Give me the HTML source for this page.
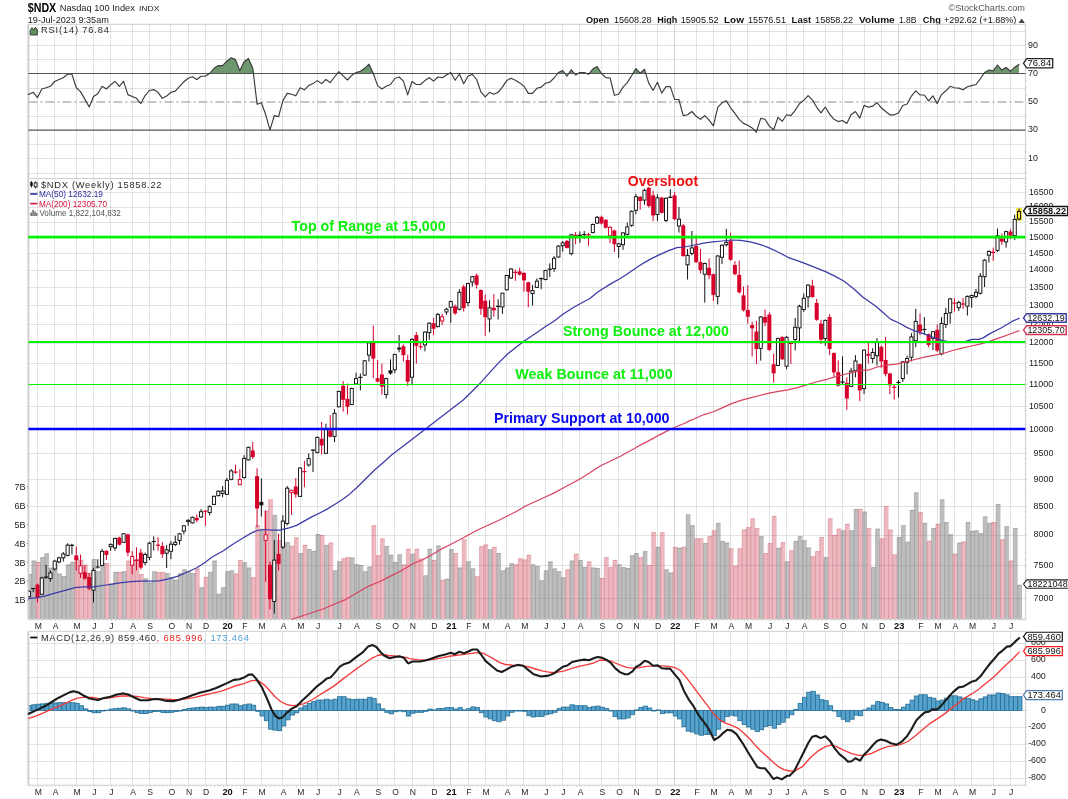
<!DOCTYPE html>
<html><head><meta charset="utf-8"><title>$NDX</title><style>html,body{margin:0;padding:0;background:#fff}svg{display:block;will-change:transform}text{font-family:"Liberation Sans",sans-serif;}</style></head><body>
<svg width="1068" height="799" viewBox="0 0 1068 799">
<rect width="1068" height="799" fill="#fff"/>
<defs><clipPath id="cpm"><rect x="28.4" y="631.3" width="997.0000000000001" height="153.9000000000001"/></clipPath><clipPath id="cpv"><rect x="28.4" y="178.5" width="997.0000000000001" height="440.79999999999995"/></clipPath></defs>
<text x="27.8" y="12.3" font-size="12.6" fill="#000" text-anchor="start" font-weight="bold" textLength="28.4" lengthAdjust="spacingAndGlyphs" >$NDX</text>
<text x="59.8" y="11.2" font-size="9.0" fill="#222" text-anchor="start" font-weight="normal" textLength="75.0" lengthAdjust="spacingAndGlyphs" >Nasdaq 100 Index</text>
<text x="139.0" y="11.2" font-size="7.9" fill="#222" text-anchor="start" font-weight="normal" textLength="20.3" lengthAdjust="spacingAndGlyphs" >INDX</text>
<text x="27.8" y="22.5" font-size="9" fill="#222" text-anchor="start" font-weight="normal" textLength="81.0" lengthAdjust="spacingAndGlyphs" >19-Jul-2023 9:35am</text>
<text x="1025.0" y="11.3" font-size="9.5" fill="#555" text-anchor="end" font-weight="normal" textLength="76.5" lengthAdjust="spacingAndGlyphs" >&#169;StockCharts.com</text>
<text x="585.9" y="22.6" font-size="9" fill="#111" text-anchor="start" font-weight="bold" textLength="23.2" lengthAdjust="spacingAndGlyphs" >Open</text>
<text x="613.9" y="22.6" font-size="9" fill="#111" text-anchor="start" font-weight="normal" textLength="37.5" lengthAdjust="spacingAndGlyphs" >15608.28</text>
<text x="657.2" y="22.6" font-size="9" fill="#111" text-anchor="start" font-weight="bold" textLength="20.0" lengthAdjust="spacingAndGlyphs" >High</text>
<text x="680.7" y="22.6" font-size="9" fill="#111" text-anchor="start" font-weight="normal" textLength="37.9" lengthAdjust="spacingAndGlyphs" >15905.52</text>
<text x="724.0" y="22.6" font-size="9" fill="#111" text-anchor="start" font-weight="bold" textLength="19.9" lengthAdjust="spacingAndGlyphs" >Low</text>
<text x="748.0" y="22.6" font-size="9" fill="#111" text-anchor="start" font-weight="normal" textLength="38.0" lengthAdjust="spacingAndGlyphs" >15576.51</text>
<text x="791.6" y="22.6" font-size="9" fill="#111" text-anchor="start" font-weight="bold" textLength="19.6" lengthAdjust="spacingAndGlyphs" >Last</text>
<text x="815.1" y="22.6" font-size="9" fill="#111" text-anchor="start" font-weight="normal" textLength="37.9" lengthAdjust="spacingAndGlyphs" >15858.22</text>
<text x="859.1" y="22.6" font-size="9" fill="#111" text-anchor="start" font-weight="bold" textLength="35.6" lengthAdjust="spacingAndGlyphs" >Volume</text>
<text x="898.9" y="22.6" font-size="9" fill="#111" text-anchor="start" font-weight="normal" textLength="17.6" lengthAdjust="spacingAndGlyphs" >1.8B</text>
<text x="922.8" y="22.6" font-size="9" fill="#111" text-anchor="start" font-weight="bold" textLength="18.0" lengthAdjust="spacingAndGlyphs" >Chg</text>
<text x="943.9" y="22.6" font-size="9" fill="#111" text-anchor="start" font-weight="normal" textLength="72.5" lengthAdjust="spacingAndGlyphs" >+292.62 (+1.88%)</text>
<path d="M1018.6,23 L1021.7,18.6 L1024.8,23 Z" fill="#444"/>
<line x1="37.5" y1="24.3" x2="37.5" y2="178.5" stroke="rgba(0,0,0,0.11)" stroke-width="1"/>
<line x1="54.5" y1="24.3" x2="54.5" y2="178.5" stroke="rgba(0,0,0,0.11)" stroke-width="1"/>
<line x1="76.5" y1="24.3" x2="76.5" y2="178.5" stroke="rgba(0,0,0,0.11)" stroke-width="1"/>
<line x1="93.5" y1="24.3" x2="93.5" y2="178.5" stroke="rgba(0,0,0,0.11)" stroke-width="1"/>
<line x1="110.5" y1="24.3" x2="110.5" y2="178.5" stroke="rgba(0,0,0,0.11)" stroke-width="1"/>
<line x1="132.5" y1="24.3" x2="132.5" y2="178.5" stroke="rgba(0,0,0,0.11)" stroke-width="1"/>
<line x1="149.5" y1="24.3" x2="149.5" y2="178.5" stroke="rgba(0,0,0,0.11)" stroke-width="1"/>
<line x1="170.5" y1="24.3" x2="170.5" y2="178.5" stroke="rgba(0,0,0,0.11)" stroke-width="1"/>
<line x1="188.5" y1="24.3" x2="188.5" y2="178.5" stroke="rgba(0,0,0,0.11)" stroke-width="1"/>
<line x1="205.5" y1="24.3" x2="205.5" y2="178.5" stroke="rgba(0,0,0,0.11)" stroke-width="1"/>
<line x1="226.5" y1="24.3" x2="226.5" y2="178.5" stroke="rgba(0,0,0,0.16)" stroke-width="1"/>
<line x1="244.5" y1="24.3" x2="244.5" y2="178.5" stroke="rgba(0,0,0,0.11)" stroke-width="1"/>
<line x1="261.5" y1="24.3" x2="261.5" y2="178.5" stroke="rgba(0,0,0,0.11)" stroke-width="1"/>
<line x1="282.5" y1="24.3" x2="282.5" y2="178.5" stroke="rgba(0,0,0,0.11)" stroke-width="1"/>
<line x1="300.5" y1="24.3" x2="300.5" y2="178.5" stroke="rgba(0,0,0,0.11)" stroke-width="1"/>
<line x1="317.5" y1="24.3" x2="317.5" y2="178.5" stroke="rgba(0,0,0,0.11)" stroke-width="1"/>
<line x1="338.5" y1="24.3" x2="338.5" y2="178.5" stroke="rgba(0,0,0,0.11)" stroke-width="1"/>
<line x1="356.5" y1="24.3" x2="356.5" y2="178.5" stroke="rgba(0,0,0,0.11)" stroke-width="1"/>
<line x1="377.5" y1="24.3" x2="377.5" y2="178.5" stroke="rgba(0,0,0,0.11)" stroke-width="1"/>
<line x1="394.5" y1="24.3" x2="394.5" y2="178.5" stroke="rgba(0,0,0,0.11)" stroke-width="1"/>
<line x1="412.5" y1="24.3" x2="412.5" y2="178.5" stroke="rgba(0,0,0,0.11)" stroke-width="1"/>
<line x1="433.5" y1="24.3" x2="433.5" y2="178.5" stroke="rgba(0,0,0,0.11)" stroke-width="1"/>
<line x1="450.5" y1="24.3" x2="450.5" y2="178.5" stroke="rgba(0,0,0,0.16)" stroke-width="1"/>
<line x1="468.5" y1="24.3" x2="468.5" y2="178.5" stroke="rgba(0,0,0,0.11)" stroke-width="1"/>
<line x1="485.5" y1="24.3" x2="485.5" y2="178.5" stroke="rgba(0,0,0,0.11)" stroke-width="1"/>
<line x1="506.5" y1="24.3" x2="506.5" y2="178.5" stroke="rgba(0,0,0,0.11)" stroke-width="1"/>
<line x1="523.5" y1="24.3" x2="523.5" y2="178.5" stroke="rgba(0,0,0,0.11)" stroke-width="1"/>
<line x1="545.5" y1="24.3" x2="545.5" y2="178.5" stroke="rgba(0,0,0,0.11)" stroke-width="1"/>
<line x1="562.5" y1="24.3" x2="562.5" y2="178.5" stroke="rgba(0,0,0,0.11)" stroke-width="1"/>
<line x1="579.5" y1="24.3" x2="579.5" y2="178.5" stroke="rgba(0,0,0,0.11)" stroke-width="1"/>
<line x1="601.5" y1="24.3" x2="601.5" y2="178.5" stroke="rgba(0,0,0,0.11)" stroke-width="1"/>
<line x1="618.5" y1="24.3" x2="618.5" y2="178.5" stroke="rgba(0,0,0,0.11)" stroke-width="1"/>
<line x1="635.5" y1="24.3" x2="635.5" y2="178.5" stroke="rgba(0,0,0,0.11)" stroke-width="1"/>
<line x1="657.5" y1="24.3" x2="657.5" y2="178.5" stroke="rgba(0,0,0,0.11)" stroke-width="1"/>
<line x1="674.5" y1="24.3" x2="674.5" y2="178.5" stroke="rgba(0,0,0,0.16)" stroke-width="1"/>
<line x1="696.5" y1="24.3" x2="696.5" y2="178.5" stroke="rgba(0,0,0,0.11)" stroke-width="1"/>
<line x1="713.5" y1="24.3" x2="713.5" y2="178.5" stroke="rgba(0,0,0,0.11)" stroke-width="1"/>
<line x1="730.5" y1="24.3" x2="730.5" y2="178.5" stroke="rgba(0,0,0,0.11)" stroke-width="1"/>
<line x1="747.5" y1="24.3" x2="747.5" y2="178.5" stroke="rgba(0,0,0,0.11)" stroke-width="1"/>
<line x1="769.5" y1="24.3" x2="769.5" y2="178.5" stroke="rgba(0,0,0,0.11)" stroke-width="1"/>
<line x1="786.5" y1="24.3" x2="786.5" y2="178.5" stroke="rgba(0,0,0,0.11)" stroke-width="1"/>
<line x1="803.5" y1="24.3" x2="803.5" y2="178.5" stroke="rgba(0,0,0,0.11)" stroke-width="1"/>
<line x1="825.5" y1="24.3" x2="825.5" y2="178.5" stroke="rgba(0,0,0,0.11)" stroke-width="1"/>
<line x1="842.5" y1="24.3" x2="842.5" y2="178.5" stroke="rgba(0,0,0,0.11)" stroke-width="1"/>
<line x1="864.5" y1="24.3" x2="864.5" y2="178.5" stroke="rgba(0,0,0,0.11)" stroke-width="1"/>
<line x1="881.5" y1="24.3" x2="881.5" y2="178.5" stroke="rgba(0,0,0,0.11)" stroke-width="1"/>
<line x1="898.5" y1="24.3" x2="898.5" y2="178.5" stroke="rgba(0,0,0,0.16)" stroke-width="1"/>
<line x1="920.5" y1="24.3" x2="920.5" y2="178.5" stroke="rgba(0,0,0,0.11)" stroke-width="1"/>
<line x1="937.5" y1="24.3" x2="937.5" y2="178.5" stroke="rgba(0,0,0,0.11)" stroke-width="1"/>
<line x1="954.5" y1="24.3" x2="954.5" y2="178.5" stroke="rgba(0,0,0,0.11)" stroke-width="1"/>
<line x1="971.5" y1="24.3" x2="971.5" y2="178.5" stroke="rgba(0,0,0,0.11)" stroke-width="1"/>
<line x1="993.5" y1="24.3" x2="993.5" y2="178.5" stroke="rgba(0,0,0,0.11)" stroke-width="1"/>
<line x1="1010.5" y1="24.3" x2="1010.5" y2="178.5" stroke="rgba(0,0,0,0.11)" stroke-width="1"/>
<line x1="28.4" y1="173.50" x2="1025.4" y2="173.50" stroke="rgba(0,0,0,0.11)" stroke-width="1" />
<line x1="28.4" y1="158.50" x2="1025.4" y2="158.50" stroke="rgba(0,0,0,0.11)" stroke-width="1" />
<line x1="28.4" y1="144.50" x2="1025.4" y2="144.50" stroke="rgba(0,0,0,0.11)" stroke-width="1" />
<line x1="28.4" y1="116.50" x2="1025.4" y2="116.50" stroke="rgba(0,0,0,0.11)" stroke-width="1" />
<line x1="28.4" y1="88.50" x2="1025.4" y2="88.50" stroke="rgba(0,0,0,0.11)" stroke-width="1" />
<line x1="28.4" y1="59.50" x2="1025.4" y2="59.50" stroke="rgba(0,0,0,0.11)" stroke-width="1" />
<line x1="28.4" y1="45.50" x2="1025.4" y2="45.50" stroke="rgba(0,0,0,0.11)" stroke-width="1" />
<line x1="28.4" y1="31.50" x2="1025.4" y2="31.50" stroke="rgba(0,0,0,0.11)" stroke-width="1" />
<rect x="28.4" y="24.3" width="997.0000000000001" height="154.2" fill="none" stroke="#cfcfcf" stroke-width="1"/>
<line x1="28.4" y1="24.3" x2="28.4" y2="178.5" stroke="#cdcdcd" stroke-width="1.8"/>
<path d="M209.7,73.5 L214.0,68.3 L218.3,65.6 L222.6,65.6 L226.9,61.2 L231.2,57.8 L235.5,59.6 L239.8,70.8 L244.1,61.8 L248.4,58.5 L252.8,68.3 L253.4,73.5 Z" fill="#6f976f" stroke="none"/>
<path d="M337.4,73.5 L338.8,71.7 L340.7,73.5 Z" fill="#6f976f" stroke="none"/>
<path d="M354.5,73.5 L356.1,72.5 L360.4,71.3 L364.7,68.3 L369.0,64.2 L373.3,73.5 Z" fill="#6f976f" stroke="none"/>
<path d="M449.1,73.5 L450.8,72.5 L451.3,73.5 Z" fill="#6f976f" stroke="none"/>
<path d="M557.6,73.5 L558.4,72.5 L562.7,70.5 L565.0,73.5 Z" fill="#6f976f" stroke="none"/>
<path d="M568.8,73.5 L571.3,69.8 L574.4,73.5 Z" fill="#6f976f" stroke="none"/>
<path d="M578.2,73.5 L579.9,72.5 L584.2,72.5 L586.6,73.5 Z" fill="#6f976f" stroke="none"/>
<path d="M589.2,73.5 L592.8,69.0 L597.1,66.5 L601.4,73.5 Z" fill="#6f976f" stroke="none"/>
<path d="M633.0,73.5 L635.9,68.6 L640.2,73.1 L644.5,69.3 L645.8,73.5 Z" fill="#6f976f" stroke="none"/>
<path d="M983.9,73.5 L984.6,72.5 L988.9,70.1 L993.2,70.8 L997.5,65.0 L1001.8,70.1 L1006.1,67.5 L1010.4,71.3 L1014.7,67.2 L1019.0,64.4 L1019.0,73.5 Z" fill="#6f976f" stroke="none"/>
<line x1="28.4" y1="73.50" x2="1025.4" y2="73.50" stroke="#555" stroke-width="1.1" />
<line x1="28.4" y1="130.10" x2="1025.4" y2="130.10" stroke="#555" stroke-width="1.1" />
<line x1="28.4" y1="102.00" x2="1025.4" y2="102.00" stroke="#b4b4b4" stroke-width="1.6" stroke-dasharray="9,3,2,3"/>
<path d="M28.4,94.6 L33.2,92.3 L37.5,97.6 L41.8,89.0 L46.1,87.8 L50.4,86.3 L54.7,81.5 L59.0,79.5 L63.3,77.7 L67.6,74.3 L71.9,74.1 L76.2,87.5 L80.5,91.6 L84.9,99.4 L89.2,107.0 L93.5,96.5 L97.8,93.8 L102.1,86.3 L106.4,89.0 L110.7,84.8 L115.0,81.4 L119.3,86.3 L123.6,81.4 L127.9,94.6 L132.2,96.5 L136.5,98.3 L140.8,103.6 L145.1,95.6 L149.4,90.5 L153.7,89.6 L158.0,92.3 L162.3,98.3 L166.6,96.1 L171.0,92.3 L175.3,91.1 L179.6,86.3 L183.9,81.8 L188.2,78.3 L192.5,76.8 L196.8,79.5 L201.1,76.2 L205.4,76.1 L209.7,73.5 L214.0,68.3 L218.3,65.6 L222.6,65.6 L226.9,61.2 L231.2,57.8 L235.5,59.6 L239.8,70.8 L244.1,61.8 L248.4,58.5 L252.8,68.3 L257.1,104.3 L261.4,102.7 L265.7,114.8 L270.0,129.8 L274.3,115.6 L278.6,116.6 L282.9,100.6 L287.2,93.4 L291.5,94.3 L295.8,95.8 L300.1,87.8 L304.4,89.8 L308.7,85.6 L313.0,83.6 L317.3,80.6 L321.6,83.6 L325.9,79.5 L330.2,82.6 L334.5,77.0 L338.8,71.7 L343.2,75.8 L347.5,80.0 L351.8,75.3 L356.1,72.5 L360.4,71.3 L364.7,68.3 L369.0,64.2 L373.3,73.5 L377.6,85.6 L381.9,89.0 L386.2,86.3 L390.5,84.5 L394.8,78.5 L399.1,77.0 L403.4,81.1 L407.7,94.9 L412.0,81.5 L416.3,84.5 L420.6,84.5 L424.9,80.6 L429.3,77.7 L433.6,81.1 L437.9,77.0 L442.2,77.7 L446.5,75.0 L450.8,72.5 L455.1,80.3 L459.4,74.0 L463.7,83.8 L468.0,76.2 L472.3,74.3 L476.6,79.5 L480.9,91.9 L485.2,96.8 L489.5,92.3 L493.8,94.3 L498.1,92.3 L502.4,87.1 L506.7,80.6 L511.0,78.3 L515.4,80.3 L519.7,82.9 L524.0,86.3 L528.3,93.4 L532.6,93.4 L536.9,88.3 L541.2,87.1 L545.5,83.3 L549.8,82.1 L554.1,78.0 L558.4,72.5 L562.7,70.5 L567.0,76.1 L571.3,69.8 L575.6,75.0 L579.9,72.5 L584.2,72.5 L588.5,74.3 L592.8,69.0 L597.1,66.5 L601.5,73.5 L605.8,77.6 L610.1,78.0 L614.4,95.3 L618.7,94.3 L623.0,87.1 L627.3,82.6 L631.6,75.8 L635.9,68.6 L640.2,73.1 L644.5,69.3 L648.8,83.3 L653.1,90.5 L657.4,82.3 L661.7,93.1 L666.0,86.6 L670.3,86.6 L674.6,99.4 L678.9,99.5 L683.2,115.6 L687.6,114.8 L691.9,111.5 L696.2,116.3 L700.5,119.3 L704.8,115.6 L709.1,120.1 L713.4,125.8 L717.7,107.3 L722.0,102.8 L726.3,100.9 L730.6,107.8 L734.9,113.3 L739.2,119.3 L743.5,123.4 L747.8,125.3 L752.1,127.9 L756.4,132.1 L760.7,118.3 L765.0,119.3 L769.3,126.1 L773.7,129.8 L778.0,117.4 L782.3,121.3 L786.6,114.8 L790.9,115.6 L795.2,110.3 L799.5,103.6 L803.8,100.3 L808.1,95.6 L812.4,99.8 L816.7,107.3 L821.0,112.9 L825.3,107.0 L829.6,114.1 L833.9,119.3 L838.2,121.6 L842.5,120.5 L846.8,123.4 L851.1,114.8 L855.4,111.5 L859.8,118.1 L864.1,105.4 L868.4,107.3 L872.7,106.1 L877.0,102.5 L881.3,107.8 L885.6,111.5 L889.9,114.8 L894.2,114.8 L898.5,113.0 L902.8,105.5 L907.1,104.0 L911.4,96.1 L915.7,90.8 L920.0,94.9 L924.3,95.0 L928.6,100.9 L932.9,95.8 L937.2,103.6 L941.5,94.6 L945.9,90.8 L950.2,86.3 L954.5,87.8 L958.8,88.1 L963.1,89.8 L967.4,86.8 L971.7,85.6 L976.0,84.5 L980.3,78.8 L984.6,72.5 L988.9,70.1 L993.2,70.8 L997.5,65.0 L1001.8,70.1 L1006.1,67.5 L1010.4,71.3 L1014.7,67.2 L1019.0,64.4" fill="none" stroke="#3a3a3a" stroke-width="1.15" stroke-linejoin="round" stroke-linecap="round" />
<text x="1028.0" y="47.5" font-size="8.5" fill="#222" text-anchor="start" font-weight="normal" textLength="9.9" lengthAdjust="spacingAndGlyphs" >90</text>
<text x="1028.0" y="75.8" font-size="8.5" fill="#222" text-anchor="start" font-weight="normal" textLength="9.9" lengthAdjust="spacingAndGlyphs" >70</text>
<text x="1028.0" y="104.1" font-size="8.5" fill="#222" text-anchor="start" font-weight="normal" textLength="9.9" lengthAdjust="spacingAndGlyphs" >50</text>
<text x="1028.0" y="132.4" font-size="8.5" fill="#222" text-anchor="start" font-weight="normal" textLength="9.9" lengthAdjust="spacingAndGlyphs" >30</text>
<text x="1028.0" y="160.7" font-size="8.5" fill="#222" text-anchor="start" font-weight="normal" textLength="9.9" lengthAdjust="spacingAndGlyphs" >10</text>
<line x1="1025.4" y1="172.6" x2="1026.8000000000002" y2="172.6" stroke="#c8c8c8" stroke-width="0.8"/>
<line x1="1025.4" y1="165.5" x2="1026.8000000000002" y2="165.5" stroke="#c8c8c8" stroke-width="0.8"/>
<line x1="1025.4" y1="158.4" x2="1026.8000000000002" y2="158.4" stroke="#c8c8c8" stroke-width="0.8"/>
<line x1="1025.4" y1="151.3" x2="1026.8000000000002" y2="151.3" stroke="#c8c8c8" stroke-width="0.8"/>
<line x1="1025.4" y1="144.2" x2="1026.8000000000002" y2="144.2" stroke="#c8c8c8" stroke-width="0.8"/>
<line x1="1025.4" y1="137.2" x2="1026.8000000000002" y2="137.2" stroke="#c8c8c8" stroke-width="0.8"/>
<line x1="1025.4" y1="130.1" x2="1026.8000000000002" y2="130.1" stroke="#c8c8c8" stroke-width="0.8"/>
<line x1="1025.4" y1="123.0" x2="1026.8000000000002" y2="123.0" stroke="#c8c8c8" stroke-width="0.8"/>
<line x1="1025.4" y1="116.0" x2="1026.8000000000002" y2="116.0" stroke="#c8c8c8" stroke-width="0.8"/>
<line x1="1025.4" y1="108.9" x2="1026.8000000000002" y2="108.9" stroke="#c8c8c8" stroke-width="0.8"/>
<line x1="1025.4" y1="101.8" x2="1026.8000000000002" y2="101.8" stroke="#c8c8c8" stroke-width="0.8"/>
<line x1="1025.4" y1="94.7" x2="1026.8000000000002" y2="94.7" stroke="#c8c8c8" stroke-width="0.8"/>
<line x1="1025.4" y1="87.6" x2="1026.8000000000002" y2="87.6" stroke="#c8c8c8" stroke-width="0.8"/>
<line x1="1025.4" y1="80.6" x2="1026.8000000000002" y2="80.6" stroke="#c8c8c8" stroke-width="0.8"/>
<line x1="1025.4" y1="73.5" x2="1026.8000000000002" y2="73.5" stroke="#c8c8c8" stroke-width="0.8"/>
<line x1="1025.4" y1="66.4" x2="1026.8000000000002" y2="66.4" stroke="#c8c8c8" stroke-width="0.8"/>
<line x1="1025.4" y1="59.3" x2="1026.8000000000002" y2="59.3" stroke="#c8c8c8" stroke-width="0.8"/>
<line x1="1025.4" y1="52.3" x2="1026.8000000000002" y2="52.3" stroke="#c8c8c8" stroke-width="0.8"/>
<line x1="1025.4" y1="45.2" x2="1026.8000000000002" y2="45.2" stroke="#c8c8c8" stroke-width="0.8"/>
<line x1="1025.4" y1="38.1" x2="1026.8000000000002" y2="38.1" stroke="#c8c8c8" stroke-width="0.8"/>
<line x1="1025.4" y1="31.0" x2="1026.8000000000002" y2="31.0" stroke="#c8c8c8" stroke-width="0.8"/>
<path d="M1023.5,63.3 L1026.7,58.7 L1052.7,58.7 L1052.7,67.9 L1026.7,67.9 Z" fill="#fff" stroke="#222" stroke-width="1.3"/>
<text x="1027.4" y="66.1" font-size="8.4" fill="#111" text-anchor="start" font-weight="normal" textLength="23.8" lengthAdjust="spacingAndGlyphs" >76.84</text>
<path d="M30.2,35 L30.2,30.5 L32,27.6 L33.6,30 L35.3,27.2 L37.3,29.8 L37.3,35 Z" fill="#5f8f5f" stroke="#222" stroke-width="0.8"/>
<text x="41.0" y="33.3" font-size="9.2" fill="#2a2a2a" text-anchor="start" font-weight="normal" textLength="67.8" lengthAdjust="spacing" >RSI(14) 76.84</text>
<line x1="37.5" y1="178.5" x2="37.5" y2="619.3" stroke="rgba(0,0,0,0.11)" stroke-width="1"/>
<line x1="54.5" y1="178.5" x2="54.5" y2="619.3" stroke="rgba(0,0,0,0.11)" stroke-width="1"/>
<line x1="76.5" y1="178.5" x2="76.5" y2="619.3" stroke="rgba(0,0,0,0.11)" stroke-width="1"/>
<line x1="93.5" y1="178.5" x2="93.5" y2="619.3" stroke="rgba(0,0,0,0.11)" stroke-width="1"/>
<line x1="110.5" y1="178.5" x2="110.5" y2="619.3" stroke="rgba(0,0,0,0.11)" stroke-width="1"/>
<line x1="132.5" y1="178.5" x2="132.5" y2="619.3" stroke="rgba(0,0,0,0.11)" stroke-width="1"/>
<line x1="149.5" y1="178.5" x2="149.5" y2="619.3" stroke="rgba(0,0,0,0.11)" stroke-width="1"/>
<line x1="170.5" y1="178.5" x2="170.5" y2="619.3" stroke="rgba(0,0,0,0.11)" stroke-width="1"/>
<line x1="188.5" y1="178.5" x2="188.5" y2="619.3" stroke="rgba(0,0,0,0.11)" stroke-width="1"/>
<line x1="205.5" y1="178.5" x2="205.5" y2="619.3" stroke="rgba(0,0,0,0.11)" stroke-width="1"/>
<line x1="226.5" y1="178.5" x2="226.5" y2="619.3" stroke="rgba(0,0,0,0.16)" stroke-width="1"/>
<line x1="244.5" y1="178.5" x2="244.5" y2="619.3" stroke="rgba(0,0,0,0.11)" stroke-width="1"/>
<line x1="261.5" y1="178.5" x2="261.5" y2="619.3" stroke="rgba(0,0,0,0.11)" stroke-width="1"/>
<line x1="282.5" y1="178.5" x2="282.5" y2="619.3" stroke="rgba(0,0,0,0.11)" stroke-width="1"/>
<line x1="300.5" y1="178.5" x2="300.5" y2="619.3" stroke="rgba(0,0,0,0.11)" stroke-width="1"/>
<line x1="317.5" y1="178.5" x2="317.5" y2="619.3" stroke="rgba(0,0,0,0.11)" stroke-width="1"/>
<line x1="338.5" y1="178.5" x2="338.5" y2="619.3" stroke="rgba(0,0,0,0.11)" stroke-width="1"/>
<line x1="356.5" y1="178.5" x2="356.5" y2="619.3" stroke="rgba(0,0,0,0.11)" stroke-width="1"/>
<line x1="377.5" y1="178.5" x2="377.5" y2="619.3" stroke="rgba(0,0,0,0.11)" stroke-width="1"/>
<line x1="394.5" y1="178.5" x2="394.5" y2="619.3" stroke="rgba(0,0,0,0.11)" stroke-width="1"/>
<line x1="412.5" y1="178.5" x2="412.5" y2="619.3" stroke="rgba(0,0,0,0.11)" stroke-width="1"/>
<line x1="433.5" y1="178.5" x2="433.5" y2="619.3" stroke="rgba(0,0,0,0.11)" stroke-width="1"/>
<line x1="450.5" y1="178.5" x2="450.5" y2="619.3" stroke="rgba(0,0,0,0.16)" stroke-width="1"/>
<line x1="468.5" y1="178.5" x2="468.5" y2="619.3" stroke="rgba(0,0,0,0.11)" stroke-width="1"/>
<line x1="485.5" y1="178.5" x2="485.5" y2="619.3" stroke="rgba(0,0,0,0.11)" stroke-width="1"/>
<line x1="506.5" y1="178.5" x2="506.5" y2="619.3" stroke="rgba(0,0,0,0.11)" stroke-width="1"/>
<line x1="523.5" y1="178.5" x2="523.5" y2="619.3" stroke="rgba(0,0,0,0.11)" stroke-width="1"/>
<line x1="545.5" y1="178.5" x2="545.5" y2="619.3" stroke="rgba(0,0,0,0.11)" stroke-width="1"/>
<line x1="562.5" y1="178.5" x2="562.5" y2="619.3" stroke="rgba(0,0,0,0.11)" stroke-width="1"/>
<line x1="579.5" y1="178.5" x2="579.5" y2="619.3" stroke="rgba(0,0,0,0.11)" stroke-width="1"/>
<line x1="601.5" y1="178.5" x2="601.5" y2="619.3" stroke="rgba(0,0,0,0.11)" stroke-width="1"/>
<line x1="618.5" y1="178.5" x2="618.5" y2="619.3" stroke="rgba(0,0,0,0.11)" stroke-width="1"/>
<line x1="635.5" y1="178.5" x2="635.5" y2="619.3" stroke="rgba(0,0,0,0.11)" stroke-width="1"/>
<line x1="657.5" y1="178.5" x2="657.5" y2="619.3" stroke="rgba(0,0,0,0.11)" stroke-width="1"/>
<line x1="674.5" y1="178.5" x2="674.5" y2="619.3" stroke="rgba(0,0,0,0.16)" stroke-width="1"/>
<line x1="696.5" y1="178.5" x2="696.5" y2="619.3" stroke="rgba(0,0,0,0.11)" stroke-width="1"/>
<line x1="713.5" y1="178.5" x2="713.5" y2="619.3" stroke="rgba(0,0,0,0.11)" stroke-width="1"/>
<line x1="730.5" y1="178.5" x2="730.5" y2="619.3" stroke="rgba(0,0,0,0.11)" stroke-width="1"/>
<line x1="747.5" y1="178.5" x2="747.5" y2="619.3" stroke="rgba(0,0,0,0.11)" stroke-width="1"/>
<line x1="769.5" y1="178.5" x2="769.5" y2="619.3" stroke="rgba(0,0,0,0.11)" stroke-width="1"/>
<line x1="786.5" y1="178.5" x2="786.5" y2="619.3" stroke="rgba(0,0,0,0.11)" stroke-width="1"/>
<line x1="803.5" y1="178.5" x2="803.5" y2="619.3" stroke="rgba(0,0,0,0.11)" stroke-width="1"/>
<line x1="825.5" y1="178.5" x2="825.5" y2="619.3" stroke="rgba(0,0,0,0.11)" stroke-width="1"/>
<line x1="842.5" y1="178.5" x2="842.5" y2="619.3" stroke="rgba(0,0,0,0.11)" stroke-width="1"/>
<line x1="864.5" y1="178.5" x2="864.5" y2="619.3" stroke="rgba(0,0,0,0.11)" stroke-width="1"/>
<line x1="881.5" y1="178.5" x2="881.5" y2="619.3" stroke="rgba(0,0,0,0.11)" stroke-width="1"/>
<line x1="898.5" y1="178.5" x2="898.5" y2="619.3" stroke="rgba(0,0,0,0.16)" stroke-width="1"/>
<line x1="920.5" y1="178.5" x2="920.5" y2="619.3" stroke="rgba(0,0,0,0.11)" stroke-width="1"/>
<line x1="937.5" y1="178.5" x2="937.5" y2="619.3" stroke="rgba(0,0,0,0.11)" stroke-width="1"/>
<line x1="954.5" y1="178.5" x2="954.5" y2="619.3" stroke="rgba(0,0,0,0.11)" stroke-width="1"/>
<line x1="971.5" y1="178.5" x2="971.5" y2="619.3" stroke="rgba(0,0,0,0.11)" stroke-width="1"/>
<line x1="993.5" y1="178.5" x2="993.5" y2="619.3" stroke="rgba(0,0,0,0.11)" stroke-width="1"/>
<line x1="1010.5" y1="178.5" x2="1010.5" y2="619.3" stroke="rgba(0,0,0,0.11)" stroke-width="1"/>
<line x1="28.4" y1="598.50" x2="1025.4" y2="598.50" stroke="rgba(0,0,0,0.11)" stroke-width="1" />
<line x1="28.4" y1="565.50" x2="1025.4" y2="565.50" stroke="rgba(0,0,0,0.11)" stroke-width="1" />
<line x1="28.4" y1="535.50" x2="1025.4" y2="535.50" stroke="rgba(0,0,0,0.11)" stroke-width="1" />
<line x1="28.4" y1="506.50" x2="1025.4" y2="506.50" stroke="rgba(0,0,0,0.11)" stroke-width="1" />
<line x1="28.4" y1="479.50" x2="1025.4" y2="479.50" stroke="rgba(0,0,0,0.11)" stroke-width="1" />
<line x1="28.4" y1="453.50" x2="1025.4" y2="453.50" stroke="rgba(0,0,0,0.11)" stroke-width="1" />
<line x1="28.4" y1="429.50" x2="1025.4" y2="429.50" stroke="rgba(0,0,0,0.11)" stroke-width="1" />
<line x1="28.4" y1="406.50" x2="1025.4" y2="406.50" stroke="rgba(0,0,0,0.11)" stroke-width="1" />
<line x1="28.4" y1="384.50" x2="1025.4" y2="384.50" stroke="rgba(0,0,0,0.11)" stroke-width="1" />
<line x1="28.4" y1="363.50" x2="1025.4" y2="363.50" stroke="rgba(0,0,0,0.11)" stroke-width="1" />
<line x1="28.4" y1="343.50" x2="1025.4" y2="343.50" stroke="rgba(0,0,0,0.11)" stroke-width="1" />
<line x1="28.4" y1="324.50" x2="1025.4" y2="324.50" stroke="rgba(0,0,0,0.11)" stroke-width="1" />
<line x1="28.4" y1="305.50" x2="1025.4" y2="305.50" stroke="rgba(0,0,0,0.11)" stroke-width="1" />
<line x1="28.4" y1="287.50" x2="1025.4" y2="287.50" stroke="rgba(0,0,0,0.11)" stroke-width="1" />
<line x1="28.4" y1="270.50" x2="1025.4" y2="270.50" stroke="rgba(0,0,0,0.11)" stroke-width="1" />
<line x1="28.4" y1="253.50" x2="1025.4" y2="253.50" stroke="rgba(0,0,0,0.11)" stroke-width="1" />
<line x1="28.4" y1="237.50" x2="1025.4" y2="237.50" stroke="rgba(0,0,0,0.11)" stroke-width="1" />
<line x1="28.4" y1="222.50" x2="1025.4" y2="222.50" stroke="rgba(0,0,0,0.11)" stroke-width="1" />
<line x1="28.4" y1="207.50" x2="1025.4" y2="207.50" stroke="rgba(0,0,0,0.11)" stroke-width="1" />
<line x1="28.4" y1="192.50" x2="1025.4" y2="192.50" stroke="rgba(0,0,0,0.11)" stroke-width="1" />
<g clip-path="url(#cpv)">
<rect x="27.54" y="574.2" width="4.30" height="45.1" fill="rgba(126,126,126,0.50)"/>
<path d="M27.54,619.3 V574.5 H31.84" fill="none" stroke="rgba(95,95,95,0.32)" stroke-width="0.9"/>
<rect x="31.84" y="560.7" width="4.30" height="58.6" fill="rgba(126,126,126,0.50)"/>
<path d="M31.84,619.3 V561.0 H36.15" fill="none" stroke="rgba(95,95,95,0.32)" stroke-width="0.9"/>
<rect x="36.15" y="562.0" width="4.30" height="57.3" fill="rgba(205,60,80,0.36)"/>
<path d="M36.15,619.3 V562.3 H40.45" fill="none" stroke="rgba(195,50,75,0.30)" stroke-width="0.9"/>
<rect x="40.45" y="557.3" width="4.30" height="62.0" fill="rgba(126,126,126,0.50)"/>
<path d="M40.45,619.3 V557.6 H44.76" fill="none" stroke="rgba(95,95,95,0.32)" stroke-width="0.9"/>
<rect x="44.76" y="553.6" width="4.30" height="65.7" fill="rgba(126,126,126,0.50)"/>
<path d="M44.76,619.3 V553.9 H49.06" fill="none" stroke="rgba(95,95,95,0.32)" stroke-width="0.9"/>
<rect x="49.06" y="567.7" width="4.30" height="51.6" fill="rgba(126,126,126,0.50)"/>
<path d="M49.06,619.3 V568.0 H53.37" fill="none" stroke="rgba(95,95,95,0.32)" stroke-width="0.9"/>
<rect x="53.37" y="563.9" width="4.30" height="55.4" fill="rgba(126,126,126,0.50)"/>
<path d="M53.37,619.3 V564.2 H57.67" fill="none" stroke="rgba(95,95,95,0.32)" stroke-width="0.9"/>
<rect x="57.67" y="573.7" width="4.30" height="45.6" fill="rgba(126,126,126,0.50)"/>
<path d="M57.67,619.3 V574.0 H61.98" fill="none" stroke="rgba(95,95,95,0.32)" stroke-width="0.9"/>
<rect x="61.98" y="576.1" width="4.30" height="43.2" fill="rgba(126,126,126,0.50)"/>
<path d="M61.98,619.3 V576.4 H66.28" fill="none" stroke="rgba(95,95,95,0.32)" stroke-width="0.9"/>
<rect x="66.28" y="564.5" width="4.30" height="54.8" fill="rgba(126,126,126,0.50)"/>
<path d="M66.28,619.3 V564.8 H70.59" fill="none" stroke="rgba(95,95,95,0.32)" stroke-width="0.9"/>
<rect x="70.59" y="562.0" width="4.30" height="57.3" fill="rgba(126,126,126,0.50)"/>
<path d="M70.59,619.3 V562.3 H74.89" fill="none" stroke="rgba(95,95,95,0.32)" stroke-width="0.9"/>
<rect x="74.89" y="558.3" width="4.30" height="61.0" fill="rgba(205,60,80,0.36)"/>
<path d="M74.89,619.3 V558.6 H79.20" fill="none" stroke="rgba(195,50,75,0.30)" stroke-width="0.9"/>
<rect x="79.20" y="560.1" width="4.30" height="59.2" fill="rgba(205,60,80,0.36)"/>
<path d="M79.20,619.3 V560.4 H83.50" fill="none" stroke="rgba(195,50,75,0.30)" stroke-width="0.9"/>
<rect x="83.50" y="564.8" width="4.30" height="54.5" fill="rgba(205,60,80,0.36)"/>
<path d="M83.50,619.3 V565.1 H87.81" fill="none" stroke="rgba(195,50,75,0.30)" stroke-width="0.9"/>
<rect x="87.81" y="572.9" width="4.30" height="46.4" fill="rgba(205,60,80,0.36)"/>
<path d="M87.81,619.3 V573.2 H92.11" fill="none" stroke="rgba(195,50,75,0.30)" stroke-width="0.9"/>
<rect x="92.11" y="559.2" width="4.30" height="60.1" fill="rgba(126,126,126,0.50)"/>
<path d="M92.11,619.3 V559.5 H96.42" fill="none" stroke="rgba(95,95,95,0.32)" stroke-width="0.9"/>
<rect x="96.42" y="571.4" width="4.30" height="47.9" fill="rgba(126,126,126,0.50)"/>
<path d="M96.42,619.3 V571.7 H100.72" fill="none" stroke="rgba(95,95,95,0.32)" stroke-width="0.9"/>
<rect x="100.72" y="563.0" width="4.30" height="56.3" fill="rgba(126,126,126,0.50)"/>
<path d="M100.72,619.3 V563.3 H105.03" fill="none" stroke="rgba(95,95,95,0.32)" stroke-width="0.9"/>
<rect x="105.03" y="563.3" width="4.30" height="56.0" fill="rgba(205,60,80,0.36)"/>
<path d="M105.03,619.3 V563.6 H109.33" fill="none" stroke="rgba(195,50,75,0.30)" stroke-width="0.9"/>
<rect x="109.33" y="583.6" width="4.30" height="35.7" fill="rgba(126,126,126,0.50)"/>
<path d="M109.33,619.3 V583.9 H113.64" fill="none" stroke="rgba(95,95,95,0.32)" stroke-width="0.9"/>
<rect x="113.64" y="572.0" width="4.30" height="47.3" fill="rgba(126,126,126,0.50)"/>
<path d="M113.64,619.3 V572.3 H117.94" fill="none" stroke="rgba(95,95,95,0.32)" stroke-width="0.9"/>
<rect x="117.94" y="572.0" width="4.30" height="47.3" fill="rgba(205,60,80,0.36)"/>
<path d="M117.94,619.3 V572.3 H122.25" fill="none" stroke="rgba(195,50,75,0.30)" stroke-width="0.9"/>
<rect x="122.25" y="571.4" width="4.30" height="47.9" fill="rgba(126,126,126,0.50)"/>
<path d="M122.25,619.3 V571.7 H126.55" fill="none" stroke="rgba(95,95,95,0.32)" stroke-width="0.9"/>
<rect x="126.55" y="560.7" width="4.30" height="58.6" fill="rgba(205,60,80,0.36)"/>
<path d="M126.55,619.3 V561.0 H130.86" fill="none" stroke="rgba(195,50,75,0.30)" stroke-width="0.9"/>
<rect x="130.86" y="560.1" width="4.30" height="59.2" fill="rgba(205,60,80,0.36)"/>
<path d="M130.86,619.3 V560.4 H135.16" fill="none" stroke="rgba(195,50,75,0.30)" stroke-width="0.9"/>
<rect x="135.16" y="559.2" width="4.30" height="60.1" fill="rgba(205,60,80,0.36)"/>
<path d="M135.16,619.3 V559.5 H139.47" fill="none" stroke="rgba(195,50,75,0.30)" stroke-width="0.9"/>
<rect x="139.47" y="574.2" width="4.30" height="45.1" fill="rgba(205,60,80,0.36)"/>
<path d="M139.47,619.3 V574.5 H143.77" fill="none" stroke="rgba(195,50,75,0.30)" stroke-width="0.9"/>
<rect x="143.77" y="578.5" width="4.30" height="40.8" fill="rgba(126,126,126,0.50)"/>
<path d="M143.77,619.3 V578.8 H148.08" fill="none" stroke="rgba(95,95,95,0.32)" stroke-width="0.9"/>
<rect x="148.08" y="582.7" width="4.30" height="36.6" fill="rgba(126,126,126,0.50)"/>
<path d="M148.08,619.3 V583.0 H152.38" fill="none" stroke="rgba(95,95,95,0.32)" stroke-width="0.9"/>
<rect x="152.38" y="571.4" width="4.30" height="47.9" fill="rgba(126,126,126,0.50)"/>
<path d="M152.38,619.3 V571.7 H156.69" fill="none" stroke="rgba(95,95,95,0.32)" stroke-width="0.9"/>
<rect x="156.69" y="572.3" width="4.30" height="47.0" fill="rgba(205,60,80,0.36)"/>
<path d="M156.69,619.3 V572.6 H160.99" fill="none" stroke="rgba(195,50,75,0.30)" stroke-width="0.9"/>
<rect x="160.99" y="572.0" width="4.30" height="47.3" fill="rgba(205,60,80,0.36)"/>
<path d="M160.99,619.3 V572.3 H165.30" fill="none" stroke="rgba(195,50,75,0.30)" stroke-width="0.9"/>
<rect x="165.30" y="573.3" width="4.30" height="46.0" fill="rgba(126,126,126,0.50)"/>
<path d="M165.30,619.3 V573.6 H169.60" fill="none" stroke="rgba(95,95,95,0.32)" stroke-width="0.9"/>
<rect x="169.60" y="577.0" width="4.30" height="42.3" fill="rgba(126,126,126,0.50)"/>
<path d="M169.60,619.3 V577.3 H173.91" fill="none" stroke="rgba(95,95,95,0.32)" stroke-width="0.9"/>
<rect x="173.91" y="579.9" width="4.30" height="39.4" fill="rgba(126,126,126,0.50)"/>
<path d="M173.91,619.3 V580.2 H178.21" fill="none" stroke="rgba(95,95,95,0.32)" stroke-width="0.9"/>
<rect x="178.21" y="573.3" width="4.30" height="46.0" fill="rgba(126,126,126,0.50)"/>
<path d="M178.21,619.3 V573.6 H182.52" fill="none" stroke="rgba(95,95,95,0.32)" stroke-width="0.9"/>
<rect x="182.52" y="569.5" width="4.30" height="49.8" fill="rgba(126,126,126,0.50)"/>
<path d="M182.52,619.3 V569.8 H186.82" fill="none" stroke="rgba(95,95,95,0.32)" stroke-width="0.9"/>
<rect x="186.82" y="571.4" width="4.30" height="47.9" fill="rgba(126,126,126,0.50)"/>
<path d="M186.82,619.3 V571.7 H191.13" fill="none" stroke="rgba(95,95,95,0.32)" stroke-width="0.9"/>
<rect x="191.13" y="573.3" width="4.30" height="46.0" fill="rgba(126,126,126,0.50)"/>
<path d="M191.13,619.3 V573.6 H195.43" fill="none" stroke="rgba(95,95,95,0.32)" stroke-width="0.9"/>
<rect x="195.43" y="568.6" width="4.30" height="50.7" fill="rgba(205,60,80,0.36)"/>
<path d="M195.43,619.3 V568.9 H199.74" fill="none" stroke="rgba(195,50,75,0.30)" stroke-width="0.9"/>
<rect x="199.74" y="587.4" width="4.30" height="31.9" fill="rgba(126,126,126,0.50)"/>
<path d="M199.74,619.3 V587.7 H204.04" fill="none" stroke="rgba(95,95,95,0.32)" stroke-width="0.9"/>
<rect x="204.04" y="577.0" width="4.30" height="42.3" fill="rgba(205,60,80,0.36)"/>
<path d="M204.04,619.3 V577.3 H208.35" fill="none" stroke="rgba(195,50,75,0.30)" stroke-width="0.9"/>
<rect x="208.35" y="572.0" width="4.30" height="47.3" fill="rgba(126,126,126,0.50)"/>
<path d="M208.35,619.3 V572.3 H212.65" fill="none" stroke="rgba(95,95,95,0.32)" stroke-width="0.9"/>
<rect x="212.65" y="560.7" width="4.30" height="58.6" fill="rgba(126,126,126,0.50)"/>
<path d="M212.65,619.3 V561.0 H216.96" fill="none" stroke="rgba(95,95,95,0.32)" stroke-width="0.9"/>
<rect x="216.96" y="593.9" width="4.30" height="25.4" fill="rgba(126,126,126,0.50)"/>
<path d="M216.96,619.3 V594.2 H221.26" fill="none" stroke="rgba(95,95,95,0.32)" stroke-width="0.9"/>
<rect x="221.26" y="587.4" width="4.30" height="31.9" fill="rgba(126,126,126,0.50)"/>
<path d="M221.26,619.3 V587.7 H225.57" fill="none" stroke="rgba(95,95,95,0.32)" stroke-width="0.9"/>
<rect x="225.57" y="571.4" width="4.30" height="47.9" fill="rgba(126,126,126,0.50)"/>
<path d="M225.57,619.3 V571.7 H229.87" fill="none" stroke="rgba(95,95,95,0.32)" stroke-width="0.9"/>
<rect x="229.87" y="570.5" width="4.30" height="48.8" fill="rgba(126,126,126,0.50)"/>
<path d="M229.87,619.3 V570.8 H234.18" fill="none" stroke="rgba(95,95,95,0.32)" stroke-width="0.9"/>
<rect x="234.18" y="573.7" width="4.30" height="45.6" fill="rgba(205,60,80,0.36)"/>
<path d="M234.18,619.3 V574.0 H238.48" fill="none" stroke="rgba(195,50,75,0.30)" stroke-width="0.9"/>
<rect x="238.48" y="560.1" width="4.30" height="59.2" fill="rgba(205,60,80,0.36)"/>
<path d="M238.48,619.3 V560.4 H242.79" fill="none" stroke="rgba(195,50,75,0.30)" stroke-width="0.9"/>
<rect x="242.79" y="562.4" width="4.30" height="56.9" fill="rgba(126,126,126,0.50)"/>
<path d="M242.79,619.3 V562.7 H247.09" fill="none" stroke="rgba(95,95,95,0.32)" stroke-width="0.9"/>
<rect x="247.09" y="567.7" width="4.30" height="51.6" fill="rgba(126,126,126,0.50)"/>
<path d="M247.09,619.3 V568.0 H251.40" fill="none" stroke="rgba(95,95,95,0.32)" stroke-width="0.9"/>
<rect x="251.40" y="577.4" width="4.30" height="41.9" fill="rgba(205,60,80,0.36)"/>
<path d="M251.40,619.3 V577.7 H255.70" fill="none" stroke="rgba(195,50,75,0.30)" stroke-width="0.9"/>
<rect x="255.70" y="525.4" width="4.30" height="93.9" fill="rgba(205,60,80,0.36)"/>
<path d="M255.70,619.3 V525.7 H260.01" fill="none" stroke="rgba(195,50,75,0.30)" stroke-width="0.9"/>
<rect x="260.01" y="529.0" width="4.30" height="90.3" fill="rgba(126,126,126,0.50)"/>
<path d="M260.01,619.3 V529.3 H264.31" fill="none" stroke="rgba(95,95,95,0.32)" stroke-width="0.9"/>
<rect x="264.31" y="510.9" width="4.30" height="108.4" fill="rgba(205,60,80,0.36)"/>
<path d="M264.31,619.3 V511.2 H268.62" fill="none" stroke="rgba(195,50,75,0.30)" stroke-width="0.9"/>
<rect x="268.62" y="499.5" width="4.30" height="119.8" fill="rgba(205,60,80,0.36)"/>
<path d="M268.62,619.3 V499.8 H272.92" fill="none" stroke="rgba(195,50,75,0.30)" stroke-width="0.9"/>
<rect x="272.92" y="515.1" width="4.30" height="104.2" fill="rgba(126,126,126,0.50)"/>
<path d="M272.92,619.3 V515.4 H277.23" fill="none" stroke="rgba(95,95,95,0.32)" stroke-width="0.9"/>
<rect x="277.23" y="540.4" width="4.30" height="78.9" fill="rgba(205,60,80,0.36)"/>
<path d="M277.23,619.3 V540.7 H281.53" fill="none" stroke="rgba(195,50,75,0.30)" stroke-width="0.9"/>
<rect x="281.53" y="543.2" width="4.30" height="76.1" fill="rgba(126,126,126,0.50)"/>
<path d="M281.53,619.3 V543.5 H285.84" fill="none" stroke="rgba(95,95,95,0.32)" stroke-width="0.9"/>
<rect x="285.84" y="542.3" width="4.30" height="77.0" fill="rgba(126,126,126,0.50)"/>
<path d="M285.84,619.3 V542.6 H290.14" fill="none" stroke="rgba(95,95,95,0.32)" stroke-width="0.9"/>
<rect x="290.14" y="545.9" width="4.30" height="73.4" fill="rgba(205,60,80,0.36)"/>
<path d="M290.14,619.3 V546.2 H294.45" fill="none" stroke="rgba(195,50,75,0.30)" stroke-width="0.9"/>
<rect x="294.45" y="537.6" width="4.30" height="81.7" fill="rgba(205,60,80,0.36)"/>
<path d="M294.45,619.3 V537.9 H298.75" fill="none" stroke="rgba(195,50,75,0.30)" stroke-width="0.9"/>
<rect x="298.75" y="553.2" width="4.30" height="66.1" fill="rgba(126,126,126,0.50)"/>
<path d="M298.75,619.3 V553.5 H303.06" fill="none" stroke="rgba(95,95,95,0.32)" stroke-width="0.9"/>
<rect x="303.06" y="545.1" width="4.30" height="74.2" fill="rgba(205,60,80,0.36)"/>
<path d="M303.06,619.3 V545.4 H307.36" fill="none" stroke="rgba(195,50,75,0.30)" stroke-width="0.9"/>
<rect x="307.36" y="549.2" width="4.30" height="70.1" fill="rgba(126,126,126,0.50)"/>
<path d="M307.36,619.3 V549.5 H311.67" fill="none" stroke="rgba(95,95,95,0.32)" stroke-width="0.9"/>
<rect x="311.67" y="551.1" width="4.30" height="68.2" fill="rgba(126,126,126,0.50)"/>
<path d="M311.67,619.3 V551.4 H315.97" fill="none" stroke="rgba(95,95,95,0.32)" stroke-width="0.9"/>
<rect x="315.97" y="534.2" width="4.30" height="85.1" fill="rgba(126,126,126,0.50)"/>
<path d="M315.97,619.3 V534.5 H320.28" fill="none" stroke="rgba(95,95,95,0.32)" stroke-width="0.9"/>
<rect x="320.28" y="535.2" width="4.30" height="84.1" fill="rgba(205,60,80,0.36)"/>
<path d="M320.28,619.3 V535.5 H324.58" fill="none" stroke="rgba(195,50,75,0.30)" stroke-width="0.9"/>
<rect x="324.58" y="545.1" width="4.30" height="74.2" fill="rgba(126,126,126,0.50)"/>
<path d="M324.58,619.3 V545.4 H328.89" fill="none" stroke="rgba(95,95,95,0.32)" stroke-width="0.9"/>
<rect x="328.89" y="542.7" width="4.30" height="76.6" fill="rgba(205,60,80,0.36)"/>
<path d="M328.89,619.3 V543.0 H333.19" fill="none" stroke="rgba(195,50,75,0.30)" stroke-width="0.9"/>
<rect x="333.19" y="570.5" width="4.30" height="48.8" fill="rgba(126,126,126,0.50)"/>
<path d="M333.19,619.3 V570.8 H337.50" fill="none" stroke="rgba(95,95,95,0.32)" stroke-width="0.9"/>
<rect x="337.50" y="561.5" width="4.30" height="57.8" fill="rgba(126,126,126,0.50)"/>
<path d="M337.50,619.3 V561.8 H341.80" fill="none" stroke="rgba(95,95,95,0.32)" stroke-width="0.9"/>
<rect x="341.80" y="558.3" width="4.30" height="61.0" fill="rgba(205,60,80,0.36)"/>
<path d="M341.80,619.3 V558.6 H346.11" fill="none" stroke="rgba(195,50,75,0.30)" stroke-width="0.9"/>
<rect x="346.11" y="557.3" width="4.30" height="62.0" fill="rgba(205,60,80,0.36)"/>
<path d="M346.11,619.3 V557.6 H350.41" fill="none" stroke="rgba(195,50,75,0.30)" stroke-width="0.9"/>
<rect x="350.41" y="557.7" width="4.30" height="61.6" fill="rgba(126,126,126,0.50)"/>
<path d="M350.41,619.3 V558.0 H354.72" fill="none" stroke="rgba(95,95,95,0.32)" stroke-width="0.9"/>
<rect x="354.72" y="564.3" width="4.30" height="55.0" fill="rgba(126,126,126,0.50)"/>
<path d="M354.72,619.3 V564.6 H359.02" fill="none" stroke="rgba(95,95,95,0.32)" stroke-width="0.9"/>
<rect x="359.02" y="565.2" width="4.30" height="54.1" fill="rgba(126,126,126,0.50)"/>
<path d="M359.02,619.3 V565.5 H363.33" fill="none" stroke="rgba(95,95,95,0.32)" stroke-width="0.9"/>
<rect x="363.33" y="571.4" width="4.30" height="47.9" fill="rgba(126,126,126,0.50)"/>
<path d="M363.33,619.3 V571.7 H367.63" fill="none" stroke="rgba(95,95,95,0.32)" stroke-width="0.9"/>
<rect x="367.63" y="566.7" width="4.30" height="52.6" fill="rgba(126,126,126,0.50)"/>
<path d="M367.63,619.3 V567.0 H371.94" fill="none" stroke="rgba(95,95,95,0.32)" stroke-width="0.9"/>
<rect x="371.94" y="525.4" width="4.30" height="93.9" fill="rgba(205,60,80,0.36)"/>
<path d="M371.94,619.3 V525.7 H376.24" fill="none" stroke="rgba(195,50,75,0.30)" stroke-width="0.9"/>
<rect x="376.24" y="555.4" width="4.30" height="63.9" fill="rgba(205,60,80,0.36)"/>
<path d="M376.24,619.3 V555.7 H380.55" fill="none" stroke="rgba(195,50,75,0.30)" stroke-width="0.9"/>
<rect x="380.55" y="538.5" width="4.30" height="80.8" fill="rgba(205,60,80,0.36)"/>
<path d="M380.55,619.3 V538.8 H384.85" fill="none" stroke="rgba(195,50,75,0.30)" stroke-width="0.9"/>
<rect x="384.85" y="546.1" width="4.30" height="73.2" fill="rgba(126,126,126,0.50)"/>
<path d="M384.85,619.3 V546.4 H389.16" fill="none" stroke="rgba(95,95,95,0.32)" stroke-width="0.9"/>
<rect x="389.16" y="554.9" width="4.30" height="64.4" fill="rgba(126,126,126,0.50)"/>
<path d="M389.16,619.3 V555.2 H393.46" fill="none" stroke="rgba(95,95,95,0.32)" stroke-width="0.9"/>
<rect x="393.46" y="562.0" width="4.30" height="57.3" fill="rgba(126,126,126,0.50)"/>
<path d="M393.46,619.3 V562.3 H397.77" fill="none" stroke="rgba(95,95,95,0.32)" stroke-width="0.9"/>
<rect x="397.77" y="554.5" width="4.30" height="64.8" fill="rgba(126,126,126,0.50)"/>
<path d="M397.77,619.3 V554.8 H402.07" fill="none" stroke="rgba(95,95,95,0.32)" stroke-width="0.9"/>
<rect x="402.07" y="564.5" width="4.30" height="54.8" fill="rgba(205,60,80,0.36)"/>
<path d="M402.07,619.3 V564.8 H406.38" fill="none" stroke="rgba(195,50,75,0.30)" stroke-width="0.9"/>
<rect x="406.38" y="548.9" width="4.30" height="70.4" fill="rgba(205,60,80,0.36)"/>
<path d="M406.38,619.3 V549.2 H410.68" fill="none" stroke="rgba(195,50,75,0.30)" stroke-width="0.9"/>
<rect x="410.68" y="553.9" width="4.30" height="65.4" fill="rgba(126,126,126,0.50)"/>
<path d="M410.68,619.3 V554.2 H414.99" fill="none" stroke="rgba(95,95,95,0.32)" stroke-width="0.9"/>
<rect x="414.99" y="548.9" width="4.30" height="70.4" fill="rgba(205,60,80,0.36)"/>
<path d="M414.99,619.3 V549.2 H419.29" fill="none" stroke="rgba(195,50,75,0.30)" stroke-width="0.9"/>
<rect x="419.29" y="558.6" width="4.30" height="60.7" fill="rgba(205,60,80,0.36)"/>
<path d="M419.29,619.3 V558.9 H423.60" fill="none" stroke="rgba(195,50,75,0.30)" stroke-width="0.9"/>
<rect x="423.60" y="575.5" width="4.30" height="43.8" fill="rgba(126,126,126,0.50)"/>
<path d="M423.60,619.3 V575.8 H427.90" fill="none" stroke="rgba(95,95,95,0.32)" stroke-width="0.9"/>
<rect x="427.90" y="548.9" width="4.30" height="70.4" fill="rgba(126,126,126,0.50)"/>
<path d="M427.90,619.3 V549.2 H432.21" fill="none" stroke="rgba(95,95,95,0.32)" stroke-width="0.9"/>
<rect x="432.21" y="560.1" width="4.30" height="59.2" fill="rgba(205,60,80,0.36)"/>
<path d="M432.21,619.3 V560.4 H436.51" fill="none" stroke="rgba(195,50,75,0.30)" stroke-width="0.9"/>
<rect x="436.51" y="545.5" width="4.30" height="73.8" fill="rgba(126,126,126,0.50)"/>
<path d="M436.51,619.3 V545.8 H440.82" fill="none" stroke="rgba(95,95,95,0.32)" stroke-width="0.9"/>
<rect x="440.82" y="579.9" width="4.30" height="39.4" fill="rgba(205,60,80,0.36)"/>
<path d="M440.82,619.3 V580.2 H445.12" fill="none" stroke="rgba(195,50,75,0.30)" stroke-width="0.9"/>
<rect x="445.12" y="578.9" width="4.30" height="40.4" fill="rgba(126,126,126,0.50)"/>
<path d="M445.12,619.3 V579.2 H449.43" fill="none" stroke="rgba(95,95,95,0.32)" stroke-width="0.9"/>
<rect x="449.43" y="549.4" width="4.30" height="69.9" fill="rgba(126,126,126,0.50)"/>
<path d="M449.43,619.3 V549.7 H453.73" fill="none" stroke="rgba(95,95,95,0.32)" stroke-width="0.9"/>
<rect x="453.73" y="553.2" width="4.30" height="66.1" fill="rgba(205,60,80,0.36)"/>
<path d="M453.73,619.3 V553.5 H458.04" fill="none" stroke="rgba(195,50,75,0.30)" stroke-width="0.9"/>
<rect x="458.04" y="567.7" width="4.30" height="51.6" fill="rgba(126,126,126,0.50)"/>
<path d="M458.04,619.3 V568.0 H462.34" fill="none" stroke="rgba(95,95,95,0.32)" stroke-width="0.9"/>
<rect x="462.34" y="539.5" width="4.30" height="79.8" fill="rgba(205,60,80,0.36)"/>
<path d="M462.34,619.3 V539.8 H466.65" fill="none" stroke="rgba(195,50,75,0.30)" stroke-width="0.9"/>
<rect x="466.65" y="561.6" width="4.30" height="57.7" fill="rgba(126,126,126,0.50)"/>
<path d="M466.65,619.3 V561.9 H470.95" fill="none" stroke="rgba(95,95,95,0.32)" stroke-width="0.9"/>
<rect x="470.95" y="568.6" width="4.30" height="50.7" fill="rgba(126,126,126,0.50)"/>
<path d="M470.95,619.3 V568.9 H475.26" fill="none" stroke="rgba(95,95,95,0.32)" stroke-width="0.9"/>
<rect x="475.26" y="576.5" width="4.30" height="42.8" fill="rgba(205,60,80,0.36)"/>
<path d="M475.26,619.3 V576.8 H479.56" fill="none" stroke="rgba(195,50,75,0.30)" stroke-width="0.9"/>
<rect x="479.56" y="546.4" width="4.30" height="72.9" fill="rgba(205,60,80,0.36)"/>
<path d="M479.56,619.3 V546.7 H483.87" fill="none" stroke="rgba(195,50,75,0.30)" stroke-width="0.9"/>
<rect x="483.87" y="544.6" width="4.30" height="74.7" fill="rgba(205,60,80,0.36)"/>
<path d="M483.87,619.3 V544.9 H488.17" fill="none" stroke="rgba(195,50,75,0.30)" stroke-width="0.9"/>
<rect x="488.17" y="549.4" width="4.30" height="69.9" fill="rgba(126,126,126,0.50)"/>
<path d="M488.17,619.3 V549.7 H492.48" fill="none" stroke="rgba(95,95,95,0.32)" stroke-width="0.9"/>
<rect x="492.48" y="547.0" width="4.30" height="72.3" fill="rgba(205,60,80,0.36)"/>
<path d="M492.48,619.3 V547.3 H496.78" fill="none" stroke="rgba(195,50,75,0.30)" stroke-width="0.9"/>
<rect x="496.78" y="553.2" width="4.30" height="66.1" fill="rgba(126,126,126,0.50)"/>
<path d="M496.78,619.3 V553.5 H501.09" fill="none" stroke="rgba(95,95,95,0.32)" stroke-width="0.9"/>
<rect x="501.09" y="570.5" width="4.30" height="48.8" fill="rgba(126,126,126,0.50)"/>
<path d="M501.09,619.3 V570.8 H505.39" fill="none" stroke="rgba(95,95,95,0.32)" stroke-width="0.9"/>
<rect x="505.39" y="567.7" width="4.30" height="51.6" fill="rgba(126,126,126,0.50)"/>
<path d="M505.39,619.3 V568.0 H509.70" fill="none" stroke="rgba(95,95,95,0.32)" stroke-width="0.9"/>
<rect x="509.70" y="563.3" width="4.30" height="56.0" fill="rgba(126,126,126,0.50)"/>
<path d="M509.70,619.3 V563.6 H514.00" fill="none" stroke="rgba(95,95,95,0.32)" stroke-width="0.9"/>
<rect x="514.00" y="564.5" width="4.30" height="54.8" fill="rgba(205,60,80,0.36)"/>
<path d="M514.00,619.3 V564.8 H518.31" fill="none" stroke="rgba(195,50,75,0.30)" stroke-width="0.9"/>
<rect x="518.31" y="558.3" width="4.30" height="61.0" fill="rgba(205,60,80,0.36)"/>
<path d="M518.31,619.3 V558.6 H522.61" fill="none" stroke="rgba(195,50,75,0.30)" stroke-width="0.9"/>
<rect x="522.61" y="559.6" width="4.30" height="59.7" fill="rgba(205,60,80,0.36)"/>
<path d="M522.61,619.3 V559.9 H526.92" fill="none" stroke="rgba(195,50,75,0.30)" stroke-width="0.9"/>
<rect x="526.92" y="554.9" width="4.30" height="64.4" fill="rgba(205,60,80,0.36)"/>
<path d="M526.92,619.3 V555.2 H531.22" fill="none" stroke="rgba(195,50,75,0.30)" stroke-width="0.9"/>
<rect x="531.22" y="564.5" width="4.30" height="54.8" fill="rgba(126,126,126,0.50)"/>
<path d="M531.22,619.3 V564.8 H535.53" fill="none" stroke="rgba(95,95,95,0.32)" stroke-width="0.9"/>
<rect x="535.53" y="566.2" width="4.30" height="53.1" fill="rgba(126,126,126,0.50)"/>
<path d="M535.53,619.3 V566.5 H539.83" fill="none" stroke="rgba(95,95,95,0.32)" stroke-width="0.9"/>
<rect x="539.83" y="580.4" width="4.30" height="38.9" fill="rgba(126,126,126,0.50)"/>
<path d="M539.83,619.3 V580.7 H544.14" fill="none" stroke="rgba(95,95,95,0.32)" stroke-width="0.9"/>
<rect x="544.14" y="570.5" width="4.30" height="48.8" fill="rgba(126,126,126,0.50)"/>
<path d="M544.14,619.3 V570.8 H548.44" fill="none" stroke="rgba(95,95,95,0.32)" stroke-width="0.9"/>
<rect x="548.44" y="561.6" width="4.30" height="57.7" fill="rgba(126,126,126,0.50)"/>
<path d="M548.44,619.3 V561.9 H552.75" fill="none" stroke="rgba(95,95,95,0.32)" stroke-width="0.9"/>
<rect x="552.75" y="568.6" width="4.30" height="50.7" fill="rgba(126,126,126,0.50)"/>
<path d="M552.75,619.3 V568.9 H557.05" fill="none" stroke="rgba(95,95,95,0.32)" stroke-width="0.9"/>
<rect x="557.05" y="571.4" width="4.30" height="47.9" fill="rgba(126,126,126,0.50)"/>
<path d="M557.05,619.3 V571.7 H561.36" fill="none" stroke="rgba(95,95,95,0.32)" stroke-width="0.9"/>
<rect x="561.36" y="577.4" width="4.30" height="41.9" fill="rgba(126,126,126,0.50)"/>
<path d="M561.36,619.3 V577.7 H565.66" fill="none" stroke="rgba(95,95,95,0.32)" stroke-width="0.9"/>
<rect x="565.66" y="569.5" width="4.30" height="49.8" fill="rgba(205,60,80,0.36)"/>
<path d="M565.66,619.3 V569.8 H569.97" fill="none" stroke="rgba(195,50,75,0.30)" stroke-width="0.9"/>
<rect x="569.97" y="560.7" width="4.30" height="58.6" fill="rgba(126,126,126,0.50)"/>
<path d="M569.97,619.3 V561.0 H574.27" fill="none" stroke="rgba(95,95,95,0.32)" stroke-width="0.9"/>
<rect x="574.27" y="553.9" width="4.30" height="65.4" fill="rgba(205,60,80,0.36)"/>
<path d="M574.27,619.3 V554.2 H578.58" fill="none" stroke="rgba(195,50,75,0.30)" stroke-width="0.9"/>
<rect x="578.58" y="560.1" width="4.30" height="59.2" fill="rgba(126,126,126,0.50)"/>
<path d="M578.58,619.3 V560.4 H582.88" fill="none" stroke="rgba(95,95,95,0.32)" stroke-width="0.9"/>
<rect x="582.88" y="567.1" width="4.30" height="52.2" fill="rgba(126,126,126,0.50)"/>
<path d="M582.88,619.3 V567.4 H587.19" fill="none" stroke="rgba(95,95,95,0.32)" stroke-width="0.9"/>
<rect x="587.19" y="561.6" width="4.30" height="57.7" fill="rgba(205,60,80,0.36)"/>
<path d="M587.19,619.3 V561.9 H591.49" fill="none" stroke="rgba(195,50,75,0.30)" stroke-width="0.9"/>
<rect x="591.49" y="567.7" width="4.30" height="51.6" fill="rgba(126,126,126,0.50)"/>
<path d="M591.49,619.3 V568.0 H595.80" fill="none" stroke="rgba(95,95,95,0.32)" stroke-width="0.9"/>
<rect x="595.80" y="568.2" width="4.30" height="51.1" fill="rgba(126,126,126,0.50)"/>
<path d="M595.80,619.3 V568.5 H600.10" fill="none" stroke="rgba(95,95,95,0.32)" stroke-width="0.9"/>
<rect x="600.10" y="578.0" width="4.30" height="41.3" fill="rgba(205,60,80,0.36)"/>
<path d="M600.10,619.3 V578.3 H604.41" fill="none" stroke="rgba(195,50,75,0.30)" stroke-width="0.9"/>
<rect x="604.41" y="557.3" width="4.30" height="62.0" fill="rgba(205,60,80,0.36)"/>
<path d="M604.41,619.3 V557.6 H608.71" fill="none" stroke="rgba(195,50,75,0.30)" stroke-width="0.9"/>
<rect x="608.71" y="567.3" width="4.30" height="52.0" fill="rgba(205,60,80,0.36)"/>
<path d="M608.71,619.3 V567.6 H613.02" fill="none" stroke="rgba(195,50,75,0.30)" stroke-width="0.9"/>
<rect x="613.02" y="560.1" width="4.30" height="59.2" fill="rgba(205,60,80,0.36)"/>
<path d="M613.02,619.3 V560.4 H617.32" fill="none" stroke="rgba(195,50,75,0.30)" stroke-width="0.9"/>
<rect x="617.32" y="564.5" width="4.30" height="54.8" fill="rgba(126,126,126,0.50)"/>
<path d="M617.32,619.3 V564.8 H621.63" fill="none" stroke="rgba(95,95,95,0.32)" stroke-width="0.9"/>
<rect x="621.63" y="567.3" width="4.30" height="52.0" fill="rgba(126,126,126,0.50)"/>
<path d="M621.63,619.3 V567.6 H625.93" fill="none" stroke="rgba(95,95,95,0.32)" stroke-width="0.9"/>
<rect x="625.93" y="568.2" width="4.30" height="51.1" fill="rgba(126,126,126,0.50)"/>
<path d="M625.93,619.3 V568.5 H630.24" fill="none" stroke="rgba(95,95,95,0.32)" stroke-width="0.9"/>
<rect x="630.24" y="555.4" width="4.30" height="63.9" fill="rgba(126,126,126,0.50)"/>
<path d="M630.24,619.3 V555.7 H634.54" fill="none" stroke="rgba(95,95,95,0.32)" stroke-width="0.9"/>
<rect x="634.54" y="553.2" width="4.30" height="66.1" fill="rgba(126,126,126,0.50)"/>
<path d="M634.54,619.3 V553.5 H638.85" fill="none" stroke="rgba(95,95,95,0.32)" stroke-width="0.9"/>
<rect x="638.85" y="557.3" width="4.30" height="62.0" fill="rgba(205,60,80,0.36)"/>
<path d="M638.85,619.3 V557.6 H643.15" fill="none" stroke="rgba(195,50,75,0.30)" stroke-width="0.9"/>
<rect x="643.15" y="551.3" width="4.30" height="68.0" fill="rgba(126,126,126,0.50)"/>
<path d="M643.15,619.3 V551.6 H647.46" fill="none" stroke="rgba(95,95,95,0.32)" stroke-width="0.9"/>
<rect x="647.46" y="565.2" width="4.30" height="54.1" fill="rgba(205,60,80,0.36)"/>
<path d="M647.46,619.3 V565.5 H651.76" fill="none" stroke="rgba(195,50,75,0.30)" stroke-width="0.9"/>
<rect x="651.76" y="532.3" width="4.30" height="87.0" fill="rgba(205,60,80,0.36)"/>
<path d="M651.76,619.3 V532.6 H656.07" fill="none" stroke="rgba(195,50,75,0.30)" stroke-width="0.9"/>
<rect x="656.07" y="547.0" width="4.30" height="72.3" fill="rgba(126,126,126,0.50)"/>
<path d="M656.07,619.3 V547.3 H660.37" fill="none" stroke="rgba(95,95,95,0.32)" stroke-width="0.9"/>
<rect x="660.37" y="532.3" width="4.30" height="87.0" fill="rgba(205,60,80,0.36)"/>
<path d="M660.37,619.3 V532.6 H664.68" fill="none" stroke="rgba(195,50,75,0.30)" stroke-width="0.9"/>
<rect x="664.68" y="569.5" width="4.30" height="49.8" fill="rgba(126,126,126,0.50)"/>
<path d="M664.68,619.3 V569.8 H668.98" fill="none" stroke="rgba(95,95,95,0.32)" stroke-width="0.9"/>
<rect x="668.98" y="572.7" width="4.30" height="46.6" fill="rgba(126,126,126,0.50)"/>
<path d="M668.98,619.3 V573.0 H673.29" fill="none" stroke="rgba(95,95,95,0.32)" stroke-width="0.9"/>
<rect x="673.29" y="547.0" width="4.30" height="72.3" fill="rgba(205,60,80,0.36)"/>
<path d="M673.29,619.3 V547.3 H677.59" fill="none" stroke="rgba(195,50,75,0.30)" stroke-width="0.9"/>
<rect x="677.59" y="547.9" width="4.30" height="71.4" fill="rgba(126,126,126,0.50)"/>
<path d="M677.59,619.3 V548.2 H681.90" fill="none" stroke="rgba(95,95,95,0.32)" stroke-width="0.9"/>
<rect x="681.90" y="547.0" width="4.30" height="72.3" fill="rgba(205,60,80,0.36)"/>
<path d="M681.90,619.3 V547.3 H686.20" fill="none" stroke="rgba(195,50,75,0.30)" stroke-width="0.9"/>
<rect x="686.20" y="514.5" width="4.30" height="104.8" fill="rgba(126,126,126,0.50)"/>
<path d="M686.20,619.3 V514.8 H690.51" fill="none" stroke="rgba(95,95,95,0.32)" stroke-width="0.9"/>
<rect x="690.51" y="525.4" width="4.30" height="93.9" fill="rgba(126,126,126,0.50)"/>
<path d="M690.51,619.3 V525.7 H694.81" fill="none" stroke="rgba(95,95,95,0.32)" stroke-width="0.9"/>
<rect x="694.81" y="538.5" width="4.30" height="80.8" fill="rgba(205,60,80,0.36)"/>
<path d="M694.81,619.3 V538.8 H699.12" fill="none" stroke="rgba(195,50,75,0.30)" stroke-width="0.9"/>
<rect x="699.12" y="538.5" width="4.30" height="80.8" fill="rgba(205,60,80,0.36)"/>
<path d="M699.12,619.3 V538.8 H703.42" fill="none" stroke="rgba(195,50,75,0.30)" stroke-width="0.9"/>
<rect x="703.42" y="543.2" width="4.30" height="76.1" fill="rgba(126,126,126,0.50)"/>
<path d="M703.42,619.3 V543.5 H707.73" fill="none" stroke="rgba(95,95,95,0.32)" stroke-width="0.9"/>
<rect x="707.73" y="536.3" width="4.30" height="83.0" fill="rgba(205,60,80,0.36)"/>
<path d="M707.73,619.3 V536.6 H712.03" fill="none" stroke="rgba(195,50,75,0.30)" stroke-width="0.9"/>
<rect x="712.03" y="530.5" width="4.30" height="88.8" fill="rgba(205,60,80,0.36)"/>
<path d="M712.03,619.3 V530.8 H716.34" fill="none" stroke="rgba(195,50,75,0.30)" stroke-width="0.9"/>
<rect x="716.34" y="523.1" width="4.30" height="96.2" fill="rgba(126,126,126,0.50)"/>
<path d="M716.34,619.3 V523.4 H720.64" fill="none" stroke="rgba(95,95,95,0.32)" stroke-width="0.9"/>
<rect x="720.64" y="541.0" width="4.30" height="78.3" fill="rgba(126,126,126,0.50)"/>
<path d="M720.64,619.3 V541.3 H724.95" fill="none" stroke="rgba(95,95,95,0.32)" stroke-width="0.9"/>
<rect x="724.95" y="542.7" width="4.30" height="76.6" fill="rgba(126,126,126,0.50)"/>
<path d="M724.95,619.3 V543.0 H729.25" fill="none" stroke="rgba(95,95,95,0.32)" stroke-width="0.9"/>
<rect x="729.25" y="548.5" width="4.30" height="70.8" fill="rgba(205,60,80,0.36)"/>
<path d="M729.25,619.3 V548.8 H733.56" fill="none" stroke="rgba(195,50,75,0.30)" stroke-width="0.9"/>
<rect x="733.56" y="565.8" width="4.30" height="53.5" fill="rgba(205,60,80,0.36)"/>
<path d="M733.56,619.3 V566.1 H737.86" fill="none" stroke="rgba(195,50,75,0.30)" stroke-width="0.9"/>
<rect x="737.86" y="548.5" width="4.30" height="70.8" fill="rgba(205,60,80,0.36)"/>
<path d="M737.86,619.3 V548.8 H742.17" fill="none" stroke="rgba(195,50,75,0.30)" stroke-width="0.9"/>
<rect x="742.17" y="529.7" width="4.30" height="89.6" fill="rgba(205,60,80,0.36)"/>
<path d="M742.17,619.3 V530.0 H746.47" fill="none" stroke="rgba(195,50,75,0.30)" stroke-width="0.9"/>
<rect x="746.47" y="527.3" width="4.30" height="92.0" fill="rgba(205,60,80,0.36)"/>
<path d="M746.47,619.3 V527.6 H750.78" fill="none" stroke="rgba(195,50,75,0.30)" stroke-width="0.9"/>
<rect x="750.78" y="518.5" width="4.30" height="100.8" fill="rgba(205,60,80,0.36)"/>
<path d="M750.78,619.3 V518.8 H755.08" fill="none" stroke="rgba(195,50,75,0.30)" stroke-width="0.9"/>
<rect x="755.08" y="528.2" width="4.30" height="91.1" fill="rgba(205,60,80,0.36)"/>
<path d="M755.08,619.3 V528.5 H759.39" fill="none" stroke="rgba(195,50,75,0.30)" stroke-width="0.9"/>
<rect x="759.39" y="536.3" width="4.30" height="83.0" fill="rgba(126,126,126,0.50)"/>
<path d="M759.39,619.3 V536.6 H763.69" fill="none" stroke="rgba(95,95,95,0.32)" stroke-width="0.9"/>
<rect x="763.69" y="553.2" width="4.30" height="66.1" fill="rgba(205,60,80,0.36)"/>
<path d="M763.69,619.3 V553.5 H768.00" fill="none" stroke="rgba(195,50,75,0.30)" stroke-width="0.9"/>
<rect x="768.00" y="543.2" width="4.30" height="76.1" fill="rgba(205,60,80,0.36)"/>
<path d="M768.00,619.3 V543.5 H772.30" fill="none" stroke="rgba(195,50,75,0.30)" stroke-width="0.9"/>
<rect x="772.30" y="516.0" width="4.30" height="103.3" fill="rgba(205,60,80,0.36)"/>
<path d="M772.30,619.3 V516.3 H776.61" fill="none" stroke="rgba(195,50,75,0.30)" stroke-width="0.9"/>
<rect x="776.61" y="547.9" width="4.30" height="71.4" fill="rgba(126,126,126,0.50)"/>
<path d="M776.61,619.3 V548.2 H780.91" fill="none" stroke="rgba(95,95,95,0.32)" stroke-width="0.9"/>
<rect x="780.91" y="542.3" width="4.30" height="77.0" fill="rgba(205,60,80,0.36)"/>
<path d="M780.91,619.3 V542.6 H785.22" fill="none" stroke="rgba(195,50,75,0.30)" stroke-width="0.9"/>
<rect x="785.22" y="561.5" width="4.30" height="57.8" fill="rgba(126,126,126,0.50)"/>
<path d="M785.22,619.3 V561.8 H789.52" fill="none" stroke="rgba(95,95,95,0.32)" stroke-width="0.9"/>
<rect x="789.52" y="550.4" width="4.30" height="68.9" fill="rgba(205,60,80,0.36)"/>
<path d="M789.52,619.3 V550.7 H793.83" fill="none" stroke="rgba(195,50,75,0.30)" stroke-width="0.9"/>
<rect x="793.83" y="541.0" width="4.30" height="78.3" fill="rgba(126,126,126,0.50)"/>
<path d="M793.83,619.3 V541.3 H798.13" fill="none" stroke="rgba(95,95,95,0.32)" stroke-width="0.9"/>
<rect x="798.13" y="536.3" width="4.30" height="83.0" fill="rgba(126,126,126,0.50)"/>
<path d="M798.13,619.3 V536.6 H802.44" fill="none" stroke="rgba(95,95,95,0.32)" stroke-width="0.9"/>
<rect x="802.44" y="540.4" width="4.30" height="78.9" fill="rgba(126,126,126,0.50)"/>
<path d="M802.44,619.3 V540.7 H806.74" fill="none" stroke="rgba(95,95,95,0.32)" stroke-width="0.9"/>
<rect x="806.74" y="547.6" width="4.30" height="71.7" fill="rgba(126,126,126,0.50)"/>
<path d="M806.74,619.3 V547.9 H811.05" fill="none" stroke="rgba(95,95,95,0.32)" stroke-width="0.9"/>
<rect x="811.05" y="556.4" width="4.30" height="62.9" fill="rgba(205,60,80,0.36)"/>
<path d="M811.05,619.3 V556.7 H815.35" fill="none" stroke="rgba(195,50,75,0.30)" stroke-width="0.9"/>
<rect x="815.35" y="551.3" width="4.30" height="68.0" fill="rgba(205,60,80,0.36)"/>
<path d="M815.35,619.3 V551.6 H819.66" fill="none" stroke="rgba(195,50,75,0.30)" stroke-width="0.9"/>
<rect x="819.66" y="537.2" width="4.30" height="82.1" fill="rgba(205,60,80,0.36)"/>
<path d="M819.66,619.3 V537.5 H823.96" fill="none" stroke="rgba(195,50,75,0.30)" stroke-width="0.9"/>
<rect x="823.96" y="557.3" width="4.30" height="62.0" fill="rgba(126,126,126,0.50)"/>
<path d="M823.96,619.3 V557.6 H828.27" fill="none" stroke="rgba(95,95,95,0.32)" stroke-width="0.9"/>
<rect x="828.27" y="518.5" width="4.30" height="100.8" fill="rgba(205,60,80,0.36)"/>
<path d="M828.27,619.3 V518.8 H832.57" fill="none" stroke="rgba(195,50,75,0.30)" stroke-width="0.9"/>
<rect x="832.57" y="535.2" width="4.30" height="84.1" fill="rgba(205,60,80,0.36)"/>
<path d="M832.57,619.3 V535.5 H836.88" fill="none" stroke="rgba(195,50,75,0.30)" stroke-width="0.9"/>
<rect x="836.88" y="528.8" width="4.30" height="90.5" fill="rgba(205,60,80,0.36)"/>
<path d="M836.88,619.3 V529.1 H841.18" fill="none" stroke="rgba(195,50,75,0.30)" stroke-width="0.9"/>
<rect x="841.18" y="530.5" width="4.30" height="88.8" fill="rgba(126,126,126,0.50)"/>
<path d="M841.18,619.3 V530.8 H845.49" fill="none" stroke="rgba(95,95,95,0.32)" stroke-width="0.9"/>
<rect x="845.49" y="523.9" width="4.30" height="95.4" fill="rgba(205,60,80,0.36)"/>
<path d="M845.49,619.3 V524.2 H849.79" fill="none" stroke="rgba(195,50,75,0.30)" stroke-width="0.9"/>
<rect x="849.79" y="530.5" width="4.30" height="88.8" fill="rgba(126,126,126,0.50)"/>
<path d="M849.79,619.3 V530.8 H854.10" fill="none" stroke="rgba(95,95,95,0.32)" stroke-width="0.9"/>
<rect x="854.10" y="509.1" width="4.30" height="110.2" fill="rgba(126,126,126,0.50)"/>
<path d="M854.10,619.3 V509.4 H858.40" fill="none" stroke="rgba(95,95,95,0.32)" stroke-width="0.9"/>
<rect x="858.40" y="509.1" width="4.30" height="110.2" fill="rgba(205,60,80,0.36)"/>
<path d="M858.40,619.3 V509.4 H862.71" fill="none" stroke="rgba(195,50,75,0.30)" stroke-width="0.9"/>
<rect x="862.71" y="511.7" width="4.30" height="107.6" fill="rgba(126,126,126,0.50)"/>
<path d="M862.71,619.3 V512.0 H867.01" fill="none" stroke="rgba(95,95,95,0.32)" stroke-width="0.9"/>
<rect x="867.01" y="528.2" width="4.30" height="91.1" fill="rgba(205,60,80,0.36)"/>
<path d="M867.01,619.3 V528.5 H871.32" fill="none" stroke="rgba(195,50,75,0.30)" stroke-width="0.9"/>
<rect x="871.32" y="567.3" width="4.30" height="52.0" fill="rgba(126,126,126,0.50)"/>
<path d="M871.32,619.3 V567.6 H875.62" fill="none" stroke="rgba(95,95,95,0.32)" stroke-width="0.9"/>
<rect x="875.62" y="528.8" width="4.30" height="90.5" fill="rgba(126,126,126,0.50)"/>
<path d="M875.62,619.3 V529.1 H879.93" fill="none" stroke="rgba(95,95,95,0.32)" stroke-width="0.9"/>
<rect x="879.93" y="538.5" width="4.30" height="80.8" fill="rgba(205,60,80,0.36)"/>
<path d="M879.93,619.3 V538.8 H884.23" fill="none" stroke="rgba(195,50,75,0.30)" stroke-width="0.9"/>
<rect x="884.23" y="506.2" width="4.30" height="113.1" fill="rgba(205,60,80,0.36)"/>
<path d="M884.23,619.3 V506.5 H888.54" fill="none" stroke="rgba(195,50,75,0.30)" stroke-width="0.9"/>
<rect x="888.54" y="529.7" width="4.30" height="89.6" fill="rgba(205,60,80,0.36)"/>
<path d="M888.54,619.3 V530.0 H892.84" fill="none" stroke="rgba(195,50,75,0.30)" stroke-width="0.9"/>
<rect x="892.84" y="554.5" width="4.30" height="64.8" fill="rgba(205,60,80,0.36)"/>
<path d="M892.84,619.3 V554.8 H897.15" fill="none" stroke="rgba(195,50,75,0.30)" stroke-width="0.9"/>
<rect x="897.15" y="537.2" width="4.30" height="82.1" fill="rgba(126,126,126,0.50)"/>
<path d="M897.15,619.3 V537.5 H901.45" fill="none" stroke="rgba(95,95,95,0.32)" stroke-width="0.9"/>
<rect x="901.45" y="525.4" width="4.30" height="93.9" fill="rgba(126,126,126,0.50)"/>
<path d="M901.45,619.3 V525.7 H905.76" fill="none" stroke="rgba(95,95,95,0.32)" stroke-width="0.9"/>
<rect x="905.76" y="541.9" width="4.30" height="77.4" fill="rgba(126,126,126,0.50)"/>
<path d="M905.76,619.3 V542.2 H910.06" fill="none" stroke="rgba(95,95,95,0.32)" stroke-width="0.9"/>
<rect x="910.06" y="510.0" width="4.30" height="109.3" fill="rgba(126,126,126,0.50)"/>
<path d="M910.06,619.3 V510.3 H914.37" fill="none" stroke="rgba(95,95,95,0.32)" stroke-width="0.9"/>
<rect x="914.37" y="492.5" width="4.30" height="126.8" fill="rgba(126,126,126,0.50)"/>
<path d="M914.37,619.3 V492.8 H918.67" fill="none" stroke="rgba(95,95,95,0.32)" stroke-width="0.9"/>
<rect x="918.67" y="512.3" width="4.30" height="107.0" fill="rgba(205,60,80,0.36)"/>
<path d="M918.67,619.3 V512.6 H922.98" fill="none" stroke="rgba(195,50,75,0.30)" stroke-width="0.9"/>
<rect x="922.98" y="523.0" width="4.30" height="96.3" fill="rgba(126,126,126,0.50)"/>
<path d="M922.98,619.3 V523.3 H927.28" fill="none" stroke="rgba(95,95,95,0.32)" stroke-width="0.9"/>
<rect x="927.28" y="541.0" width="4.30" height="78.3" fill="rgba(205,60,80,0.36)"/>
<path d="M927.28,619.3 V541.3 H931.59" fill="none" stroke="rgba(195,50,75,0.30)" stroke-width="0.9"/>
<rect x="931.59" y="528.2" width="4.30" height="91.1" fill="rgba(126,126,126,0.50)"/>
<path d="M931.59,619.3 V528.5 H935.89" fill="none" stroke="rgba(95,95,95,0.32)" stroke-width="0.9"/>
<rect x="935.89" y="523.9" width="4.30" height="95.4" fill="rgba(205,60,80,0.36)"/>
<path d="M935.89,619.3 V524.2 H940.20" fill="none" stroke="rgba(195,50,75,0.30)" stroke-width="0.9"/>
<rect x="940.20" y="499.5" width="4.30" height="119.8" fill="rgba(126,126,126,0.50)"/>
<path d="M940.20,619.3 V499.8 H944.50" fill="none" stroke="rgba(95,95,95,0.32)" stroke-width="0.9"/>
<rect x="944.50" y="522.2" width="4.30" height="97.1" fill="rgba(126,126,126,0.50)"/>
<path d="M944.50,619.3 V522.5 H948.81" fill="none" stroke="rgba(95,95,95,0.32)" stroke-width="0.9"/>
<rect x="948.81" y="534.4" width="4.30" height="84.9" fill="rgba(126,126,126,0.50)"/>
<path d="M948.81,619.3 V534.7 H953.11" fill="none" stroke="rgba(95,95,95,0.32)" stroke-width="0.9"/>
<rect x="953.11" y="553.9" width="4.30" height="65.4" fill="rgba(205,60,80,0.36)"/>
<path d="M953.11,619.3 V554.2 H957.42" fill="none" stroke="rgba(195,50,75,0.30)" stroke-width="0.9"/>
<rect x="957.42" y="542.7" width="4.30" height="76.6" fill="rgba(126,126,126,0.50)"/>
<path d="M957.42,619.3 V543.0 H961.72" fill="none" stroke="rgba(95,95,95,0.32)" stroke-width="0.9"/>
<rect x="961.72" y="541.7" width="4.30" height="77.6" fill="rgba(205,60,80,0.36)"/>
<path d="M961.72,619.3 V542.0 H966.03" fill="none" stroke="rgba(195,50,75,0.30)" stroke-width="0.9"/>
<rect x="966.03" y="522.2" width="4.30" height="97.1" fill="rgba(126,126,126,0.50)"/>
<path d="M966.03,619.3 V522.5 H970.33" fill="none" stroke="rgba(95,95,95,0.32)" stroke-width="0.9"/>
<rect x="970.33" y="531.0" width="4.30" height="88.3" fill="rgba(126,126,126,0.50)"/>
<path d="M970.33,619.3 V531.3 H974.64" fill="none" stroke="rgba(95,95,95,0.32)" stroke-width="0.9"/>
<rect x="974.64" y="530.5" width="4.30" height="88.8" fill="rgba(126,126,126,0.50)"/>
<path d="M974.64,619.3 V530.8 H978.94" fill="none" stroke="rgba(95,95,95,0.32)" stroke-width="0.9"/>
<rect x="978.94" y="533.3" width="4.30" height="86.0" fill="rgba(126,126,126,0.50)"/>
<path d="M978.94,619.3 V533.6 H983.25" fill="none" stroke="rgba(95,95,95,0.32)" stroke-width="0.9"/>
<rect x="983.25" y="516.6" width="4.30" height="102.7" fill="rgba(126,126,126,0.50)"/>
<path d="M983.25,619.3 V516.9 H987.55" fill="none" stroke="rgba(95,95,95,0.32)" stroke-width="0.9"/>
<rect x="987.55" y="523.1" width="4.30" height="96.2" fill="rgba(126,126,126,0.50)"/>
<path d="M987.55,619.3 V523.4 H991.86" fill="none" stroke="rgba(95,95,95,0.32)" stroke-width="0.9"/>
<rect x="991.86" y="522.2" width="4.30" height="97.1" fill="rgba(205,60,80,0.36)"/>
<path d="M991.86,619.3 V522.5 H996.16" fill="none" stroke="rgba(195,50,75,0.30)" stroke-width="0.9"/>
<rect x="996.16" y="504.2" width="4.30" height="115.1" fill="rgba(126,126,126,0.50)"/>
<path d="M996.16,619.3 V504.5 H1000.47" fill="none" stroke="rgba(95,95,95,0.32)" stroke-width="0.9"/>
<rect x="1000.47" y="539.5" width="4.30" height="79.8" fill="rgba(205,60,80,0.36)"/>
<path d="M1000.47,619.3 V539.8 H1004.77" fill="none" stroke="rgba(195,50,75,0.30)" stroke-width="0.9"/>
<rect x="1004.77" y="526.3" width="4.30" height="93.0" fill="rgba(126,126,126,0.50)"/>
<path d="M1004.77,619.3 V526.6 H1009.08" fill="none" stroke="rgba(95,95,95,0.32)" stroke-width="0.9"/>
<rect x="1009.08" y="560.7" width="4.30" height="58.6" fill="rgba(205,60,80,0.36)"/>
<path d="M1009.08,619.3 V561.0 H1013.38" fill="none" stroke="rgba(195,50,75,0.30)" stroke-width="0.9"/>
<rect x="1013.38" y="528.2" width="4.30" height="91.1" fill="rgba(126,126,126,0.50)"/>
<path d="M1013.38,619.3 V528.5 H1017.69" fill="none" stroke="rgba(95,95,95,0.32)" stroke-width="0.9"/>
<rect x="1017.69" y="584.9" width="4.30" height="34.4" fill="rgba(126,126,126,0.50)"/>
<path d="M1017.69,619.3 V585.2 H1021.99" fill="none" stroke="rgba(95,95,95,0.32)" stroke-width="0.9"/>
</g>
<rect x="28.4" y="178.5" width="997.0000000000001" height="440.79999999999995" fill="none" stroke="#cfcfcf" stroke-width="1"/>
<line x1="28.4" y1="178.5" x2="28.4" y2="619.3" stroke="#cdcdcd" stroke-width="1.8"/>
<rect x="1016.1" y="208.1" width="6.0" height="12.7" fill="#f2e640"/>
<g clip-path="url(#cpv)">
<line x1="28.89" y1="591.1" x2="28.89" y2="597.7" stroke="#111" stroke-width="1"/>
<rect x="27.34" y="591.1" width="3.1" height="5.6" fill="#fff" stroke="#111" stroke-width="0.95"/>
<line x1="33.20" y1="587.9" x2="33.20" y2="592.1" stroke="#111" stroke-width="1"/>
<line x1="31.09" y1="588.5" x2="35.30" y2="588.5" stroke="#111" stroke-width="1.2"/>
<line x1="37.50" y1="583.6" x2="37.50" y2="602.4" stroke="#d6002a" stroke-width="1"/>
<rect x="35.50" y="584.6" width="4.0" height="13.1" fill="#d6002a"/>
<line x1="41.80" y1="576.7" x2="41.80" y2="594.9" stroke="#111" stroke-width="1"/>
<rect x="40.26" y="578.0" width="3.1" height="16.3" fill="#fff" stroke="#111" stroke-width="0.95"/>
<line x1="46.11" y1="564.8" x2="46.11" y2="578.9" stroke="#111" stroke-width="1"/>
<line x1="44.01" y1="577.2" x2="48.21" y2="577.2" stroke="#111" stroke-width="1.2"/>
<line x1="50.41" y1="570.5" x2="50.41" y2="581.7" stroke="#111" stroke-width="1"/>
<rect x="48.87" y="572.9" width="3.1" height="5.6" fill="#fff" stroke="#111" stroke-width="0.95"/>
<line x1="54.72" y1="559.8" x2="54.72" y2="570.5" stroke="#111" stroke-width="1"/>
<rect x="53.17" y="561.1" width="3.1" height="7.9" fill="#fff" stroke="#111" stroke-width="0.95"/>
<line x1="59.02" y1="556.8" x2="59.02" y2="563.3" stroke="#111" stroke-width="1"/>
<rect x="57.48" y="557.9" width="3.1" height="4.1" fill="#fff" stroke="#111" stroke-width="0.95"/>
<line x1="63.33" y1="552.1" x2="63.33" y2="561.5" stroke="#111" stroke-width="1"/>
<rect x="61.78" y="553.9" width="3.1" height="3.9" fill="#fff" stroke="#111" stroke-width="0.95"/>
<line x1="67.63" y1="543.2" x2="67.63" y2="556.4" stroke="#111" stroke-width="1"/>
<rect x="66.08" y="545.1" width="3.1" height="10.3" fill="#fff" stroke="#111" stroke-width="0.95"/>
<line x1="71.94" y1="543.8" x2="71.94" y2="554.5" stroke="#111" stroke-width="1"/>
<line x1="69.84" y1="545.3" x2="74.04" y2="545.3" stroke="#111" stroke-width="1.2"/>
<line x1="76.25" y1="546.6" x2="76.25" y2="570.5" stroke="#d6002a" stroke-width="1"/>
<rect x="74.25" y="555.4" width="4.0" height="4.7" fill="#d6002a"/>
<line x1="80.55" y1="554.5" x2="80.55" y2="578.0" stroke="#d6002a" stroke-width="1"/>
<rect x="79.00" y="565.8" width="3.1" height="7.5" fill="#fff" stroke="#d6002a" stroke-width="0.95"/>
<line x1="84.85" y1="565.4" x2="84.85" y2="579.9" stroke="#d6002a" stroke-width="1"/>
<rect x="82.85" y="572.3" width="4.0" height="6.2" fill="#d6002a"/>
<line x1="89.16" y1="572.9" x2="89.16" y2="590.2" stroke="#d6002a" stroke-width="1"/>
<rect x="87.16" y="577.0" width="4.0" height="11.6" fill="#d6002a"/>
<line x1="93.46" y1="567.7" x2="93.46" y2="602.4" stroke="#111" stroke-width="1"/>
<rect x="91.91" y="570.5" width="3.1" height="19.7" fill="#fff" stroke="#111" stroke-width="0.95"/>
<line x1="97.77" y1="559.2" x2="97.77" y2="568.6" stroke="#111" stroke-width="1"/>
<line x1="95.67" y1="567.0" x2="99.87" y2="567.0" stroke="#111" stroke-width="1.2"/>
<line x1="102.08" y1="548.9" x2="102.08" y2="566.2" stroke="#111" stroke-width="1"/>
<rect x="100.53" y="551.3" width="3.1" height="14.1" fill="#fff" stroke="#111" stroke-width="0.95"/>
<line x1="106.38" y1="550.4" x2="106.38" y2="560.1" stroke="#d6002a" stroke-width="1"/>
<rect x="104.38" y="550.8" width="4.0" height="4.1" fill="#d6002a"/>
<line x1="110.68" y1="543.2" x2="110.68" y2="550.8" stroke="#111" stroke-width="1"/>
<rect x="109.13" y="544.6" width="3.1" height="2.1" fill="#fff" stroke="#111" stroke-width="0.95"/>
<line x1="114.99" y1="537.6" x2="114.99" y2="550.8" stroke="#111" stroke-width="1"/>
<rect x="113.44" y="538.5" width="3.1" height="9.4" fill="#fff" stroke="#111" stroke-width="0.95"/>
<line x1="119.30" y1="536.7" x2="119.30" y2="545.5" stroke="#d6002a" stroke-width="1"/>
<rect x="117.30" y="537.6" width="4.0" height="7.1" fill="#d6002a"/>
<line x1="123.60" y1="533.3" x2="123.60" y2="542.9" stroke="#111" stroke-width="1"/>
<rect x="122.05" y="533.8" width="3.1" height="8.5" fill="#fff" stroke="#111" stroke-width="0.95"/>
<line x1="127.90" y1="533.8" x2="127.90" y2="556.4" stroke="#d6002a" stroke-width="1"/>
<rect x="125.90" y="534.4" width="4.0" height="18.2" fill="#d6002a"/>
<line x1="132.21" y1="551.1" x2="132.21" y2="574.2" stroke="#d6002a" stroke-width="1"/>
<rect x="130.66" y="556.4" width="3.1" height="8.8" fill="#fff" stroke="#d6002a" stroke-width="0.95"/>
<line x1="136.51" y1="547.4" x2="136.51" y2="570.5" stroke="#d6002a" stroke-width="1"/>
<line x1="134.41" y1="560.3" x2="138.61" y2="560.3" stroke="#d6002a" stroke-width="1.2"/>
<line x1="140.82" y1="548.9" x2="140.82" y2="569.5" stroke="#d6002a" stroke-width="1"/>
<rect x="138.82" y="552.6" width="4.0" height="15.0" fill="#d6002a"/>
<line x1="145.12" y1="552.6" x2="145.12" y2="565.2" stroke="#111" stroke-width="1"/>
<rect x="143.57" y="554.5" width="3.1" height="8.1" fill="#fff" stroke="#111" stroke-width="0.95"/>
<line x1="149.43" y1="541.7" x2="149.43" y2="560.1" stroke="#111" stroke-width="1"/>
<rect x="147.88" y="543.2" width="3.1" height="14.1" fill="#fff" stroke="#111" stroke-width="0.95"/>
<line x1="153.74" y1="536.3" x2="153.74" y2="550.4" stroke="#111" stroke-width="1"/>
<line x1="151.64" y1="541.5" x2="155.84" y2="541.5" stroke="#111" stroke-width="1.2"/>
<line x1="158.04" y1="537.2" x2="158.04" y2="550.8" stroke="#d6002a" stroke-width="1"/>
<rect x="156.04" y="544.6" width="4.0" height="1.2" fill="#d6002a"/>
<line x1="162.34" y1="542.3" x2="162.34" y2="557.9" stroke="#d6002a" stroke-width="1"/>
<rect x="160.34" y="546.1" width="4.0" height="8.1" fill="#d6002a"/>
<line x1="166.65" y1="545.1" x2="166.65" y2="568.0" stroke="#111" stroke-width="1"/>
<rect x="165.10" y="549.8" width="3.1" height="3.4" fill="#fff" stroke="#111" stroke-width="0.95"/>
<line x1="170.95" y1="541.0" x2="170.95" y2="559.2" stroke="#111" stroke-width="1"/>
<rect x="169.40" y="544.2" width="3.1" height="7.1" fill="#fff" stroke="#111" stroke-width="0.95"/>
<line x1="175.26" y1="535.7" x2="175.26" y2="546.1" stroke="#111" stroke-width="1"/>
<rect x="173.71" y="542.3" width="3.1" height="2.3" fill="#fff" stroke="#111" stroke-width="0.95"/>
<line x1="179.56" y1="532.9" x2="179.56" y2="544.7" stroke="#111" stroke-width="1"/>
<rect x="178.01" y="533.8" width="3.1" height="6.6" fill="#fff" stroke="#111" stroke-width="0.95"/>
<line x1="183.87" y1="525.0" x2="183.87" y2="534.4" stroke="#111" stroke-width="1"/>
<rect x="182.32" y="525.8" width="3.1" height="5.3" fill="#fff" stroke="#111" stroke-width="0.95"/>
<line x1="188.18" y1="519.2" x2="188.18" y2="525.8" stroke="#111" stroke-width="1"/>
<rect x="186.62" y="520.3" width="3.1" height="1.3" fill="#fff" stroke="#111" stroke-width="0.95"/>
<line x1="192.48" y1="516.6" x2="192.48" y2="523.5" stroke="#111" stroke-width="1"/>
<rect x="190.93" y="517.3" width="3.1" height="5.6" fill="#fff" stroke="#111" stroke-width="0.95"/>
<line x1="196.78" y1="514.5" x2="196.78" y2="522.2" stroke="#d6002a" stroke-width="1"/>
<rect x="194.78" y="517.9" width="4.0" height="2.4" fill="#d6002a"/>
<line x1="201.09" y1="509.1" x2="201.09" y2="517.9" stroke="#111" stroke-width="1"/>
<rect x="199.54" y="511.7" width="3.1" height="5.3" fill="#fff" stroke="#111" stroke-width="0.95"/>
<line x1="205.39" y1="510.4" x2="205.39" y2="525.8" stroke="#d6002a" stroke-width="1"/>
<line x1="203.29" y1="511.1" x2="207.49" y2="511.1" stroke="#d6002a" stroke-width="1.2"/>
<line x1="209.70" y1="505.3" x2="209.70" y2="515.6" stroke="#111" stroke-width="1"/>
<rect x="208.15" y="506.6" width="3.1" height="6.0" fill="#fff" stroke="#111" stroke-width="0.95"/>
<line x1="214.00" y1="495.7" x2="214.00" y2="505.1" stroke="#111" stroke-width="1"/>
<rect x="212.45" y="496.3" width="3.1" height="8.1" fill="#fff" stroke="#111" stroke-width="0.95"/>
<line x1="218.31" y1="490.3" x2="218.31" y2="496.3" stroke="#111" stroke-width="1"/>
<rect x="216.76" y="491.2" width="3.1" height="4.5" fill="#fff" stroke="#111" stroke-width="0.95"/>
<line x1="222.62" y1="486.0" x2="222.62" y2="497.2" stroke="#111" stroke-width="1"/>
<rect x="221.06" y="491.0" width="3.1" height="2.4" fill="#fff" stroke="#111" stroke-width="0.95"/>
<line x1="226.92" y1="477.9" x2="226.92" y2="495.0" stroke="#111" stroke-width="1"/>
<rect x="225.37" y="480.3" width="3.1" height="14.1" fill="#fff" stroke="#111" stroke-width="0.95"/>
<line x1="231.22" y1="469.1" x2="231.22" y2="480.3" stroke="#111" stroke-width="1"/>
<rect x="229.67" y="470.9" width="3.1" height="8.5" fill="#fff" stroke="#111" stroke-width="0.95"/>
<line x1="235.53" y1="464.6" x2="235.53" y2="473.8" stroke="#d6002a" stroke-width="1"/>
<line x1="233.43" y1="472.2" x2="237.63" y2="472.2" stroke="#d6002a" stroke-width="1.2"/>
<line x1="239.83" y1="469.1" x2="239.83" y2="485.0" stroke="#d6002a" stroke-width="1"/>
<rect x="238.28" y="479.4" width="3.1" height="5.3" fill="#fff" stroke="#d6002a" stroke-width="0.95"/>
<line x1="244.14" y1="455.2" x2="244.14" y2="478.5" stroke="#111" stroke-width="1"/>
<rect x="242.59" y="458.4" width="3.1" height="19.2" fill="#fff" stroke="#111" stroke-width="0.95"/>
<line x1="248.44" y1="446.7" x2="248.44" y2="460.4" stroke="#111" stroke-width="1"/>
<rect x="246.89" y="447.3" width="3.1" height="12.6" fill="#fff" stroke="#111" stroke-width="0.95"/>
<line x1="252.75" y1="442.0" x2="252.75" y2="458.9" stroke="#d6002a" stroke-width="1"/>
<rect x="250.75" y="450.5" width="4.0" height="6.6" fill="#d6002a"/>
<line x1="257.06" y1="468.3" x2="257.06" y2="527.3" stroke="#d6002a" stroke-width="1"/>
<rect x="255.06" y="476.2" width="4.0" height="32.3" fill="#d6002a"/>
<line x1="261.36" y1="478.5" x2="261.36" y2="516.6" stroke="#111" stroke-width="1"/>
<rect x="259.36" y="501.9" width="4.0" height="3.4" fill="#111"/>
<line x1="265.66" y1="510.4" x2="265.66" y2="581.7" stroke="#d6002a" stroke-width="1"/>
<rect x="264.11" y="534.8" width="3.1" height="5.6" fill="#fff" stroke="#d6002a" stroke-width="0.95"/>
<line x1="269.97" y1="561.6" x2="269.97" y2="609.3" stroke="#d6002a" stroke-width="1"/>
<rect x="267.97" y="564.8" width="4.0" height="34.4" fill="#d6002a"/>
<line x1="274.27" y1="540.0" x2="274.27" y2="613.7" stroke="#111" stroke-width="1"/>
<rect x="272.72" y="560.1" width="3.1" height="41.3" fill="#fff" stroke="#111" stroke-width="0.95"/>
<line x1="278.58" y1="533.8" x2="278.58" y2="570.5" stroke="#d6002a" stroke-width="1"/>
<rect x="276.58" y="553.9" width="4.0" height="10.0" fill="#d6002a"/>
<line x1="282.88" y1="515.1" x2="282.88" y2="548.9" stroke="#111" stroke-width="1"/>
<rect x="281.33" y="521.1" width="3.1" height="25.9" fill="#fff" stroke="#111" stroke-width="0.95"/>
<line x1="287.19" y1="486.0" x2="287.19" y2="525.4" stroke="#111" stroke-width="1"/>
<rect x="285.64" y="488.2" width="3.1" height="35.3" fill="#fff" stroke="#111" stroke-width="0.95"/>
<line x1="291.49" y1="489.7" x2="291.49" y2="515.1" stroke="#d6002a" stroke-width="1"/>
<rect x="289.94" y="490.3" width="3.1" height="2.3" fill="#fff" stroke="#d6002a" stroke-width="0.95"/>
<line x1="295.80" y1="477.9" x2="295.80" y2="497.8" stroke="#d6002a" stroke-width="1"/>
<rect x="293.80" y="486.5" width="4.0" height="7.9" fill="#d6002a"/>
<line x1="300.10" y1="467.4" x2="300.10" y2="496.9" stroke="#111" stroke-width="1"/>
<rect x="298.55" y="468.0" width="3.1" height="28.4" fill="#fff" stroke="#111" stroke-width="0.95"/>
<line x1="304.41" y1="460.8" x2="304.41" y2="487.3" stroke="#d6002a" stroke-width="1"/>
<line x1="302.31" y1="471.6" x2="306.51" y2="471.6" stroke="#d6002a" stroke-width="1.2"/>
<line x1="308.71" y1="453.3" x2="308.71" y2="466.5" stroke="#111" stroke-width="1"/>
<rect x="307.16" y="458.6" width="3.1" height="6.4" fill="#fff" stroke="#111" stroke-width="0.95"/>
<line x1="313.02" y1="449.6" x2="313.02" y2="472.1" stroke="#111" stroke-width="1"/>
<line x1="310.92" y1="450.1" x2="315.12" y2="450.1" stroke="#111" stroke-width="1.2"/>
<line x1="317.32" y1="436.4" x2="317.32" y2="453.3" stroke="#111" stroke-width="1"/>
<rect x="315.77" y="437.4" width="3.1" height="15.0" fill="#fff" stroke="#111" stroke-width="0.95"/>
<line x1="321.63" y1="422.0" x2="321.63" y2="454.3" stroke="#d6002a" stroke-width="1"/>
<rect x="319.63" y="438.7" width="4.0" height="6.8" fill="#d6002a"/>
<line x1="325.93" y1="423.7" x2="325.93" y2="453.7" stroke="#111" stroke-width="1"/>
<rect x="324.38" y="428.9" width="3.1" height="24.4" fill="#fff" stroke="#111" stroke-width="0.95"/>
<line x1="330.24" y1="415.2" x2="330.24" y2="437.4" stroke="#d6002a" stroke-width="1"/>
<rect x="328.24" y="430.4" width="4.0" height="6.4" fill="#d6002a"/>
<line x1="334.54" y1="409.2" x2="334.54" y2="442.1" stroke="#111" stroke-width="1"/>
<rect x="332.99" y="413.3" width="3.1" height="23.1" fill="#fff" stroke="#111" stroke-width="0.95"/>
<line x1="338.85" y1="390.8" x2="338.85" y2="407.3" stroke="#111" stroke-width="1"/>
<rect x="337.30" y="391.4" width="3.1" height="15.4" fill="#fff" stroke="#111" stroke-width="0.95"/>
<line x1="343.15" y1="381.0" x2="343.15" y2="411.6" stroke="#d6002a" stroke-width="1"/>
<rect x="341.15" y="385.7" width="4.0" height="14.1" fill="#d6002a"/>
<line x1="347.46" y1="383.5" x2="347.46" y2="414.5" stroke="#d6002a" stroke-width="1"/>
<rect x="345.46" y="398.9" width="4.0" height="7.9" fill="#d6002a"/>
<line x1="351.76" y1="387.6" x2="351.76" y2="405.1" stroke="#111" stroke-width="1"/>
<rect x="350.21" y="388.5" width="3.1" height="16.0" fill="#fff" stroke="#111" stroke-width="0.95"/>
<line x1="356.07" y1="372.6" x2="356.07" y2="384.4" stroke="#111" stroke-width="1"/>
<rect x="354.52" y="378.6" width="3.1" height="5.3" fill="#fff" stroke="#111" stroke-width="0.95"/>
<line x1="360.37" y1="373.5" x2="360.37" y2="390.4" stroke="#111" stroke-width="1"/>
<line x1="358.27" y1="377.4" x2="362.47" y2="377.4" stroke="#111" stroke-width="1.2"/>
<line x1="364.68" y1="360.0" x2="364.68" y2="375.8" stroke="#111" stroke-width="1"/>
<rect x="363.13" y="360.8" width="3.1" height="14.3" fill="#fff" stroke="#111" stroke-width="0.95"/>
<line x1="368.98" y1="342.2" x2="368.98" y2="361.7" stroke="#111" stroke-width="1"/>
<rect x="367.43" y="342.9" width="3.1" height="12.2" fill="#fff" stroke="#111" stroke-width="0.95"/>
<line x1="373.29" y1="325.6" x2="373.29" y2="378.2" stroke="#d6002a" stroke-width="1"/>
<rect x="371.29" y="342.5" width="4.0" height="16.0" fill="#d6002a"/>
<line x1="377.59" y1="360.0" x2="377.59" y2="382.5" stroke="#d6002a" stroke-width="1"/>
<rect x="375.59" y="378.2" width="4.0" height="3.4" fill="#d6002a"/>
<line x1="381.90" y1="363.6" x2="381.90" y2="394.7" stroke="#d6002a" stroke-width="1"/>
<rect x="379.90" y="374.5" width="4.0" height="12.2" fill="#d6002a"/>
<line x1="386.20" y1="377.7" x2="386.20" y2="398.5" stroke="#111" stroke-width="1"/>
<rect x="384.65" y="378.6" width="3.1" height="16.0" fill="#fff" stroke="#111" stroke-width="0.95"/>
<line x1="390.51" y1="359.4" x2="390.51" y2="374.8" stroke="#111" stroke-width="1"/>
<rect x="388.51" y="370.3" width="4.0" height="3.2" fill="#111"/>
<line x1="394.81" y1="353.8" x2="394.81" y2="373.1" stroke="#111" stroke-width="1"/>
<rect x="393.26" y="354.4" width="3.1" height="15.4" fill="#fff" stroke="#111" stroke-width="0.95"/>
<line x1="399.12" y1="335.0" x2="399.12" y2="352.3" stroke="#111" stroke-width="1"/>
<rect x="397.12" y="347.6" width="4.0" height="1.9" fill="#111"/>
<line x1="403.42" y1="344.4" x2="403.42" y2="361.7" stroke="#d6002a" stroke-width="1"/>
<rect x="401.42" y="346.3" width="4.0" height="8.8" fill="#d6002a"/>
<line x1="407.73" y1="354.7" x2="407.73" y2="386.1" stroke="#d6002a" stroke-width="1"/>
<rect x="405.73" y="360.0" width="4.0" height="21.6" fill="#d6002a"/>
<line x1="412.03" y1="338.4" x2="412.03" y2="385.4" stroke="#111" stroke-width="1"/>
<rect x="410.48" y="339.3" width="3.1" height="37.9" fill="#fff" stroke="#111" stroke-width="0.95"/>
<line x1="416.34" y1="332.1" x2="416.34" y2="363.6" stroke="#d6002a" stroke-width="1"/>
<rect x="414.34" y="335.1" width="4.0" height="10.7" fill="#d6002a"/>
<line x1="420.64" y1="343.0" x2="420.64" y2="349.5" stroke="#d6002a" stroke-width="1"/>
<line x1="418.54" y1="346.8" x2="422.75" y2="346.8" stroke="#d6002a" stroke-width="1.2"/>
<line x1="424.95" y1="331.3" x2="424.95" y2="351.4" stroke="#111" stroke-width="1"/>
<rect x="423.40" y="332.1" width="3.1" height="12.8" fill="#fff" stroke="#111" stroke-width="0.95"/>
<line x1="429.25" y1="322.3" x2="429.25" y2="339.8" stroke="#111" stroke-width="1"/>
<rect x="427.70" y="323.2" width="3.1" height="9.4" fill="#fff" stroke="#111" stroke-width="0.95"/>
<line x1="433.56" y1="318.0" x2="433.56" y2="334.9" stroke="#d6002a" stroke-width="1"/>
<rect x="431.56" y="323.2" width="4.0" height="5.6" fill="#d6002a"/>
<line x1="437.86" y1="312.9" x2="437.86" y2="327.4" stroke="#111" stroke-width="1"/>
<rect x="436.31" y="314.4" width="3.1" height="12.2" fill="#fff" stroke="#111" stroke-width="0.95"/>
<line x1="442.17" y1="313.8" x2="442.17" y2="325.1" stroke="#d6002a" stroke-width="1"/>
<rect x="440.62" y="316.7" width="3.1" height="4.3" fill="#fff" stroke="#d6002a" stroke-width="0.95"/>
<line x1="446.47" y1="307.8" x2="446.47" y2="314.8" stroke="#111" stroke-width="1"/>
<rect x="444.92" y="309.2" width="3.1" height="2.8" fill="#fff" stroke="#111" stroke-width="0.95"/>
<line x1="450.78" y1="300.7" x2="450.78" y2="322.9" stroke="#111" stroke-width="1"/>
<rect x="449.23" y="301.6" width="3.1" height="5.6" fill="#fff" stroke="#111" stroke-width="0.95"/>
<line x1="455.08" y1="304.5" x2="455.08" y2="314.8" stroke="#d6002a" stroke-width="1"/>
<rect x="453.08" y="306.3" width="4.0" height="7.1" fill="#d6002a"/>
<line x1="459.39" y1="289.1" x2="459.39" y2="310.5" stroke="#111" stroke-width="1"/>
<rect x="457.84" y="292.3" width="3.1" height="16.9" fill="#fff" stroke="#111" stroke-width="0.95"/>
<line x1="463.69" y1="284.7" x2="463.69" y2="311.6" stroke="#d6002a" stroke-width="1"/>
<rect x="461.69" y="286.6" width="4.0" height="21.6" fill="#d6002a"/>
<line x1="468.00" y1="282.9" x2="468.00" y2="306.3" stroke="#111" stroke-width="1"/>
<rect x="466.45" y="283.4" width="3.1" height="19.2" fill="#fff" stroke="#111" stroke-width="0.95"/>
<line x1="472.30" y1="275.9" x2="472.30" y2="286.6" stroke="#111" stroke-width="1"/>
<rect x="470.75" y="276.7" width="3.1" height="5.3" fill="#fff" stroke="#111" stroke-width="0.95"/>
<line x1="476.61" y1="273.5" x2="476.61" y2="288.5" stroke="#d6002a" stroke-width="1"/>
<rect x="474.61" y="275.4" width="4.0" height="9.4" fill="#d6002a"/>
<line x1="480.91" y1="289.4" x2="480.91" y2="314.8" stroke="#d6002a" stroke-width="1"/>
<rect x="478.91" y="290.0" width="4.0" height="18.8" fill="#d6002a"/>
<line x1="485.22" y1="294.5" x2="485.22" y2="335.8" stroke="#d6002a" stroke-width="1"/>
<rect x="483.22" y="300.7" width="4.0" height="16.5" fill="#d6002a"/>
<line x1="489.52" y1="300.3" x2="489.52" y2="332.3" stroke="#111" stroke-width="1"/>
<rect x="487.97" y="307.8" width="3.1" height="11.1" fill="#fff" stroke="#111" stroke-width="0.95"/>
<line x1="493.83" y1="294.1" x2="493.83" y2="316.7" stroke="#d6002a" stroke-width="1"/>
<rect x="491.83" y="307.8" width="4.0" height="2.6" fill="#d6002a"/>
<line x1="498.13" y1="299.2" x2="498.13" y2="319.5" stroke="#111" stroke-width="1"/>
<line x1="496.03" y1="306.4" x2="500.23" y2="306.4" stroke="#111" stroke-width="1.2"/>
<line x1="502.44" y1="292.8" x2="502.44" y2="313.8" stroke="#111" stroke-width="1"/>
<rect x="500.89" y="293.2" width="3.1" height="13.7" fill="#fff" stroke="#111" stroke-width="0.95"/>
<line x1="506.74" y1="274.8" x2="506.74" y2="290.6" stroke="#111" stroke-width="1"/>
<rect x="505.19" y="275.5" width="3.1" height="14.3" fill="#fff" stroke="#111" stroke-width="0.95"/>
<line x1="511.05" y1="268.2" x2="511.05" y2="278.9" stroke="#111" stroke-width="1"/>
<rect x="509.50" y="269.0" width="3.1" height="9.0" fill="#fff" stroke="#111" stroke-width="0.95"/>
<line x1="515.36" y1="269.5" x2="515.36" y2="280.8" stroke="#d6002a" stroke-width="1"/>
<line x1="513.25" y1="272.4" x2="517.46" y2="272.4" stroke="#d6002a" stroke-width="1.2"/>
<line x1="519.66" y1="267.7" x2="519.66" y2="275.5" stroke="#d6002a" stroke-width="1"/>
<rect x="517.66" y="271.4" width="4.0" height="3.2" fill="#d6002a"/>
<line x1="523.97" y1="272.3" x2="523.97" y2="291.7" stroke="#d6002a" stroke-width="1"/>
<rect x="521.97" y="272.9" width="4.0" height="7.5" fill="#d6002a"/>
<line x1="528.27" y1="281.7" x2="528.27" y2="307.1" stroke="#d6002a" stroke-width="1"/>
<rect x="526.27" y="282.3" width="4.0" height="9.4" fill="#d6002a"/>
<line x1="532.57" y1="284.9" x2="532.57" y2="305.6" stroke="#111" stroke-width="1"/>
<rect x="531.02" y="290.6" width="3.1" height="3.0" fill="#fff" stroke="#111" stroke-width="0.95"/>
<line x1="536.88" y1="278.4" x2="536.88" y2="287.9" stroke="#111" stroke-width="1"/>
<rect x="535.33" y="281.2" width="3.1" height="6.2" fill="#fff" stroke="#111" stroke-width="0.95"/>
<line x1="541.18" y1="277.4" x2="541.18" y2="289.2" stroke="#111" stroke-width="1"/>
<line x1="539.08" y1="278.6" x2="543.28" y2="278.6" stroke="#111" stroke-width="1.2"/>
<line x1="545.49" y1="269.9" x2="545.49" y2="280.4" stroke="#111" stroke-width="1"/>
<rect x="543.94" y="270.5" width="3.1" height="9.0" fill="#fff" stroke="#111" stroke-width="0.95"/>
<line x1="549.79" y1="263.3" x2="549.79" y2="277.0" stroke="#111" stroke-width="1"/>
<line x1="547.69" y1="269.2" x2="551.89" y2="269.2" stroke="#111" stroke-width="1.2"/>
<line x1="554.10" y1="256.0" x2="554.10" y2="271.8" stroke="#111" stroke-width="1"/>
<rect x="552.55" y="258.3" width="3.1" height="10.3" fill="#fff" stroke="#111" stroke-width="0.95"/>
<line x1="558.40" y1="245.1" x2="558.40" y2="257.7" stroke="#111" stroke-width="1"/>
<rect x="556.86" y="246.1" width="3.1" height="10.9" fill="#fff" stroke="#111" stroke-width="0.95"/>
<line x1="562.71" y1="241.0" x2="562.71" y2="251.7" stroke="#111" stroke-width="1"/>
<rect x="561.16" y="242.9" width="3.1" height="2.8" fill="#fff" stroke="#111" stroke-width="0.95"/>
<line x1="567.01" y1="240.0" x2="567.01" y2="248.5" stroke="#d6002a" stroke-width="1"/>
<rect x="565.01" y="241.0" width="4.0" height="6.9" fill="#d6002a"/>
<line x1="571.32" y1="233.8" x2="571.32" y2="255.4" stroke="#111" stroke-width="1"/>
<rect x="569.77" y="234.8" width="3.1" height="18.8" fill="#fff" stroke="#111" stroke-width="0.95"/>
<line x1="575.62" y1="232.0" x2="575.62" y2="244.2" stroke="#d6002a" stroke-width="1"/>
<line x1="573.52" y1="235.3" x2="577.73" y2="235.3" stroke="#d6002a" stroke-width="1.2"/>
<line x1="579.93" y1="231.4" x2="579.93" y2="242.9" stroke="#111" stroke-width="1"/>
<line x1="577.83" y1="235.3" x2="582.03" y2="235.3" stroke="#111" stroke-width="1.2"/>
<line x1="584.23" y1="231.0" x2="584.23" y2="238.9" stroke="#111" stroke-width="1"/>
<line x1="582.13" y1="234.5" x2="586.33" y2="234.5" stroke="#111" stroke-width="1.2"/>
<line x1="588.54" y1="232.9" x2="588.54" y2="245.7" stroke="#d6002a" stroke-width="1"/>
<line x1="586.44" y1="234.9" x2="590.64" y2="234.9" stroke="#d6002a" stroke-width="1.2"/>
<line x1="592.84" y1="223.5" x2="592.84" y2="233.3" stroke="#111" stroke-width="1"/>
<rect x="591.29" y="224.5" width="3.1" height="8.1" fill="#fff" stroke="#111" stroke-width="0.95"/>
<line x1="597.15" y1="216.0" x2="597.15" y2="223.9" stroke="#111" stroke-width="1"/>
<rect x="595.60" y="217.3" width="3.1" height="5.8" fill="#fff" stroke="#111" stroke-width="0.95"/>
<line x1="601.45" y1="215.6" x2="601.45" y2="224.5" stroke="#d6002a" stroke-width="1"/>
<rect x="599.45" y="216.9" width="4.0" height="6.6" fill="#d6002a"/>
<line x1="605.76" y1="219.2" x2="605.76" y2="228.6" stroke="#d6002a" stroke-width="1"/>
<rect x="603.76" y="219.8" width="4.0" height="7.9" fill="#d6002a"/>
<line x1="610.06" y1="226.3" x2="610.06" y2="243.2" stroke="#d6002a" stroke-width="1"/>
<rect x="608.51" y="227.3" width="3.1" height="8.5" fill="#fff" stroke="#d6002a" stroke-width="0.95"/>
<line x1="614.37" y1="229.7" x2="614.37" y2="252.1" stroke="#d6002a" stroke-width="1"/>
<rect x="612.37" y="230.5" width="4.0" height="13.7" fill="#d6002a"/>
<line x1="618.67" y1="242.9" x2="618.67" y2="257.9" stroke="#111" stroke-width="1"/>
<rect x="617.12" y="243.8" width="3.1" height="2.6" fill="#fff" stroke="#111" stroke-width="0.95"/>
<line x1="622.98" y1="232.3" x2="622.98" y2="249.8" stroke="#111" stroke-width="1"/>
<rect x="621.43" y="232.9" width="3.1" height="11.8" fill="#fff" stroke="#111" stroke-width="0.95"/>
<line x1="627.28" y1="222.6" x2="627.28" y2="235.7" stroke="#111" stroke-width="1"/>
<rect x="625.74" y="226.9" width="3.1" height="7.5" fill="#fff" stroke="#111" stroke-width="0.95"/>
<line x1="631.59" y1="210.4" x2="631.59" y2="226.9" stroke="#111" stroke-width="1"/>
<rect x="630.04" y="211.3" width="3.1" height="14.1" fill="#fff" stroke="#111" stroke-width="0.95"/>
<line x1="635.89" y1="193.8" x2="635.89" y2="214.1" stroke="#111" stroke-width="1"/>
<rect x="634.35" y="196.7" width="3.1" height="13.7" fill="#fff" stroke="#111" stroke-width="0.95"/>
<line x1="640.20" y1="195.9" x2="640.20" y2="209.8" stroke="#d6002a" stroke-width="1"/>
<rect x="638.20" y="196.9" width="4.0" height="4.1" fill="#d6002a"/>
<line x1="644.50" y1="188.8" x2="644.50" y2="204.7" stroke="#111" stroke-width="1"/>
<rect x="642.96" y="190.3" width="3.1" height="9.8" fill="#fff" stroke="#111" stroke-width="0.95"/>
<line x1="648.81" y1="186.9" x2="648.81" y2="207.6" stroke="#d6002a" stroke-width="1"/>
<rect x="646.81" y="187.8" width="4.0" height="18.2" fill="#d6002a"/>
<line x1="653.11" y1="190.7" x2="653.11" y2="221.1" stroke="#d6002a" stroke-width="1"/>
<rect x="651.11" y="195.4" width="4.0" height="20.1" fill="#d6002a"/>
<line x1="657.42" y1="194.4" x2="657.42" y2="221.1" stroke="#111" stroke-width="1"/>
<rect x="655.87" y="197.8" width="3.1" height="16.7" fill="#fff" stroke="#111" stroke-width="0.95"/>
<line x1="661.72" y1="196.9" x2="661.72" y2="213.6" stroke="#d6002a" stroke-width="1"/>
<rect x="659.72" y="197.6" width="4.0" height="15.2" fill="#d6002a"/>
<line x1="666.03" y1="197.6" x2="666.03" y2="222.0" stroke="#111" stroke-width="1"/>
<rect x="664.48" y="198.2" width="3.1" height="22.2" fill="#fff" stroke="#111" stroke-width="0.95"/>
<line x1="670.33" y1="189.2" x2="670.33" y2="198.2" stroke="#111" stroke-width="1"/>
<line x1="668.23" y1="197.3" x2="672.43" y2="197.3" stroke="#111" stroke-width="1.2"/>
<line x1="674.64" y1="192.2" x2="674.64" y2="220.3" stroke="#d6002a" stroke-width="1"/>
<rect x="672.64" y="195.4" width="4.0" height="23.8" fill="#d6002a"/>
<line x1="678.94" y1="207.0" x2="678.94" y2="232.5" stroke="#111" stroke-width="1"/>
<rect x="677.39" y="219.2" width="3.1" height="6.8" fill="#fff" stroke="#111" stroke-width="0.95"/>
<line x1="683.25" y1="223.9" x2="683.25" y2="256.8" stroke="#d6002a" stroke-width="1"/>
<rect x="681.25" y="225.4" width="4.0" height="30.6" fill="#d6002a"/>
<line x1="687.55" y1="248.9" x2="687.55" y2="279.5" stroke="#111" stroke-width="1"/>
<rect x="686.00" y="255.4" width="3.1" height="9.4" fill="#fff" stroke="#111" stroke-width="0.95"/>
<line x1="691.86" y1="231.0" x2="691.86" y2="255.4" stroke="#111" stroke-width="1"/>
<rect x="690.31" y="247.9" width="3.1" height="5.6" fill="#fff" stroke="#111" stroke-width="0.95"/>
<line x1="696.16" y1="235.3" x2="696.16" y2="262.9" stroke="#d6002a" stroke-width="1"/>
<rect x="694.16" y="246.0" width="4.0" height="16.2" fill="#d6002a"/>
<line x1="700.47" y1="248.8" x2="700.47" y2="273.5" stroke="#d6002a" stroke-width="1"/>
<rect x="698.47" y="262.0" width="4.0" height="8.1" fill="#d6002a"/>
<line x1="704.77" y1="262.6" x2="704.77" y2="302.6" stroke="#111" stroke-width="1"/>
<rect x="703.23" y="263.5" width="3.1" height="10.7" fill="#fff" stroke="#111" stroke-width="0.95"/>
<line x1="709.08" y1="258.4" x2="709.08" y2="279.1" stroke="#d6002a" stroke-width="1"/>
<rect x="707.08" y="267.8" width="4.0" height="7.5" fill="#d6002a"/>
<line x1="713.38" y1="273.5" x2="713.38" y2="301.1" stroke="#d6002a" stroke-width="1"/>
<rect x="711.38" y="274.2" width="4.0" height="20.8" fill="#d6002a"/>
<line x1="717.69" y1="255.0" x2="717.69" y2="304.4" stroke="#111" stroke-width="1"/>
<rect x="716.14" y="256.0" width="3.1" height="40.4" fill="#fff" stroke="#111" stroke-width="0.95"/>
<line x1="721.99" y1="244.3" x2="721.99" y2="264.1" stroke="#111" stroke-width="1"/>
<rect x="720.44" y="245.3" width="3.1" height="12.0" fill="#fff" stroke="#111" stroke-width="0.95"/>
<line x1="726.30" y1="228.8" x2="726.30" y2="246.6" stroke="#111" stroke-width="1"/>
<rect x="724.75" y="242.3" width="3.1" height="2.4" fill="#fff" stroke="#111" stroke-width="0.95"/>
<line x1="730.60" y1="232.5" x2="730.60" y2="260.7" stroke="#d6002a" stroke-width="1"/>
<rect x="728.60" y="241.0" width="4.0" height="18.8" fill="#d6002a"/>
<line x1="734.91" y1="261.2" x2="734.91" y2="275.3" stroke="#d6002a" stroke-width="1"/>
<rect x="732.91" y="265.0" width="4.0" height="9.2" fill="#d6002a"/>
<line x1="739.21" y1="260.7" x2="739.21" y2="293.5" stroke="#d6002a" stroke-width="1"/>
<rect x="737.21" y="274.8" width="4.0" height="17.5" fill="#d6002a"/>
<line x1="743.52" y1="286.4" x2="743.52" y2="311.4" stroke="#d6002a" stroke-width="1"/>
<rect x="741.52" y="295.4" width="4.0" height="15.0" fill="#d6002a"/>
<line x1="747.82" y1="285.1" x2="747.82" y2="323.6" stroke="#d6002a" stroke-width="1"/>
<rect x="745.82" y="310.1" width="4.0" height="6.6" fill="#d6002a"/>
<line x1="752.13" y1="321.7" x2="752.13" y2="356.5" stroke="#d6002a" stroke-width="1"/>
<rect x="750.13" y="325.1" width="4.0" height="3.2" fill="#d6002a"/>
<line x1="756.43" y1="320.8" x2="756.43" y2="364.0" stroke="#d6002a" stroke-width="1"/>
<rect x="754.43" y="331.5" width="4.0" height="17.5" fill="#d6002a"/>
<line x1="760.74" y1="316.1" x2="760.74" y2="360.6" stroke="#111" stroke-width="1"/>
<rect x="759.19" y="317.0" width="3.1" height="31.4" fill="#fff" stroke="#111" stroke-width="0.95"/>
<line x1="765.04" y1="309.5" x2="765.04" y2="326.4" stroke="#d6002a" stroke-width="1"/>
<rect x="763.04" y="317.0" width="4.0" height="5.6" fill="#d6002a"/>
<line x1="769.35" y1="312.3" x2="769.35" y2="350.8" stroke="#d6002a" stroke-width="1"/>
<rect x="767.35" y="314.6" width="4.0" height="35.3" fill="#d6002a"/>
<line x1="773.65" y1="353.6" x2="773.65" y2="382.6" stroke="#d6002a" stroke-width="1"/>
<rect x="771.65" y="364.3" width="4.0" height="9.0" fill="#d6002a"/>
<line x1="777.96" y1="337.7" x2="777.96" y2="366.2" stroke="#111" stroke-width="1"/>
<rect x="776.41" y="338.6" width="3.1" height="26.9" fill="#fff" stroke="#111" stroke-width="0.95"/>
<line x1="782.26" y1="335.8" x2="782.26" y2="360.2" stroke="#d6002a" stroke-width="1"/>
<rect x="780.26" y="337.1" width="4.0" height="22.2" fill="#d6002a"/>
<line x1="786.57" y1="335.8" x2="786.57" y2="369.2" stroke="#111" stroke-width="1"/>
<rect x="785.02" y="337.3" width="3.1" height="28.9" fill="#fff" stroke="#111" stroke-width="0.95"/>
<line x1="790.87" y1="342.4" x2="790.87" y2="364.0" stroke="#d6002a" stroke-width="1"/>
<line x1="788.77" y1="343.4" x2="792.97" y2="343.4" stroke="#d6002a" stroke-width="1.2"/>
<line x1="795.18" y1="318.0" x2="795.18" y2="350.4" stroke="#111" stroke-width="1"/>
<rect x="793.63" y="327.3" width="3.1" height="12.2" fill="#fff" stroke="#111" stroke-width="0.95"/>
<line x1="799.48" y1="304.8" x2="799.48" y2="341.1" stroke="#111" stroke-width="1"/>
<rect x="797.93" y="306.3" width="3.1" height="21.6" fill="#fff" stroke="#111" stroke-width="0.95"/>
<line x1="803.79" y1="293.5" x2="803.79" y2="311.9" stroke="#111" stroke-width="1"/>
<rect x="802.24" y="298.2" width="3.1" height="11.3" fill="#fff" stroke="#111" stroke-width="0.95"/>
<line x1="808.09" y1="284.2" x2="808.09" y2="307.6" stroke="#111" stroke-width="1"/>
<rect x="806.54" y="285.1" width="3.1" height="11.8" fill="#fff" stroke="#111" stroke-width="0.95"/>
<line x1="812.40" y1="279.8" x2="812.40" y2="297.9" stroke="#d6002a" stroke-width="1"/>
<rect x="810.40" y="285.7" width="4.0" height="11.3" fill="#d6002a"/>
<line x1="816.70" y1="298.8" x2="816.70" y2="320.8" stroke="#d6002a" stroke-width="1"/>
<rect x="814.70" y="302.9" width="4.0" height="16.9" fill="#d6002a"/>
<line x1="821.01" y1="319.8" x2="821.01" y2="343.9" stroke="#d6002a" stroke-width="1"/>
<rect x="819.01" y="323.6" width="4.0" height="16.0" fill="#d6002a"/>
<line x1="825.31" y1="319.5" x2="825.31" y2="345.8" stroke="#111" stroke-width="1"/>
<rect x="823.76" y="320.4" width="3.1" height="18.2" fill="#fff" stroke="#111" stroke-width="0.95"/>
<line x1="829.62" y1="314.2" x2="829.62" y2="355.1" stroke="#d6002a" stroke-width="1"/>
<rect x="827.62" y="317.0" width="4.0" height="31.9" fill="#d6002a"/>
<line x1="833.92" y1="352.3" x2="833.92" y2="376.4" stroke="#d6002a" stroke-width="1"/>
<rect x="831.92" y="353.1" width="4.0" height="19.3" fill="#d6002a"/>
<line x1="838.23" y1="360.4" x2="838.23" y2="386.7" stroke="#d6002a" stroke-width="1"/>
<rect x="836.23" y="372.2" width="4.0" height="13.5" fill="#d6002a"/>
<line x1="842.53" y1="356.3" x2="842.53" y2="384.8" stroke="#111" stroke-width="1"/>
<line x1="840.43" y1="382.1" x2="844.63" y2="382.1" stroke="#111" stroke-width="1.2"/>
<line x1="846.84" y1="377.3" x2="846.84" y2="409.8" stroke="#d6002a" stroke-width="1"/>
<rect x="844.84" y="382.9" width="4.0" height="15.6" fill="#d6002a"/>
<line x1="851.14" y1="367.9" x2="851.14" y2="386.7" stroke="#111" stroke-width="1"/>
<rect x="849.60" y="371.1" width="3.1" height="15.2" fill="#fff" stroke="#111" stroke-width="0.95"/>
<line x1="855.45" y1="355.1" x2="855.45" y2="377.3" stroke="#111" stroke-width="1"/>
<rect x="853.90" y="361.0" width="3.1" height="9.8" fill="#fff" stroke="#111" stroke-width="0.95"/>
<line x1="859.75" y1="363.6" x2="859.75" y2="401.2" stroke="#d6002a" stroke-width="1"/>
<rect x="857.75" y="364.2" width="4.0" height="26.3" fill="#d6002a"/>
<line x1="864.06" y1="349.5" x2="864.06" y2="394.2" stroke="#111" stroke-width="1"/>
<rect x="862.51" y="350.1" width="3.1" height="38.5" fill="#fff" stroke="#111" stroke-width="0.95"/>
<line x1="868.36" y1="342.6" x2="868.36" y2="363.6" stroke="#d6002a" stroke-width="1"/>
<rect x="866.36" y="353.8" width="4.0" height="1.9" fill="#d6002a"/>
<line x1="872.67" y1="348.2" x2="872.67" y2="363.2" stroke="#111" stroke-width="1"/>
<rect x="871.12" y="352.5" width="3.1" height="6.0" fill="#fff" stroke="#111" stroke-width="0.95"/>
<line x1="876.97" y1="338.2" x2="876.97" y2="365.7" stroke="#111" stroke-width="1"/>
<rect x="875.42" y="342.6" width="3.1" height="13.1" fill="#fff" stroke="#111" stroke-width="0.95"/>
<line x1="881.28" y1="345.4" x2="881.28" y2="367.9" stroke="#d6002a" stroke-width="1"/>
<rect x="879.28" y="346.9" width="4.0" height="14.5" fill="#d6002a"/>
<line x1="885.58" y1="336.9" x2="885.58" y2="376.4" stroke="#d6002a" stroke-width="1"/>
<rect x="883.58" y="360.0" width="4.0" height="14.1" fill="#d6002a"/>
<line x1="889.89" y1="372.6" x2="889.89" y2="394.2" stroke="#d6002a" stroke-width="1"/>
<rect x="887.89" y="373.5" width="4.0" height="11.8" fill="#d6002a"/>
<line x1="894.19" y1="384.8" x2="894.19" y2="399.5" stroke="#d6002a" stroke-width="1"/>
<line x1="892.09" y1="387.2" x2="896.29" y2="387.2" stroke="#d6002a" stroke-width="1.2"/>
<line x1="898.50" y1="380.1" x2="898.50" y2="397.6" stroke="#111" stroke-width="1"/>
<line x1="896.40" y1="382.5" x2="900.60" y2="382.5" stroke="#111" stroke-width="1.2"/>
<line x1="902.80" y1="361.0" x2="902.80" y2="382.0" stroke="#111" stroke-width="1"/>
<rect x="901.25" y="361.9" width="3.1" height="16.7" fill="#fff" stroke="#111" stroke-width="0.95"/>
<line x1="907.11" y1="355.7" x2="907.11" y2="374.5" stroke="#111" stroke-width="1"/>
<rect x="905.56" y="358.5" width="3.1" height="3.8" fill="#fff" stroke="#111" stroke-width="0.95"/>
<line x1="911.41" y1="333.2" x2="911.41" y2="361.4" stroke="#111" stroke-width="1"/>
<rect x="909.87" y="336.9" width="3.1" height="20.3" fill="#fff" stroke="#111" stroke-width="0.95"/>
<line x1="915.72" y1="308.8" x2="915.72" y2="347.3" stroke="#111" stroke-width="1"/>
<rect x="914.17" y="321.4" width="3.1" height="19.3" fill="#fff" stroke="#111" stroke-width="0.95"/>
<line x1="920.02" y1="313.5" x2="920.02" y2="335.1" stroke="#d6002a" stroke-width="1"/>
<rect x="918.02" y="324.7" width="4.0" height="6.9" fill="#d6002a"/>
<line x1="924.33" y1="317.2" x2="924.33" y2="334.1" stroke="#111" stroke-width="1"/>
<line x1="922.23" y1="329.5" x2="926.43" y2="329.5" stroke="#111" stroke-width="1.2"/>
<line x1="928.63" y1="333.6" x2="928.63" y2="347.3" stroke="#d6002a" stroke-width="1"/>
<rect x="926.63" y="334.1" width="4.0" height="10.9" fill="#d6002a"/>
<line x1="932.94" y1="330.9" x2="932.94" y2="350.1" stroke="#111" stroke-width="1"/>
<rect x="931.39" y="331.7" width="3.1" height="6.6" fill="#fff" stroke="#111" stroke-width="0.95"/>
<line x1="937.24" y1="324.7" x2="937.24" y2="352.0" stroke="#d6002a" stroke-width="1"/>
<rect x="935.24" y="329.8" width="4.0" height="20.8" fill="#d6002a"/>
<line x1="941.55" y1="317.2" x2="941.55" y2="355.4" stroke="#111" stroke-width="1"/>
<rect x="940.00" y="323.4" width="3.1" height="30.4" fill="#fff" stroke="#111" stroke-width="0.95"/>
<line x1="945.85" y1="307.8" x2="945.85" y2="328.1" stroke="#111" stroke-width="1"/>
<rect x="944.30" y="313.5" width="3.1" height="10.9" fill="#fff" stroke="#111" stroke-width="0.95"/>
<line x1="950.16" y1="297.9" x2="950.16" y2="323.7" stroke="#111" stroke-width="1"/>
<rect x="948.61" y="298.9" width="3.1" height="13.9" fill="#fff" stroke="#111" stroke-width="0.95"/>
<line x1="954.46" y1="298.3" x2="954.46" y2="311.5" stroke="#d6002a" stroke-width="1"/>
<line x1="952.36" y1="303.1" x2="956.56" y2="303.1" stroke="#d6002a" stroke-width="1.2"/>
<line x1="958.77" y1="300.8" x2="958.77" y2="311.1" stroke="#111" stroke-width="1"/>
<rect x="957.22" y="302.4" width="3.1" height="5.3" fill="#fff" stroke="#111" stroke-width="0.95"/>
<line x1="963.07" y1="297.9" x2="963.07" y2="309.2" stroke="#d6002a" stroke-width="1"/>
<line x1="960.97" y1="304.0" x2="965.17" y2="304.0" stroke="#d6002a" stroke-width="1.2"/>
<line x1="967.38" y1="295.5" x2="967.38" y2="315.6" stroke="#111" stroke-width="1"/>
<rect x="965.83" y="296.4" width="3.1" height="9.8" fill="#fff" stroke="#111" stroke-width="0.95"/>
<line x1="971.68" y1="294.6" x2="971.68" y2="307.7" stroke="#111" stroke-width="1"/>
<rect x="970.13" y="295.5" width="3.1" height="1.9" fill="#fff" stroke="#111" stroke-width="0.95"/>
<line x1="975.99" y1="288.9" x2="975.99" y2="298.3" stroke="#111" stroke-width="1"/>
<rect x="974.44" y="292.3" width="3.1" height="4.1" fill="#fff" stroke="#111" stroke-width="0.95"/>
<line x1="980.29" y1="273.0" x2="980.29" y2="294.6" stroke="#111" stroke-width="1"/>
<rect x="978.75" y="276.2" width="3.1" height="17.1" fill="#fff" stroke="#111" stroke-width="0.95"/>
<line x1="984.60" y1="259.2" x2="984.60" y2="287.0" stroke="#111" stroke-width="1"/>
<rect x="983.05" y="260.2" width="3.1" height="16.5" fill="#fff" stroke="#111" stroke-width="0.95"/>
<line x1="988.90" y1="250.4" x2="988.90" y2="262.6" stroke="#111" stroke-width="1"/>
<rect x="987.36" y="251.4" width="3.1" height="3.8" fill="#fff" stroke="#111" stroke-width="0.95"/>
<line x1="993.21" y1="247.6" x2="993.21" y2="260.8" stroke="#d6002a" stroke-width="1"/>
<line x1="991.11" y1="252.4" x2="995.31" y2="252.4" stroke="#d6002a" stroke-width="1.2"/>
<line x1="997.51" y1="228.5" x2="997.51" y2="251.9" stroke="#111" stroke-width="1"/>
<rect x="995.96" y="235.8" width="3.1" height="14.6" fill="#fff" stroke="#111" stroke-width="0.95"/>
<line x1="1001.82" y1="233.5" x2="1001.82" y2="244.8" stroke="#d6002a" stroke-width="1"/>
<rect x="999.82" y="238.6" width="4.0" height="3.0" fill="#d6002a"/>
<line x1="1006.12" y1="230.7" x2="1006.12" y2="247.6" stroke="#111" stroke-width="1"/>
<rect x="1004.57" y="231.6" width="3.1" height="10.3" fill="#fff" stroke="#111" stroke-width="0.95"/>
<line x1="1010.43" y1="229.2" x2="1010.43" y2="239.2" stroke="#d6002a" stroke-width="1"/>
<rect x="1008.43" y="231.6" width="4.0" height="4.1" fill="#d6002a"/>
<line x1="1014.73" y1="214.7" x2="1014.73" y2="240.1" stroke="#111" stroke-width="1"/>
<rect x="1013.18" y="219.4" width="3.1" height="16.3" fill="#fff" stroke="#111" stroke-width="0.95"/>
<line x1="1019.04" y1="208.7" x2="1019.04" y2="220.4" stroke="#111" stroke-width="1"/>
<rect x="1017.49" y="211.5" width="3.1" height="7.5" fill="#f4e842" stroke="#111" stroke-width="0.95"/>
</g>
<path d="M291.9,619.3 L300.4,616.5 L311.7,612.7 L322.9,609.0 L334.2,604.3 L345.5,599.6 L356.7,593.0 L368.0,586.4 L379.3,581.7 L390.5,576.1 L401.8,570.5 L404.0,569.0 L413.4,563.5 L422.8,559.8 L432.2,554.5 L441.6,548.9 L450.9,544.2 L460.3,539.5 L469.7,534.2 L479.1,529.2 L488.5,525.0 L497.9,520.7 L507.3,516.0 L516.7,511.3 L526.1,505.7 L535.5,501.5 L544.8,497.2 L554.2,492.9 L563.6,487.8 L573.0,482.8 L582.4,477.5 L590.3,472.6 L596.5,468.2 L602.8,464.7 L609.0,461.7 L615.3,458.8 L621.5,455.7 L627.8,452.0 L634.1,448.8 L640.3,445.1 L646.6,441.9 L652.8,438.6 L659.1,435.1 L665.4,431.9 L671.6,428.8 L677.9,426.0 L684.1,423.5 L690.4,420.4 L694.0,419.0 L703.4,414.8 L712.8,412.0 L722.2,407.9 L731.6,403.6 L740.9,400.4 L750.3,397.9 L759.7,395.5 L769.1,393.2 L778.5,391.4 L787.9,389.9 L797.3,387.6 L806.7,384.8 L816.1,382.0 L825.5,379.7 L834.8,376.9 L844.2,374.5 L853.6,372.2 L863.0,370.1 L868.0,370.2 L877.4,367.0 L886.8,365.1 L896.2,364.2 L905.6,361.9 L914.9,359.5 L924.3,357.2 L933.7,355.4 L943.1,353.5 L952.5,350.5 L961.9,348.2 L971.3,346.0 L980.7,343.9 L990.1,341.1 L999.5,337.9 L1008.8,334.5 L1019.2,330.8" fill="none" stroke="#d8405e" stroke-width="1.2" stroke-linejoin="round" stroke-linecap="round" />
<path d="M28.7,598.6 L37.1,597.7 L45.6,595.8 L54.0,593.4 L63.4,590.8 L74.7,587.7 L84.1,586.8 L93.5,586.8 L102.9,585.5 L112.3,584.2 L121.7,582.7 L131.0,581.7 L140.4,581.2 L149.8,581.2 L159.2,580.8 L168.6,578.9 L178.0,576.1 L187.4,572.0 L196.8,567.7 L204.3,563.0 L211.8,557.3 L223.4,550.8 L232.8,544.2 L242.2,538.5 L251.6,532.9 L257.2,530.5 L264.7,529.5 L272.2,530.1 L279.7,530.1 L289.1,527.8 L296.6,525.4 L304.1,521.1 L311.7,516.9 L319.2,513.2 L326.7,509.4 L334.2,504.7 L341.7,500.0 L349.2,494.4 L356.7,487.8 L364.2,480.3 L374.6,470.0 L383.0,462.7 L392.4,454.3 L403.7,445.8 L463.2,400.0 L469.7,393.7 L479.1,384.3 L488.5,373.9 L497.9,363.6 L507.3,354.2 L516.7,346.7 L524.2,341.1 L535.5,333.6 L544.8,327.0 L554.2,321.0 L563.6,313.8 L573.0,307.8 L580.5,303.5 L589.9,298.5 L597.4,292.3 L611.0,283.6 L620.4,278.5 L629.8,272.3 L639.2,265.8 L648.6,260.1 L658.0,255.4 L667.4,251.1 L676.8,247.6 L684.3,247.0 L691.8,245.5 L699.3,244.2 L703.4,243.2 L712.8,241.9 L722.2,241.0 L731.6,240.0 L740.9,240.4 L750.3,241.9 L759.7,244.3 L769.1,247.9 L778.5,252.2 L787.9,257.3 L797.3,260.7 L806.7,264.1 L816.1,267.8 L825.5,271.6 L834.8,276.1 L844.2,281.3 L853.6,288.8 L863.0,297.3 L875.5,306.0 L883.0,312.5 L890.5,319.1 L900.0,323.5 L906.7,327.4 L914.6,330.8 L924.7,334.2 L933.7,337.5 L942.7,340.6 L950.6,342.0 L962.9,342.0 L967.4,340.9 L971.9,339.4 L978.7,339.4 L983.1,337.9 L989.9,333.6 L1001.1,328.0 L1012.4,321.2 L1019.1,318.4" fill="none" stroke="#3a3aa6" stroke-width="1.25" stroke-linejoin="round" stroke-linecap="round" />
<line x1="28.4" y1="237.15" x2="1025.4" y2="237.15" stroke="#00f400" stroke-width="2.9" />
<line x1="28.4" y1="342.00" x2="1025.4" y2="342.00" stroke="#00f400" stroke-width="1.9" />
<line x1="28.4" y1="384.50" x2="1025.4" y2="384.50" stroke="#00f400" stroke-width="1.1" />
<line x1="28.4" y1="429.10" x2="1025.4" y2="429.10" stroke="#0000f4" stroke-width="2.5" />
<text x="291.6" y="231.3" font-size="14" fill="#0bf00b" text-anchor="start" font-weight="bold" textLength="154.0" lengthAdjust="spacingAndGlyphs" >Top of Range at 15,000</text>
<text x="562.9" y="335.8" font-size="14" fill="#0bf00b" text-anchor="start" font-weight="bold" textLength="166.0" lengthAdjust="spacingAndGlyphs" >Strong Bounce at 12,000</text>
<text x="515.3" y="379.1" font-size="14" fill="#0bf00b" text-anchor="start" font-weight="bold" textLength="157.3" lengthAdjust="spacingAndGlyphs" >Weak Bounce at 11,000</text>
<text x="494.0" y="422.5" font-size="14" fill="#0808f0" text-anchor="start" font-weight="bold" textLength="175.5" lengthAdjust="spacingAndGlyphs" >Primary Support at 10,000</text>
<text x="627.7" y="185.8" font-size="14" fill="#f01010" text-anchor="start" font-weight="bold" textLength="70.4" lengthAdjust="spacingAndGlyphs" >Overshoot</text>
<text x="1053.4" y="600.6" font-size="8.6" fill="#222" text-anchor="end" font-weight="normal" textLength="19.8" lengthAdjust="spacingAndGlyphs" >7000</text>
<text x="1053.4" y="567.9" font-size="8.6" fill="#222" text-anchor="end" font-weight="normal" textLength="19.8" lengthAdjust="spacingAndGlyphs" >7500</text>
<text x="1053.4" y="537.4" font-size="8.6" fill="#222" text-anchor="end" font-weight="normal" textLength="19.8" lengthAdjust="spacingAndGlyphs" >8000</text>
<text x="1053.4" y="508.7" font-size="8.6" fill="#222" text-anchor="end" font-weight="normal" textLength="19.8" lengthAdjust="spacingAndGlyphs" >8500</text>
<text x="1053.4" y="481.6" font-size="8.6" fill="#222" text-anchor="end" font-weight="normal" textLength="19.8" lengthAdjust="spacingAndGlyphs" >9000</text>
<text x="1053.4" y="456.0" font-size="8.6" fill="#222" text-anchor="end" font-weight="normal" textLength="19.8" lengthAdjust="spacingAndGlyphs" >9500</text>
<text x="1053.4" y="431.7" font-size="8.6" fill="#222" text-anchor="end" font-weight="normal" textLength="24.5" lengthAdjust="spacingAndGlyphs" >10000</text>
<text x="1053.4" y="408.6" font-size="8.6" fill="#222" text-anchor="end" font-weight="normal" textLength="24.5" lengthAdjust="spacingAndGlyphs" >10500</text>
<text x="1053.4" y="386.6" font-size="8.6" fill="#222" text-anchor="end" font-weight="normal" textLength="24.5" lengthAdjust="spacingAndGlyphs" >11000</text>
<text x="1053.4" y="365.5" font-size="8.6" fill="#222" text-anchor="end" font-weight="normal" textLength="24.5" lengthAdjust="spacingAndGlyphs" >11500</text>
<text x="1053.4" y="345.4" font-size="8.6" fill="#222" text-anchor="end" font-weight="normal" textLength="24.5" lengthAdjust="spacingAndGlyphs" >12000</text>
<text x="1053.4" y="326.0" font-size="8.6" fill="#222" text-anchor="end" font-weight="normal" textLength="24.5" lengthAdjust="spacingAndGlyphs" >12500</text>
<text x="1053.4" y="307.5" font-size="8.6" fill="#222" text-anchor="end" font-weight="normal" textLength="24.5" lengthAdjust="spacingAndGlyphs" >13000</text>
<text x="1053.4" y="289.6" font-size="8.6" fill="#222" text-anchor="end" font-weight="normal" textLength="24.5" lengthAdjust="spacingAndGlyphs" >13500</text>
<text x="1053.4" y="272.4" font-size="8.6" fill="#222" text-anchor="end" font-weight="normal" textLength="24.5" lengthAdjust="spacingAndGlyphs" >14000</text>
<text x="1053.4" y="255.8" font-size="8.6" fill="#222" text-anchor="end" font-weight="normal" textLength="24.5" lengthAdjust="spacingAndGlyphs" >14500</text>
<text x="1053.4" y="239.7" font-size="8.6" fill="#222" text-anchor="end" font-weight="normal" textLength="24.5" lengthAdjust="spacingAndGlyphs" >15000</text>
<text x="1053.4" y="224.2" font-size="8.6" fill="#222" text-anchor="end" font-weight="normal" textLength="24.5" lengthAdjust="spacingAndGlyphs" >15500</text>
<text x="1053.4" y="209.2" font-size="8.6" fill="#222" text-anchor="end" font-weight="normal" textLength="24.5" lengthAdjust="spacingAndGlyphs" >16000</text>
<text x="1053.4" y="194.6" font-size="8.6" fill="#222" text-anchor="end" font-weight="normal" textLength="24.5" lengthAdjust="spacingAndGlyphs" >16500</text>
<line x1="1025.4" y1="618.8" x2="1026.7" y2="618.8" stroke="#c8c8c8" stroke-width="0.8"/>
<line x1="1025.4" y1="611.8" x2="1026.7" y2="611.8" stroke="#c8c8c8" stroke-width="0.8"/>
<line x1="1025.4" y1="604.9" x2="1026.7" y2="604.9" stroke="#c8c8c8" stroke-width="0.8"/>
<line x1="1025.4" y1="598.1" x2="1027.3000000000002" y2="598.1" stroke="#c8c8c8" stroke-width="0.8"/>
<line x1="1025.4" y1="591.4" x2="1026.7" y2="591.4" stroke="#c8c8c8" stroke-width="0.8"/>
<line x1="1025.4" y1="584.7" x2="1026.7" y2="584.7" stroke="#c8c8c8" stroke-width="0.8"/>
<line x1="1025.4" y1="578.2" x2="1026.7" y2="578.2" stroke="#c8c8c8" stroke-width="0.8"/>
<line x1="1025.4" y1="571.8" x2="1026.7" y2="571.8" stroke="#c8c8c8" stroke-width="0.8"/>
<line x1="1025.4" y1="565.4" x2="1027.3000000000002" y2="565.4" stroke="#c8c8c8" stroke-width="0.8"/>
<line x1="1025.4" y1="559.1" x2="1026.7" y2="559.1" stroke="#c8c8c8" stroke-width="0.8"/>
<line x1="1025.4" y1="553.0" x2="1026.7" y2="553.0" stroke="#c8c8c8" stroke-width="0.8"/>
<line x1="1025.4" y1="546.8" x2="1026.7" y2="546.8" stroke="#c8c8c8" stroke-width="0.8"/>
<line x1="1025.4" y1="540.8" x2="1026.7" y2="540.8" stroke="#c8c8c8" stroke-width="0.8"/>
<line x1="1025.4" y1="534.9" x2="1027.3000000000002" y2="534.9" stroke="#c8c8c8" stroke-width="0.8"/>
<line x1="1025.4" y1="529.0" x2="1026.7" y2="529.0" stroke="#c8c8c8" stroke-width="0.8"/>
<line x1="1025.4" y1="523.2" x2="1026.7" y2="523.2" stroke="#c8c8c8" stroke-width="0.8"/>
<line x1="1025.4" y1="517.4" x2="1026.7" y2="517.4" stroke="#c8c8c8" stroke-width="0.8"/>
<line x1="1025.4" y1="511.8" x2="1026.7" y2="511.8" stroke="#c8c8c8" stroke-width="0.8"/>
<line x1="1025.4" y1="506.2" x2="1027.3000000000002" y2="506.2" stroke="#c8c8c8" stroke-width="0.8"/>
<line x1="1025.4" y1="500.6" x2="1026.7" y2="500.6" stroke="#c8c8c8" stroke-width="0.8"/>
<line x1="1025.4" y1="495.1" x2="1026.7" y2="495.1" stroke="#c8c8c8" stroke-width="0.8"/>
<line x1="1025.4" y1="489.7" x2="1026.7" y2="489.7" stroke="#c8c8c8" stroke-width="0.8"/>
<line x1="1025.4" y1="484.4" x2="1026.7" y2="484.4" stroke="#c8c8c8" stroke-width="0.8"/>
<line x1="1025.4" y1="479.1" x2="1027.3000000000002" y2="479.1" stroke="#c8c8c8" stroke-width="0.8"/>
<line x1="1025.4" y1="473.9" x2="1026.7" y2="473.9" stroke="#c8c8c8" stroke-width="0.8"/>
<line x1="1025.4" y1="468.7" x2="1026.7" y2="468.7" stroke="#c8c8c8" stroke-width="0.8"/>
<line x1="1025.4" y1="463.6" x2="1026.7" y2="463.6" stroke="#c8c8c8" stroke-width="0.8"/>
<line x1="1025.4" y1="458.5" x2="1026.7" y2="458.5" stroke="#c8c8c8" stroke-width="0.8"/>
<line x1="1025.4" y1="453.5" x2="1027.3000000000002" y2="453.5" stroke="#c8c8c8" stroke-width="0.8"/>
<line x1="1025.4" y1="448.5" x2="1026.7" y2="448.5" stroke="#c8c8c8" stroke-width="0.8"/>
<line x1="1025.4" y1="443.6" x2="1026.7" y2="443.6" stroke="#c8c8c8" stroke-width="0.8"/>
<line x1="1025.4" y1="438.8" x2="1026.7" y2="438.8" stroke="#c8c8c8" stroke-width="0.8"/>
<line x1="1025.4" y1="434.0" x2="1026.7" y2="434.0" stroke="#c8c8c8" stroke-width="0.8"/>
<line x1="1025.4" y1="429.2" x2="1027.3000000000002" y2="429.2" stroke="#c8c8c8" stroke-width="0.8"/>
<line x1="1025.4" y1="424.5" x2="1026.7" y2="424.5" stroke="#c8c8c8" stroke-width="0.8"/>
<line x1="1025.4" y1="419.8" x2="1026.7" y2="419.8" stroke="#c8c8c8" stroke-width="0.8"/>
<line x1="1025.4" y1="415.2" x2="1026.7" y2="415.2" stroke="#c8c8c8" stroke-width="0.8"/>
<line x1="1025.4" y1="410.6" x2="1026.7" y2="410.6" stroke="#c8c8c8" stroke-width="0.8"/>
<line x1="1025.4" y1="406.1" x2="1027.3000000000002" y2="406.1" stroke="#c8c8c8" stroke-width="0.8"/>
<line x1="1025.4" y1="401.6" x2="1026.7" y2="401.6" stroke="#c8c8c8" stroke-width="0.8"/>
<line x1="1025.4" y1="397.2" x2="1026.7" y2="397.2" stroke="#c8c8c8" stroke-width="0.8"/>
<line x1="1025.4" y1="392.8" x2="1026.7" y2="392.8" stroke="#c8c8c8" stroke-width="0.8"/>
<line x1="1025.4" y1="388.4" x2="1026.7" y2="388.4" stroke="#c8c8c8" stroke-width="0.8"/>
<line x1="1025.4" y1="384.1" x2="1027.3000000000002" y2="384.1" stroke="#c8c8c8" stroke-width="0.8"/>
<line x1="1025.4" y1="379.8" x2="1026.7" y2="379.8" stroke="#c8c8c8" stroke-width="0.8"/>
<line x1="1025.4" y1="375.5" x2="1026.7" y2="375.5" stroke="#c8c8c8" stroke-width="0.8"/>
<line x1="1025.4" y1="371.3" x2="1026.7" y2="371.3" stroke="#c8c8c8" stroke-width="0.8"/>
<line x1="1025.4" y1="367.2" x2="1026.7" y2="367.2" stroke="#c8c8c8" stroke-width="0.8"/>
<line x1="1025.4" y1="363.0" x2="1027.3000000000002" y2="363.0" stroke="#c8c8c8" stroke-width="0.8"/>
<line x1="1025.4" y1="358.9" x2="1026.7" y2="358.9" stroke="#c8c8c8" stroke-width="0.8"/>
<line x1="1025.4" y1="354.9" x2="1026.7" y2="354.9" stroke="#c8c8c8" stroke-width="0.8"/>
<line x1="1025.4" y1="350.8" x2="1026.7" y2="350.8" stroke="#c8c8c8" stroke-width="0.8"/>
<line x1="1025.4" y1="346.8" x2="1026.7" y2="346.8" stroke="#c8c8c8" stroke-width="0.8"/>
<line x1="1025.4" y1="342.9" x2="1027.3000000000002" y2="342.9" stroke="#c8c8c8" stroke-width="0.8"/>
<line x1="1025.4" y1="338.9" x2="1026.7" y2="338.9" stroke="#c8c8c8" stroke-width="0.8"/>
<line x1="1025.4" y1="335.0" x2="1026.7" y2="335.0" stroke="#c8c8c8" stroke-width="0.8"/>
<line x1="1025.4" y1="331.2" x2="1026.7" y2="331.2" stroke="#c8c8c8" stroke-width="0.8"/>
<line x1="1025.4" y1="327.3" x2="1026.7" y2="327.3" stroke="#c8c8c8" stroke-width="0.8"/>
<line x1="1025.4" y1="323.5" x2="1027.3000000000002" y2="323.5" stroke="#c8c8c8" stroke-width="0.8"/>
<line x1="1025.4" y1="319.8" x2="1026.7" y2="319.8" stroke="#c8c8c8" stroke-width="0.8"/>
<line x1="1025.4" y1="316.0" x2="1026.7" y2="316.0" stroke="#c8c8c8" stroke-width="0.8"/>
<line x1="1025.4" y1="312.3" x2="1026.7" y2="312.3" stroke="#c8c8c8" stroke-width="0.8"/>
<line x1="1025.4" y1="308.6" x2="1026.7" y2="308.6" stroke="#c8c8c8" stroke-width="0.8"/>
<line x1="1025.4" y1="305.0" x2="1027.3000000000002" y2="305.0" stroke="#c8c8c8" stroke-width="0.8"/>
<line x1="1025.4" y1="301.3" x2="1026.7" y2="301.3" stroke="#c8c8c8" stroke-width="0.8"/>
<line x1="1025.4" y1="297.7" x2="1026.7" y2="297.7" stroke="#c8c8c8" stroke-width="0.8"/>
<line x1="1025.4" y1="294.2" x2="1026.7" y2="294.2" stroke="#c8c8c8" stroke-width="0.8"/>
<line x1="1025.4" y1="290.6" x2="1026.7" y2="290.6" stroke="#c8c8c8" stroke-width="0.8"/>
<line x1="1025.4" y1="287.1" x2="1027.3000000000002" y2="287.1" stroke="#c8c8c8" stroke-width="0.8"/>
<line x1="1025.4" y1="283.6" x2="1026.7" y2="283.6" stroke="#c8c8c8" stroke-width="0.8"/>
<line x1="1025.4" y1="280.1" x2="1026.7" y2="280.1" stroke="#c8c8c8" stroke-width="0.8"/>
<line x1="1025.4" y1="276.7" x2="1026.7" y2="276.7" stroke="#c8c8c8" stroke-width="0.8"/>
<line x1="1025.4" y1="273.3" x2="1026.7" y2="273.3" stroke="#c8c8c8" stroke-width="0.8"/>
<line x1="1025.4" y1="269.9" x2="1027.3000000000002" y2="269.9" stroke="#c8c8c8" stroke-width="0.8"/>
<line x1="1025.4" y1="266.5" x2="1026.7" y2="266.5" stroke="#c8c8c8" stroke-width="0.8"/>
<line x1="1025.4" y1="263.2" x2="1026.7" y2="263.2" stroke="#c8c8c8" stroke-width="0.8"/>
<line x1="1025.4" y1="259.8" x2="1026.7" y2="259.8" stroke="#c8c8c8" stroke-width="0.8"/>
<line x1="1025.4" y1="256.5" x2="1026.7" y2="256.5" stroke="#c8c8c8" stroke-width="0.8"/>
<line x1="1025.4" y1="253.3" x2="1027.3000000000002" y2="253.3" stroke="#c8c8c8" stroke-width="0.8"/>
<line x1="1025.4" y1="250.0" x2="1026.7" y2="250.0" stroke="#c8c8c8" stroke-width="0.8"/>
<line x1="1025.4" y1="246.8" x2="1026.7" y2="246.8" stroke="#c8c8c8" stroke-width="0.8"/>
<line x1="1025.4" y1="243.6" x2="1026.7" y2="243.6" stroke="#c8c8c8" stroke-width="0.8"/>
<line x1="1025.4" y1="240.4" x2="1026.7" y2="240.4" stroke="#c8c8c8" stroke-width="0.8"/>
<line x1="1025.4" y1="237.2" x2="1027.3000000000002" y2="237.2" stroke="#c8c8c8" stroke-width="0.8"/>
<line x1="1025.4" y1="234.1" x2="1026.7" y2="234.1" stroke="#c8c8c8" stroke-width="0.8"/>
<line x1="1025.4" y1="230.9" x2="1026.7" y2="230.9" stroke="#c8c8c8" stroke-width="0.8"/>
<line x1="1025.4" y1="227.8" x2="1026.7" y2="227.8" stroke="#c8c8c8" stroke-width="0.8"/>
<line x1="1025.4" y1="224.8" x2="1026.7" y2="224.8" stroke="#c8c8c8" stroke-width="0.8"/>
<line x1="1025.4" y1="221.7" x2="1027.3000000000002" y2="221.7" stroke="#c8c8c8" stroke-width="0.8"/>
<line x1="1025.4" y1="218.6" x2="1026.7" y2="218.6" stroke="#c8c8c8" stroke-width="0.8"/>
<line x1="1025.4" y1="215.6" x2="1026.7" y2="215.6" stroke="#c8c8c8" stroke-width="0.8"/>
<line x1="1025.4" y1="212.6" x2="1026.7" y2="212.6" stroke="#c8c8c8" stroke-width="0.8"/>
<line x1="1025.4" y1="209.6" x2="1026.7" y2="209.6" stroke="#c8c8c8" stroke-width="0.8"/>
<line x1="1025.4" y1="206.7" x2="1027.3000000000002" y2="206.7" stroke="#c8c8c8" stroke-width="0.8"/>
<line x1="1025.4" y1="203.7" x2="1026.7" y2="203.7" stroke="#c8c8c8" stroke-width="0.8"/>
<line x1="1025.4" y1="200.8" x2="1026.7" y2="200.8" stroke="#c8c8c8" stroke-width="0.8"/>
<line x1="1025.4" y1="197.9" x2="1026.7" y2="197.9" stroke="#c8c8c8" stroke-width="0.8"/>
<line x1="1025.4" y1="195.0" x2="1026.7" y2="195.0" stroke="#c8c8c8" stroke-width="0.8"/>
<line x1="1025.4" y1="192.1" x2="1027.3000000000002" y2="192.1" stroke="#c8c8c8" stroke-width="0.8"/>
<line x1="1025.4" y1="189.2" x2="1026.7" y2="189.2" stroke="#c8c8c8" stroke-width="0.8"/>
<line x1="1025.4" y1="186.4" x2="1026.7" y2="186.4" stroke="#c8c8c8" stroke-width="0.8"/>
<line x1="1025.4" y1="183.6" x2="1026.7" y2="183.6" stroke="#c8c8c8" stroke-width="0.8"/>
<line x1="1025.4" y1="180.7" x2="1026.7" y2="180.7" stroke="#c8c8c8" stroke-width="0.8"/>
<line x1="1025.4" y1="177.9" x2="1027.3000000000002" y2="177.9" stroke="#c8c8c8" stroke-width="0.8"/>
<path d="M1023.5,211.0 L1026.7,206.5 L1067.7,206.5 L1067.7,215.5 L1026.7,215.5 Z" fill="#fff" stroke="#111" stroke-width="1.3"/>
<text x="1027.4" y="213.8" font-size="8.4" fill="#111" text-anchor="start" font-weight="bold" textLength="38.8" lengthAdjust="spacingAndGlyphs" >15858.22</text>
<path d="M1023.5,318.0 L1026.7,313.7 L1066.2,313.7 L1066.2,322.3 L1026.7,322.3 Z" fill="#fff" stroke="#3a3aa0" stroke-width="1.4"/>
<text x="1027.4" y="320.8" font-size="8.4" fill="#111" text-anchor="start" font-weight="normal" textLength="37.3" lengthAdjust="spacingAndGlyphs" >12632.19</text>
<path d="M1023.5,330.1 L1026.7,325.7 L1066.2,325.7 L1066.2,334.5 L1026.7,334.5 Z" fill="#fff" stroke="#d6304f" stroke-width="1.4"/>
<text x="1027.4" y="332.9" font-size="8.4" fill="#111" text-anchor="start" font-weight="normal" textLength="37.3" lengthAdjust="spacingAndGlyphs" >12305.70</text>
<path d="M1023.5,584.1 L1026.7,579.9 L1069.2,579.9 L1069.2,588.3 L1026.7,588.3 Z" fill="#fff" stroke="#222" stroke-width="1.1"/>
<text x="1027.4" y="586.9" font-size="8.4" fill="#111" text-anchor="start" font-weight="normal" textLength="40.3" lengthAdjust="spacingAndGlyphs" >18221048</text>
<text x="25.6" y="603.1" font-size="9" fill="#222" text-anchor="end" font-weight="normal" >1B</text>
<line x1="26.6" y1="599.9" x2="28.4" y2="599.9" stroke="#999" stroke-width="0.8"/>
<text x="25.6" y="584.3" font-size="9" fill="#222" text-anchor="end" font-weight="normal" >2B</text>
<line x1="26.6" y1="581.1" x2="28.4" y2="581.1" stroke="#999" stroke-width="0.8"/>
<text x="25.6" y="565.5" font-size="9" fill="#222" text-anchor="end" font-weight="normal" >3B</text>
<line x1="26.6" y1="562.2" x2="28.4" y2="562.2" stroke="#999" stroke-width="0.8"/>
<text x="25.6" y="546.6" font-size="9" fill="#222" text-anchor="end" font-weight="normal" >4B</text>
<line x1="26.6" y1="543.4" x2="28.4" y2="543.4" stroke="#999" stroke-width="0.8"/>
<text x="25.6" y="527.8" font-size="9" fill="#222" text-anchor="end" font-weight="normal" >5B</text>
<line x1="26.6" y1="524.5" x2="28.4" y2="524.5" stroke="#999" stroke-width="0.8"/>
<text x="25.6" y="508.9" font-size="9" fill="#222" text-anchor="end" font-weight="normal" >6B</text>
<line x1="26.6" y1="505.7" x2="28.4" y2="505.7" stroke="#999" stroke-width="0.8"/>
<text x="25.6" y="490.0" font-size="9" fill="#222" text-anchor="end" font-weight="normal" >7B</text>
<line x1="26.6" y1="486.8" x2="28.4" y2="486.8" stroke="#999" stroke-width="0.8"/>
<path d="M31.4,181 v6.6 M35.6,181.4 v7" fill="none" stroke="#111" stroke-width="0.9"/><rect x="30.2" y="182.2" width="2.5" height="3.8" fill="#111"/><rect x="34.2" y="182.9" width="2.8" height="4" fill="#fff" stroke="#111" stroke-width="0.9"/>
<text x="40.9" y="187.8" font-size="9.3" fill="#2a2a2a" text-anchor="start" font-weight="normal" textLength="120.6" lengthAdjust="spacing" >$NDX (Weekly) 15858.22</text>
<line x1="30.2" y1="194" x2="37.4" y2="194" stroke="#2a2aa0" stroke-width="1.6"/>
<text x="38.9" y="197.1" font-size="8.5" fill="#2a2aa0" text-anchor="start" font-weight="normal" textLength="64.0" lengthAdjust="spacingAndGlyphs" >MA(50) 12632.19</text>
<line x1="30.2" y1="203.6" x2="37.4" y2="203.6" stroke="#d6103a" stroke-width="1.6"/>
<text x="38.9" y="206.8" font-size="8.5" fill="#d6103a" text-anchor="start" font-weight="normal" textLength="68.1" lengthAdjust="spacingAndGlyphs" >MA(200) 12305.70</text>
<path d="M30.4,216 v-3.6 h1.5 v3.6 M32.3,216 v-6 h1.5 v6 M34.2,216 v-4.6 h1.5 v4.6 M36.1,216 v-3 h1.3 v3 z" fill="#666" stroke="none"/>
<text x="39.4" y="215.9" font-size="8.5" fill="#555" text-anchor="start" font-weight="normal" textLength="81.4" lengthAdjust="spacingAndGlyphs" >Volume 1,822,104,832</text>
<text x="38.3" y="628.7" font-size="8.6" fill="#262626" text-anchor="middle" font-weight="normal" >M</text>
<text x="55.5" y="628.7" font-size="8.6" fill="#262626" text-anchor="middle" font-weight="normal" >A</text>
<text x="77.0" y="628.7" font-size="8.6" fill="#262626" text-anchor="middle" font-weight="normal" >M</text>
<text x="94.3" y="628.7" font-size="8.6" fill="#262626" text-anchor="middle" font-weight="normal" >J</text>
<text x="111.5" y="628.7" font-size="8.6" fill="#262626" text-anchor="middle" font-weight="normal" >J</text>
<text x="133.0" y="628.7" font-size="8.6" fill="#262626" text-anchor="middle" font-weight="normal" >A</text>
<text x="150.2" y="628.7" font-size="8.6" fill="#262626" text-anchor="middle" font-weight="normal" >S</text>
<text x="171.8" y="628.7" font-size="8.6" fill="#262626" text-anchor="middle" font-weight="normal" >O</text>
<text x="189.0" y="628.7" font-size="8.6" fill="#262626" text-anchor="middle" font-weight="normal" >N</text>
<text x="206.2" y="628.7" font-size="8.6" fill="#262626" text-anchor="middle" font-weight="normal" >D</text>
<text x="227.6" y="628.7" font-size="9.3" fill="#111" text-anchor="middle" font-weight="bold" >20</text>
<text x="244.9" y="628.7" font-size="8.6" fill="#262626" text-anchor="middle" font-weight="normal" >F</text>
<text x="262.2" y="628.7" font-size="8.6" fill="#262626" text-anchor="middle" font-weight="normal" >M</text>
<text x="283.7" y="628.7" font-size="8.6" fill="#262626" text-anchor="middle" font-weight="normal" >A</text>
<text x="300.9" y="628.7" font-size="8.6" fill="#262626" text-anchor="middle" font-weight="normal" >M</text>
<text x="318.1" y="628.7" font-size="8.6" fill="#262626" text-anchor="middle" font-weight="normal" >J</text>
<text x="339.7" y="628.7" font-size="8.6" fill="#262626" text-anchor="middle" font-weight="normal" >J</text>
<text x="356.9" y="628.7" font-size="8.6" fill="#262626" text-anchor="middle" font-weight="normal" >A</text>
<text x="378.4" y="628.7" font-size="8.6" fill="#262626" text-anchor="middle" font-weight="normal" >S</text>
<text x="395.6" y="628.7" font-size="8.6" fill="#262626" text-anchor="middle" font-weight="normal" >O</text>
<text x="412.8" y="628.7" font-size="8.6" fill="#262626" text-anchor="middle" font-weight="normal" >N</text>
<text x="434.4" y="628.7" font-size="8.6" fill="#262626" text-anchor="middle" font-weight="normal" >D</text>
<text x="451.5" y="628.7" font-size="9.3" fill="#111" text-anchor="middle" font-weight="bold" >21</text>
<text x="468.8" y="628.7" font-size="8.6" fill="#262626" text-anchor="middle" font-weight="normal" >F</text>
<text x="486.0" y="628.7" font-size="8.6" fill="#262626" text-anchor="middle" font-weight="normal" >M</text>
<text x="507.5" y="628.7" font-size="8.6" fill="#262626" text-anchor="middle" font-weight="normal" >A</text>
<text x="524.8" y="628.7" font-size="8.6" fill="#262626" text-anchor="middle" font-weight="normal" >M</text>
<text x="546.3" y="628.7" font-size="8.6" fill="#262626" text-anchor="middle" font-weight="normal" >J</text>
<text x="563.5" y="628.7" font-size="8.6" fill="#262626" text-anchor="middle" font-weight="normal" >J</text>
<text x="580.7" y="628.7" font-size="8.6" fill="#262626" text-anchor="middle" font-weight="normal" >A</text>
<text x="602.3" y="628.7" font-size="8.6" fill="#262626" text-anchor="middle" font-weight="normal" >S</text>
<text x="619.5" y="628.7" font-size="8.6" fill="#262626" text-anchor="middle" font-weight="normal" >O</text>
<text x="636.7" y="628.7" font-size="8.6" fill="#262626" text-anchor="middle" font-weight="normal" >N</text>
<text x="658.2" y="628.7" font-size="8.6" fill="#262626" text-anchor="middle" font-weight="normal" >D</text>
<text x="675.3" y="628.7" font-size="9.3" fill="#111" text-anchor="middle" font-weight="bold" >22</text>
<text x="697.0" y="628.7" font-size="8.6" fill="#262626" text-anchor="middle" font-weight="normal" >F</text>
<text x="714.2" y="628.7" font-size="8.6" fill="#262626" text-anchor="middle" font-weight="normal" >M</text>
<text x="731.4" y="628.7" font-size="8.6" fill="#262626" text-anchor="middle" font-weight="normal" >A</text>
<text x="748.6" y="628.7" font-size="8.6" fill="#262626" text-anchor="middle" font-weight="normal" >M</text>
<text x="770.1" y="628.7" font-size="8.6" fill="#262626" text-anchor="middle" font-weight="normal" >J</text>
<text x="787.4" y="628.7" font-size="8.6" fill="#262626" text-anchor="middle" font-weight="normal" >J</text>
<text x="804.6" y="628.7" font-size="8.6" fill="#262626" text-anchor="middle" font-weight="normal" >A</text>
<text x="826.1" y="628.7" font-size="8.6" fill="#262626" text-anchor="middle" font-weight="normal" >S</text>
<text x="843.3" y="628.7" font-size="8.6" fill="#262626" text-anchor="middle" font-weight="normal" >O</text>
<text x="864.9" y="628.7" font-size="8.6" fill="#262626" text-anchor="middle" font-weight="normal" >N</text>
<text x="882.1" y="628.7" font-size="8.6" fill="#262626" text-anchor="middle" font-weight="normal" >D</text>
<text x="899.2" y="628.7" font-size="9.3" fill="#111" text-anchor="middle" font-weight="bold" >23</text>
<text x="920.8" y="628.7" font-size="8.6" fill="#262626" text-anchor="middle" font-weight="normal" >F</text>
<text x="938.0" y="628.7" font-size="8.6" fill="#262626" text-anchor="middle" font-weight="normal" >M</text>
<text x="955.3" y="628.7" font-size="8.6" fill="#262626" text-anchor="middle" font-weight="normal" >A</text>
<text x="972.5" y="628.7" font-size="8.6" fill="#262626" text-anchor="middle" font-weight="normal" >M</text>
<text x="994.0" y="628.7" font-size="8.6" fill="#262626" text-anchor="middle" font-weight="normal" >J</text>
<text x="1011.2" y="628.7" font-size="8.6" fill="#262626" text-anchor="middle" font-weight="normal" >J</text>
<line x1="29.19" y1="620.1999999999999" x2="1025.4" y2="620.1999999999999" stroke="#c4c4c4" stroke-width="1" stroke-dasharray="0.9,3.405"/>
<line x1="37.5" y1="631.3" x2="37.5" y2="785.2" stroke="rgba(0,0,0,0.11)" stroke-width="1"/>
<line x1="54.5" y1="631.3" x2="54.5" y2="785.2" stroke="rgba(0,0,0,0.11)" stroke-width="1"/>
<line x1="76.5" y1="631.3" x2="76.5" y2="785.2" stroke="rgba(0,0,0,0.11)" stroke-width="1"/>
<line x1="93.5" y1="631.3" x2="93.5" y2="785.2" stroke="rgba(0,0,0,0.11)" stroke-width="1"/>
<line x1="110.5" y1="631.3" x2="110.5" y2="785.2" stroke="rgba(0,0,0,0.11)" stroke-width="1"/>
<line x1="132.5" y1="631.3" x2="132.5" y2="785.2" stroke="rgba(0,0,0,0.11)" stroke-width="1"/>
<line x1="149.5" y1="631.3" x2="149.5" y2="785.2" stroke="rgba(0,0,0,0.11)" stroke-width="1"/>
<line x1="170.5" y1="631.3" x2="170.5" y2="785.2" stroke="rgba(0,0,0,0.11)" stroke-width="1"/>
<line x1="188.5" y1="631.3" x2="188.5" y2="785.2" stroke="rgba(0,0,0,0.11)" stroke-width="1"/>
<line x1="205.5" y1="631.3" x2="205.5" y2="785.2" stroke="rgba(0,0,0,0.11)" stroke-width="1"/>
<line x1="226.5" y1="631.3" x2="226.5" y2="785.2" stroke="rgba(0,0,0,0.16)" stroke-width="1"/>
<line x1="244.5" y1="631.3" x2="244.5" y2="785.2" stroke="rgba(0,0,0,0.11)" stroke-width="1"/>
<line x1="261.5" y1="631.3" x2="261.5" y2="785.2" stroke="rgba(0,0,0,0.11)" stroke-width="1"/>
<line x1="282.5" y1="631.3" x2="282.5" y2="785.2" stroke="rgba(0,0,0,0.11)" stroke-width="1"/>
<line x1="300.5" y1="631.3" x2="300.5" y2="785.2" stroke="rgba(0,0,0,0.11)" stroke-width="1"/>
<line x1="317.5" y1="631.3" x2="317.5" y2="785.2" stroke="rgba(0,0,0,0.11)" stroke-width="1"/>
<line x1="338.5" y1="631.3" x2="338.5" y2="785.2" stroke="rgba(0,0,0,0.11)" stroke-width="1"/>
<line x1="356.5" y1="631.3" x2="356.5" y2="785.2" stroke="rgba(0,0,0,0.11)" stroke-width="1"/>
<line x1="377.5" y1="631.3" x2="377.5" y2="785.2" stroke="rgba(0,0,0,0.11)" stroke-width="1"/>
<line x1="394.5" y1="631.3" x2="394.5" y2="785.2" stroke="rgba(0,0,0,0.11)" stroke-width="1"/>
<line x1="412.5" y1="631.3" x2="412.5" y2="785.2" stroke="rgba(0,0,0,0.11)" stroke-width="1"/>
<line x1="433.5" y1="631.3" x2="433.5" y2="785.2" stroke="rgba(0,0,0,0.11)" stroke-width="1"/>
<line x1="450.5" y1="631.3" x2="450.5" y2="785.2" stroke="rgba(0,0,0,0.16)" stroke-width="1"/>
<line x1="468.5" y1="631.3" x2="468.5" y2="785.2" stroke="rgba(0,0,0,0.11)" stroke-width="1"/>
<line x1="485.5" y1="631.3" x2="485.5" y2="785.2" stroke="rgba(0,0,0,0.11)" stroke-width="1"/>
<line x1="506.5" y1="631.3" x2="506.5" y2="785.2" stroke="rgba(0,0,0,0.11)" stroke-width="1"/>
<line x1="523.5" y1="631.3" x2="523.5" y2="785.2" stroke="rgba(0,0,0,0.11)" stroke-width="1"/>
<line x1="545.5" y1="631.3" x2="545.5" y2="785.2" stroke="rgba(0,0,0,0.11)" stroke-width="1"/>
<line x1="562.5" y1="631.3" x2="562.5" y2="785.2" stroke="rgba(0,0,0,0.11)" stroke-width="1"/>
<line x1="579.5" y1="631.3" x2="579.5" y2="785.2" stroke="rgba(0,0,0,0.11)" stroke-width="1"/>
<line x1="601.5" y1="631.3" x2="601.5" y2="785.2" stroke="rgba(0,0,0,0.11)" stroke-width="1"/>
<line x1="618.5" y1="631.3" x2="618.5" y2="785.2" stroke="rgba(0,0,0,0.11)" stroke-width="1"/>
<line x1="635.5" y1="631.3" x2="635.5" y2="785.2" stroke="rgba(0,0,0,0.11)" stroke-width="1"/>
<line x1="657.5" y1="631.3" x2="657.5" y2="785.2" stroke="rgba(0,0,0,0.11)" stroke-width="1"/>
<line x1="674.5" y1="631.3" x2="674.5" y2="785.2" stroke="rgba(0,0,0,0.16)" stroke-width="1"/>
<line x1="696.5" y1="631.3" x2="696.5" y2="785.2" stroke="rgba(0,0,0,0.11)" stroke-width="1"/>
<line x1="713.5" y1="631.3" x2="713.5" y2="785.2" stroke="rgba(0,0,0,0.11)" stroke-width="1"/>
<line x1="730.5" y1="631.3" x2="730.5" y2="785.2" stroke="rgba(0,0,0,0.11)" stroke-width="1"/>
<line x1="747.5" y1="631.3" x2="747.5" y2="785.2" stroke="rgba(0,0,0,0.11)" stroke-width="1"/>
<line x1="769.5" y1="631.3" x2="769.5" y2="785.2" stroke="rgba(0,0,0,0.11)" stroke-width="1"/>
<line x1="786.5" y1="631.3" x2="786.5" y2="785.2" stroke="rgba(0,0,0,0.11)" stroke-width="1"/>
<line x1="803.5" y1="631.3" x2="803.5" y2="785.2" stroke="rgba(0,0,0,0.11)" stroke-width="1"/>
<line x1="825.5" y1="631.3" x2="825.5" y2="785.2" stroke="rgba(0,0,0,0.11)" stroke-width="1"/>
<line x1="842.5" y1="631.3" x2="842.5" y2="785.2" stroke="rgba(0,0,0,0.11)" stroke-width="1"/>
<line x1="864.5" y1="631.3" x2="864.5" y2="785.2" stroke="rgba(0,0,0,0.11)" stroke-width="1"/>
<line x1="881.5" y1="631.3" x2="881.5" y2="785.2" stroke="rgba(0,0,0,0.11)" stroke-width="1"/>
<line x1="898.5" y1="631.3" x2="898.5" y2="785.2" stroke="rgba(0,0,0,0.16)" stroke-width="1"/>
<line x1="920.5" y1="631.3" x2="920.5" y2="785.2" stroke="rgba(0,0,0,0.11)" stroke-width="1"/>
<line x1="937.5" y1="631.3" x2="937.5" y2="785.2" stroke="rgba(0,0,0,0.11)" stroke-width="1"/>
<line x1="954.5" y1="631.3" x2="954.5" y2="785.2" stroke="rgba(0,0,0,0.11)" stroke-width="1"/>
<line x1="971.5" y1="631.3" x2="971.5" y2="785.2" stroke="rgba(0,0,0,0.11)" stroke-width="1"/>
<line x1="993.5" y1="631.3" x2="993.5" y2="785.2" stroke="rgba(0,0,0,0.11)" stroke-width="1"/>
<line x1="1010.5" y1="631.3" x2="1010.5" y2="785.2" stroke="rgba(0,0,0,0.11)" stroke-width="1"/>
<line x1="28.4" y1="778.50" x2="1025.4" y2="778.50" stroke="rgba(0,0,0,0.11)" stroke-width="1" />
<line x1="28.4" y1="761.50" x2="1025.4" y2="761.50" stroke="rgba(0,0,0,0.11)" stroke-width="1" />
<line x1="28.4" y1="744.50" x2="1025.4" y2="744.50" stroke="rgba(0,0,0,0.11)" stroke-width="1" />
<line x1="28.4" y1="727.50" x2="1025.4" y2="727.50" stroke="rgba(0,0,0,0.11)" stroke-width="1" />
<line x1="28.4" y1="710.50" x2="1025.4" y2="710.50" stroke="rgba(0,0,0,0.11)" stroke-width="1" />
<line x1="28.4" y1="693.50" x2="1025.4" y2="693.50" stroke="rgba(0,0,0,0.11)" stroke-width="1" />
<line x1="28.4" y1="677.50" x2="1025.4" y2="677.50" stroke="rgba(0,0,0,0.11)" stroke-width="1" />
<line x1="28.4" y1="660.50" x2="1025.4" y2="660.50" stroke="rgba(0,0,0,0.11)" stroke-width="1" />
<line x1="28.4" y1="643.50" x2="1025.4" y2="643.50" stroke="rgba(0,0,0,0.11)" stroke-width="1" />
<g clip-path="url(#cpm)">
<rect x="27.54" y="705.4" width="4.30" height="5.1" fill="#56a4cd" stroke="#2a7098" stroke-width="0.85"/>
<rect x="31.84" y="704.8" width="4.30" height="5.6" fill="#56a4cd" stroke="#2a7098" stroke-width="0.85"/>
<rect x="36.15" y="704.2" width="4.30" height="6.2" fill="#56a4cd" stroke="#2a7098" stroke-width="0.85"/>
<rect x="40.45" y="703.9" width="4.30" height="6.6" fill="#56a4cd" stroke="#2a7098" stroke-width="0.85"/>
<rect x="44.76" y="703.3" width="4.30" height="7.1" fill="#56a4cd" stroke="#2a7098" stroke-width="0.85"/>
<rect x="49.06" y="703.1" width="4.30" height="7.3" fill="#56a4cd" stroke="#2a7098" stroke-width="0.85"/>
<rect x="53.37" y="702.9" width="4.30" height="7.5" fill="#56a4cd" stroke="#2a7098" stroke-width="0.85"/>
<rect x="57.67" y="702.7" width="4.30" height="7.7" fill="#56a4cd" stroke="#2a7098" stroke-width="0.85"/>
<rect x="61.98" y="702.7" width="4.30" height="7.7" fill="#56a4cd" stroke="#2a7098" stroke-width="0.85"/>
<rect x="66.28" y="702.7" width="4.30" height="7.7" fill="#56a4cd" stroke="#2a7098" stroke-width="0.85"/>
<rect x="70.59" y="702.7" width="4.30" height="7.7" fill="#56a4cd" stroke="#2a7098" stroke-width="0.85"/>
<rect x="74.89" y="703.3" width="4.30" height="7.1" fill="#56a4cd" stroke="#2a7098" stroke-width="0.85"/>
<rect x="79.20" y="705.7" width="4.30" height="4.7" fill="#56a4cd" stroke="#2a7098" stroke-width="0.85"/>
<rect x="83.50" y="708.9" width="4.30" height="1.5" fill="#56a4cd" stroke="#2a7098" stroke-width="0.85"/>
<rect x="87.81" y="710.4" width="4.30" height="1.1" fill="#56a4cd" stroke="#2a7098" stroke-width="0.85"/>
<rect x="92.11" y="710.4" width="4.30" height="2.3" fill="#56a4cd" stroke="#2a7098" stroke-width="0.85"/>
<rect x="96.42" y="710.4" width="4.30" height="2.3" fill="#56a4cd" stroke="#2a7098" stroke-width="0.85"/>
<rect x="100.72" y="710.4" width="4.30" height="0.6" fill="#56a4cd" stroke="#2a7098" stroke-width="0.85"/>
<rect x="105.03" y="710.1" width="4.30" height="0.4" fill="#56a4cd" stroke="#2a7098" stroke-width="0.85"/>
<rect x="109.33" y="709.1" width="4.30" height="1.3" fill="#56a4cd" stroke="#2a7098" stroke-width="0.85"/>
<rect x="113.64" y="708.6" width="4.30" height="1.9" fill="#56a4cd" stroke="#2a7098" stroke-width="0.85"/>
<rect x="117.94" y="708.2" width="4.30" height="2.3" fill="#56a4cd" stroke="#2a7098" stroke-width="0.85"/>
<rect x="122.25" y="707.8" width="4.30" height="2.6" fill="#56a4cd" stroke="#2a7098" stroke-width="0.85"/>
<rect x="126.55" y="708.9" width="4.30" height="1.5" fill="#56a4cd" stroke="#2a7098" stroke-width="0.85"/>
<rect x="130.86" y="710.4" width="4.30" height="0.6" fill="#56a4cd" stroke="#2a7098" stroke-width="0.85"/>
<rect x="135.16" y="710.4" width="4.30" height="2.3" fill="#56a4cd" stroke="#2a7098" stroke-width="0.85"/>
<rect x="139.47" y="710.4" width="4.30" height="3.2" fill="#56a4cd" stroke="#2a7098" stroke-width="0.85"/>
<rect x="143.77" y="710.4" width="4.30" height="3.2" fill="#56a4cd" stroke="#2a7098" stroke-width="0.85"/>
<rect x="148.08" y="710.4" width="4.30" height="2.1" fill="#56a4cd" stroke="#2a7098" stroke-width="0.85"/>
<rect x="152.38" y="710.4" width="4.30" height="1.1" fill="#56a4cd" stroke="#2a7098" stroke-width="0.85"/>
<rect x="156.69" y="710.4" width="4.30" height="0.9" fill="#56a4cd" stroke="#2a7098" stroke-width="0.85"/>
<rect x="160.99" y="710.4" width="4.30" height="2.1" fill="#56a4cd" stroke="#2a7098" stroke-width="0.85"/>
<rect x="165.30" y="710.4" width="4.30" height="2.3" fill="#56a4cd" stroke="#2a7098" stroke-width="0.85"/>
<rect x="169.60" y="710.4" width="4.30" height="1.9" fill="#56a4cd" stroke="#2a7098" stroke-width="0.85"/>
<rect x="173.91" y="710.4" width="4.30" height="1.1" fill="#56a4cd" stroke="#2a7098" stroke-width="0.85"/>
<rect x="178.21" y="710.4" width="4.30" height="0.6" fill="#56a4cd" stroke="#2a7098" stroke-width="0.85"/>
<rect x="182.52" y="709.5" width="4.30" height="0.9" fill="#56a4cd" stroke="#2a7098" stroke-width="0.85"/>
<rect x="186.82" y="708.4" width="4.30" height="2.1" fill="#56a4cd" stroke="#2a7098" stroke-width="0.85"/>
<rect x="191.13" y="708.0" width="4.30" height="2.4" fill="#56a4cd" stroke="#2a7098" stroke-width="0.85"/>
<rect x="195.43" y="707.6" width="4.30" height="2.8" fill="#56a4cd" stroke="#2a7098" stroke-width="0.85"/>
<rect x="199.74" y="707.1" width="4.30" height="3.4" fill="#56a4cd" stroke="#2a7098" stroke-width="0.85"/>
<rect x="204.04" y="707.6" width="4.30" height="2.8" fill="#56a4cd" stroke="#2a7098" stroke-width="0.85"/>
<rect x="208.35" y="707.1" width="4.30" height="3.4" fill="#56a4cd" stroke="#2a7098" stroke-width="0.85"/>
<rect x="212.65" y="707.2" width="4.30" height="3.2" fill="#56a4cd" stroke="#2a7098" stroke-width="0.85"/>
<rect x="216.96" y="706.3" width="4.30" height="4.1" fill="#56a4cd" stroke="#2a7098" stroke-width="0.85"/>
<rect x="221.26" y="706.3" width="4.30" height="4.1" fill="#56a4cd" stroke="#2a7098" stroke-width="0.85"/>
<rect x="225.57" y="705.2" width="4.30" height="5.3" fill="#56a4cd" stroke="#2a7098" stroke-width="0.85"/>
<rect x="229.87" y="704.0" width="4.30" height="6.4" fill="#56a4cd" stroke="#2a7098" stroke-width="0.85"/>
<rect x="234.18" y="704.0" width="4.30" height="6.4" fill="#56a4cd" stroke="#2a7098" stroke-width="0.85"/>
<rect x="238.48" y="705.7" width="4.30" height="4.7" fill="#56a4cd" stroke="#2a7098" stroke-width="0.85"/>
<rect x="242.79" y="704.8" width="4.30" height="5.6" fill="#56a4cd" stroke="#2a7098" stroke-width="0.85"/>
<rect x="247.09" y="704.0" width="4.30" height="6.4" fill="#56a4cd" stroke="#2a7098" stroke-width="0.85"/>
<rect x="251.40" y="705.2" width="4.30" height="5.3" fill="#56a4cd" stroke="#2a7098" stroke-width="0.85"/>
<rect x="255.70" y="710.4" width="4.30" height="0.9" fill="#56a4cd" stroke="#2a7098" stroke-width="0.85"/>
<rect x="260.01" y="710.4" width="4.30" height="5.6" fill="#56a4cd" stroke="#2a7098" stroke-width="0.85"/>
<rect x="264.31" y="710.4" width="4.30" height="10.3" fill="#56a4cd" stroke="#2a7098" stroke-width="0.85"/>
<rect x="268.62" y="710.4" width="4.30" height="18.8" fill="#56a4cd" stroke="#2a7098" stroke-width="0.85"/>
<rect x="272.92" y="710.4" width="4.30" height="19.7" fill="#56a4cd" stroke="#2a7098" stroke-width="0.85"/>
<rect x="277.23" y="710.4" width="4.30" height="20.3" fill="#56a4cd" stroke="#2a7098" stroke-width="0.85"/>
<rect x="281.53" y="710.4" width="4.30" height="15.6" fill="#56a4cd" stroke="#2a7098" stroke-width="0.85"/>
<rect x="285.84" y="710.4" width="4.30" height="9.4" fill="#56a4cd" stroke="#2a7098" stroke-width="0.85"/>
<rect x="290.14" y="710.4" width="4.30" height="4.7" fill="#56a4cd" stroke="#2a7098" stroke-width="0.85"/>
<rect x="294.45" y="710.4" width="4.30" height="2.4" fill="#56a4cd" stroke="#2a7098" stroke-width="0.85"/>
<rect x="298.75" y="708.0" width="4.30" height="2.4" fill="#56a4cd" stroke="#2a7098" stroke-width="0.85"/>
<rect x="303.06" y="705.7" width="4.30" height="4.7" fill="#56a4cd" stroke="#2a7098" stroke-width="0.85"/>
<rect x="307.36" y="703.5" width="4.30" height="6.9" fill="#56a4cd" stroke="#2a7098" stroke-width="0.85"/>
<rect x="311.67" y="701.6" width="4.30" height="8.8" fill="#56a4cd" stroke="#2a7098" stroke-width="0.85"/>
<rect x="315.97" y="700.1" width="4.30" height="10.3" fill="#56a4cd" stroke="#2a7098" stroke-width="0.85"/>
<rect x="320.28" y="700.1" width="4.30" height="10.3" fill="#56a4cd" stroke="#2a7098" stroke-width="0.85"/>
<rect x="324.58" y="699.2" width="4.30" height="11.3" fill="#56a4cd" stroke="#2a7098" stroke-width="0.85"/>
<rect x="328.89" y="700.1" width="4.30" height="10.3" fill="#56a4cd" stroke="#2a7098" stroke-width="0.85"/>
<rect x="333.19" y="699.2" width="4.30" height="11.3" fill="#56a4cd" stroke="#2a7098" stroke-width="0.85"/>
<rect x="337.50" y="696.7" width="4.30" height="13.7" fill="#56a4cd" stroke="#2a7098" stroke-width="0.85"/>
<rect x="341.80" y="696.7" width="4.30" height="13.7" fill="#56a4cd" stroke="#2a7098" stroke-width="0.85"/>
<rect x="346.11" y="698.8" width="4.30" height="11.6" fill="#56a4cd" stroke="#2a7098" stroke-width="0.85"/>
<rect x="350.41" y="699.7" width="4.30" height="10.7" fill="#56a4cd" stroke="#2a7098" stroke-width="0.85"/>
<rect x="354.72" y="699.2" width="4.30" height="11.3" fill="#56a4cd" stroke="#2a7098" stroke-width="0.85"/>
<rect x="359.02" y="699.2" width="4.30" height="11.3" fill="#56a4cd" stroke="#2a7098" stroke-width="0.85"/>
<rect x="363.33" y="699.2" width="4.30" height="11.3" fill="#56a4cd" stroke="#2a7098" stroke-width="0.85"/>
<rect x="367.63" y="697.3" width="4.30" height="13.1" fill="#56a4cd" stroke="#2a7098" stroke-width="0.85"/>
<rect x="371.94" y="698.6" width="4.30" height="11.8" fill="#56a4cd" stroke="#2a7098" stroke-width="0.85"/>
<rect x="376.24" y="703.9" width="4.30" height="6.6" fill="#56a4cd" stroke="#2a7098" stroke-width="0.85"/>
<rect x="380.55" y="708.9" width="4.30" height="1.5" fill="#56a4cd" stroke="#2a7098" stroke-width="0.85"/>
<rect x="384.85" y="710.4" width="4.30" height="1.9" fill="#56a4cd" stroke="#2a7098" stroke-width="0.85"/>
<rect x="389.16" y="710.4" width="4.30" height="3.4" fill="#56a4cd" stroke="#2a7098" stroke-width="0.85"/>
<rect x="393.46" y="710.4" width="4.30" height="1.3" fill="#56a4cd" stroke="#2a7098" stroke-width="0.85"/>
<rect x="397.77" y="710.4" width="4.30" height="0.6" fill="#56a4cd" stroke="#2a7098" stroke-width="0.85"/>
<rect x="402.07" y="710.4" width="4.30" height="1.3" fill="#56a4cd" stroke="#2a7098" stroke-width="0.85"/>
<rect x="406.38" y="710.4" width="4.30" height="5.6" fill="#56a4cd" stroke="#2a7098" stroke-width="0.85"/>
<rect x="410.68" y="710.4" width="4.30" height="2.8" fill="#56a4cd" stroke="#2a7098" stroke-width="0.85"/>
<rect x="414.99" y="710.4" width="4.30" height="1.9" fill="#56a4cd" stroke="#2a7098" stroke-width="0.85"/>
<rect x="419.29" y="710.4" width="4.30" height="1.9" fill="#56a4cd" stroke="#2a7098" stroke-width="0.85"/>
<rect x="423.60" y="710.4" width="4.30" height="0.9" fill="#56a4cd" stroke="#2a7098" stroke-width="0.85"/>
<rect x="427.90" y="709.1" width="4.30" height="1.3" fill="#56a4cd" stroke="#2a7098" stroke-width="0.85"/>
<rect x="432.21" y="709.9" width="4.30" height="0.6" fill="#56a4cd" stroke="#2a7098" stroke-width="0.85"/>
<rect x="436.51" y="708.6" width="4.30" height="1.9" fill="#56a4cd" stroke="#2a7098" stroke-width="0.85"/>
<rect x="440.82" y="708.6" width="4.30" height="1.9" fill="#56a4cd" stroke="#2a7098" stroke-width="0.85"/>
<rect x="445.12" y="707.6" width="4.30" height="2.8" fill="#56a4cd" stroke="#2a7098" stroke-width="0.85"/>
<rect x="449.43" y="707.6" width="4.30" height="2.8" fill="#56a4cd" stroke="#2a7098" stroke-width="0.85"/>
<rect x="453.73" y="709.1" width="4.30" height="1.3" fill="#56a4cd" stroke="#2a7098" stroke-width="0.85"/>
<rect x="458.04" y="707.6" width="4.30" height="2.8" fill="#56a4cd" stroke="#2a7098" stroke-width="0.85"/>
<rect x="462.34" y="709.9" width="4.30" height="0.6" fill="#56a4cd" stroke="#2a7098" stroke-width="0.85"/>
<rect x="466.65" y="708.6" width="4.30" height="1.9" fill="#56a4cd" stroke="#2a7098" stroke-width="0.85"/>
<rect x="470.95" y="706.9" width="4.30" height="3.6" fill="#56a4cd" stroke="#2a7098" stroke-width="0.85"/>
<rect x="475.26" y="707.6" width="4.30" height="2.8" fill="#56a4cd" stroke="#2a7098" stroke-width="0.85"/>
<rect x="479.56" y="710.4" width="4.30" height="2.3" fill="#56a4cd" stroke="#2a7098" stroke-width="0.85"/>
<rect x="483.87" y="710.4" width="4.30" height="6.6" fill="#56a4cd" stroke="#2a7098" stroke-width="0.85"/>
<rect x="488.17" y="710.4" width="4.30" height="8.5" fill="#56a4cd" stroke="#2a7098" stroke-width="0.85"/>
<rect x="492.48" y="710.4" width="4.30" height="10.3" fill="#56a4cd" stroke="#2a7098" stroke-width="0.85"/>
<rect x="496.78" y="710.4" width="4.30" height="11.3" fill="#56a4cd" stroke="#2a7098" stroke-width="0.85"/>
<rect x="501.09" y="710.4" width="4.30" height="9.8" fill="#56a4cd" stroke="#2a7098" stroke-width="0.85"/>
<rect x="505.39" y="710.4" width="4.30" height="5.6" fill="#56a4cd" stroke="#2a7098" stroke-width="0.85"/>
<rect x="509.70" y="710.4" width="4.30" height="1.9" fill="#56a4cd" stroke="#2a7098" stroke-width="0.85"/>
<rect x="514.00" y="710.4" width="4.30" height="0.6" fill="#56a4cd" stroke="#2a7098" stroke-width="0.85"/>
<rect x="518.31" y="710.4" width="4.30" height="0.6" fill="#56a4cd" stroke="#2a7098" stroke-width="0.85"/>
<rect x="522.61" y="710.4" width="4.30" height="0.9" fill="#56a4cd" stroke="#2a7098" stroke-width="0.85"/>
<rect x="526.92" y="710.4" width="4.30" height="5.3" fill="#56a4cd" stroke="#2a7098" stroke-width="0.85"/>
<rect x="531.22" y="710.4" width="4.30" height="6.6" fill="#56a4cd" stroke="#2a7098" stroke-width="0.85"/>
<rect x="535.53" y="710.4" width="4.30" height="6.0" fill="#56a4cd" stroke="#2a7098" stroke-width="0.85"/>
<rect x="539.83" y="710.4" width="4.30" height="6.0" fill="#56a4cd" stroke="#2a7098" stroke-width="0.85"/>
<rect x="544.14" y="710.4" width="4.30" height="4.3" fill="#56a4cd" stroke="#2a7098" stroke-width="0.85"/>
<rect x="548.44" y="710.4" width="4.30" height="3.4" fill="#56a4cd" stroke="#2a7098" stroke-width="0.85"/>
<rect x="552.75" y="710.4" width="4.30" height="1.9" fill="#56a4cd" stroke="#2a7098" stroke-width="0.85"/>
<rect x="557.05" y="708.6" width="4.30" height="1.9" fill="#56a4cd" stroke="#2a7098" stroke-width="0.85"/>
<rect x="561.36" y="707.1" width="4.30" height="3.4" fill="#56a4cd" stroke="#2a7098" stroke-width="0.85"/>
<rect x="565.66" y="707.1" width="4.30" height="3.4" fill="#56a4cd" stroke="#2a7098" stroke-width="0.85"/>
<rect x="569.97" y="704.8" width="4.30" height="5.6" fill="#56a4cd" stroke="#2a7098" stroke-width="0.85"/>
<rect x="574.27" y="705.7" width="4.30" height="4.7" fill="#56a4cd" stroke="#2a7098" stroke-width="0.85"/>
<rect x="578.58" y="705.7" width="4.30" height="4.7" fill="#56a4cd" stroke="#2a7098" stroke-width="0.85"/>
<rect x="582.88" y="705.7" width="4.30" height="4.7" fill="#56a4cd" stroke="#2a7098" stroke-width="0.85"/>
<rect x="587.19" y="707.6" width="4.30" height="2.8" fill="#56a4cd" stroke="#2a7098" stroke-width="0.85"/>
<rect x="591.49" y="706.7" width="4.30" height="3.8" fill="#56a4cd" stroke="#2a7098" stroke-width="0.85"/>
<rect x="595.80" y="706.1" width="4.30" height="4.3" fill="#56a4cd" stroke="#2a7098" stroke-width="0.85"/>
<rect x="600.10" y="707.2" width="4.30" height="3.2" fill="#56a4cd" stroke="#2a7098" stroke-width="0.85"/>
<rect x="604.41" y="708.6" width="4.30" height="1.9" fill="#56a4cd" stroke="#2a7098" stroke-width="0.85"/>
<rect x="608.71" y="710.4" width="4.30" height="0.6" fill="#56a4cd" stroke="#2a7098" stroke-width="0.85"/>
<rect x="613.02" y="710.4" width="4.30" height="6.0" fill="#56a4cd" stroke="#2a7098" stroke-width="0.85"/>
<rect x="617.32" y="710.4" width="4.30" height="8.5" fill="#56a4cd" stroke="#2a7098" stroke-width="0.85"/>
<rect x="621.63" y="710.4" width="4.30" height="8.5" fill="#56a4cd" stroke="#2a7098" stroke-width="0.85"/>
<rect x="625.93" y="710.4" width="4.30" height="7.5" fill="#56a4cd" stroke="#2a7098" stroke-width="0.85"/>
<rect x="630.24" y="710.4" width="4.30" height="4.3" fill="#56a4cd" stroke="#2a7098" stroke-width="0.85"/>
<rect x="634.54" y="709.9" width="4.30" height="0.6" fill="#56a4cd" stroke="#2a7098" stroke-width="0.85"/>
<rect x="638.85" y="707.6" width="4.30" height="2.8" fill="#56a4cd" stroke="#2a7098" stroke-width="0.85"/>
<rect x="643.15" y="706.1" width="4.30" height="4.3" fill="#56a4cd" stroke="#2a7098" stroke-width="0.85"/>
<rect x="647.46" y="708.0" width="4.30" height="2.4" fill="#56a4cd" stroke="#2a7098" stroke-width="0.85"/>
<rect x="651.76" y="710.4" width="4.30" height="0.6" fill="#56a4cd" stroke="#2a7098" stroke-width="0.85"/>
<rect x="656.07" y="709.9" width="4.30" height="0.6" fill="#56a4cd" stroke="#2a7098" stroke-width="0.85"/>
<rect x="660.37" y="710.4" width="4.30" height="3.2" fill="#56a4cd" stroke="#2a7098" stroke-width="0.85"/>
<rect x="664.68" y="710.4" width="4.30" height="2.4" fill="#56a4cd" stroke="#2a7098" stroke-width="0.85"/>
<rect x="668.98" y="710.4" width="4.30" height="2.4" fill="#56a4cd" stroke="#2a7098" stroke-width="0.85"/>
<rect x="673.29" y="710.4" width="4.30" height="5.6" fill="#56a4cd" stroke="#2a7098" stroke-width="0.85"/>
<rect x="677.59" y="710.4" width="4.30" height="8.5" fill="#56a4cd" stroke="#2a7098" stroke-width="0.85"/>
<rect x="681.90" y="710.4" width="4.30" height="16.3" fill="#56a4cd" stroke="#2a7098" stroke-width="0.85"/>
<rect x="686.20" y="710.4" width="4.30" height="20.7" fill="#56a4cd" stroke="#2a7098" stroke-width="0.85"/>
<rect x="690.51" y="710.4" width="4.30" height="21.6" fill="#56a4cd" stroke="#2a7098" stroke-width="0.85"/>
<rect x="694.81" y="710.4" width="4.30" height="23.5" fill="#56a4cd" stroke="#2a7098" stroke-width="0.85"/>
<rect x="699.12" y="710.4" width="4.30" height="24.8" fill="#56a4cd" stroke="#2a7098" stroke-width="0.85"/>
<rect x="703.42" y="710.4" width="4.30" height="24.0" fill="#56a4cd" stroke="#2a7098" stroke-width="0.85"/>
<rect x="707.73" y="710.4" width="4.30" height="24.0" fill="#56a4cd" stroke="#2a7098" stroke-width="0.85"/>
<rect x="712.03" y="710.4" width="4.30" height="25.4" fill="#56a4cd" stroke="#2a7098" stroke-width="0.85"/>
<rect x="716.34" y="710.4" width="4.30" height="18.8" fill="#56a4cd" stroke="#2a7098" stroke-width="0.85"/>
<rect x="720.64" y="710.4" width="4.30" height="11.3" fill="#56a4cd" stroke="#2a7098" stroke-width="0.85"/>
<rect x="724.95" y="710.4" width="4.30" height="6.2" fill="#56a4cd" stroke="#2a7098" stroke-width="0.85"/>
<rect x="729.25" y="710.4" width="4.30" height="4.7" fill="#56a4cd" stroke="#2a7098" stroke-width="0.85"/>
<rect x="733.56" y="710.4" width="4.30" height="5.6" fill="#56a4cd" stroke="#2a7098" stroke-width="0.85"/>
<rect x="737.86" y="710.4" width="4.30" height="10.3" fill="#56a4cd" stroke="#2a7098" stroke-width="0.85"/>
<rect x="742.17" y="710.4" width="4.30" height="14.1" fill="#56a4cd" stroke="#2a7098" stroke-width="0.85"/>
<rect x="746.47" y="710.4" width="4.30" height="16.5" fill="#56a4cd" stroke="#2a7098" stroke-width="0.85"/>
<rect x="750.78" y="710.4" width="4.30" height="18.8" fill="#56a4cd" stroke="#2a7098" stroke-width="0.85"/>
<rect x="755.08" y="710.4" width="4.30" height="21.2" fill="#56a4cd" stroke="#2a7098" stroke-width="0.85"/>
<rect x="759.39" y="710.4" width="4.30" height="19.3" fill="#56a4cd" stroke="#2a7098" stroke-width="0.85"/>
<rect x="763.69" y="710.4" width="4.30" height="16.0" fill="#56a4cd" stroke="#2a7098" stroke-width="0.85"/>
<rect x="768.00" y="710.4" width="4.30" height="15.0" fill="#56a4cd" stroke="#2a7098" stroke-width="0.85"/>
<rect x="772.30" y="710.4" width="4.30" height="17.8" fill="#56a4cd" stroke="#2a7098" stroke-width="0.85"/>
<rect x="776.61" y="710.4" width="4.30" height="14.1" fill="#56a4cd" stroke="#2a7098" stroke-width="0.85"/>
<rect x="780.91" y="710.4" width="4.30" height="11.8" fill="#56a4cd" stroke="#2a7098" stroke-width="0.85"/>
<rect x="785.22" y="710.4" width="4.30" height="7.5" fill="#56a4cd" stroke="#2a7098" stroke-width="0.85"/>
<rect x="789.52" y="710.4" width="4.30" height="4.3" fill="#56a4cd" stroke="#2a7098" stroke-width="0.85"/>
<rect x="793.83" y="709.5" width="4.30" height="0.9" fill="#56a4cd" stroke="#2a7098" stroke-width="0.85"/>
<rect x="798.13" y="703.5" width="4.30" height="6.9" fill="#56a4cd" stroke="#2a7098" stroke-width="0.85"/>
<rect x="802.44" y="697.3" width="4.30" height="13.1" fill="#56a4cd" stroke="#2a7098" stroke-width="0.85"/>
<rect x="806.74" y="692.2" width="4.30" height="18.2" fill="#56a4cd" stroke="#2a7098" stroke-width="0.85"/>
<rect x="811.05" y="691.3" width="4.30" height="19.2" fill="#56a4cd" stroke="#2a7098" stroke-width="0.85"/>
<rect x="815.35" y="695.0" width="4.30" height="15.4" fill="#56a4cd" stroke="#2a7098" stroke-width="0.85"/>
<rect x="819.66" y="699.7" width="4.30" height="10.7" fill="#56a4cd" stroke="#2a7098" stroke-width="0.85"/>
<rect x="823.96" y="700.7" width="4.30" height="9.8" fill="#56a4cd" stroke="#2a7098" stroke-width="0.85"/>
<rect x="828.27" y="705.7" width="4.30" height="4.7" fill="#56a4cd" stroke="#2a7098" stroke-width="0.85"/>
<rect x="832.57" y="710.4" width="4.30" height="0.6" fill="#56a4cd" stroke="#2a7098" stroke-width="0.85"/>
<rect x="836.88" y="710.4" width="4.30" height="6.0" fill="#56a4cd" stroke="#2a7098" stroke-width="0.85"/>
<rect x="841.18" y="710.4" width="4.30" height="8.8" fill="#56a4cd" stroke="#2a7098" stroke-width="0.85"/>
<rect x="845.49" y="710.4" width="4.30" height="11.3" fill="#56a4cd" stroke="#2a7098" stroke-width="0.85"/>
<rect x="849.79" y="710.4" width="4.30" height="8.8" fill="#56a4cd" stroke="#2a7098" stroke-width="0.85"/>
<rect x="854.10" y="710.4" width="4.30" height="4.7" fill="#56a4cd" stroke="#2a7098" stroke-width="0.85"/>
<rect x="858.40" y="710.4" width="4.30" height="5.3" fill="#56a4cd" stroke="#2a7098" stroke-width="0.85"/>
<rect x="862.71" y="709.9" width="4.30" height="0.6" fill="#56a4cd" stroke="#2a7098" stroke-width="0.85"/>
<rect x="867.01" y="708.0" width="4.30" height="2.4" fill="#56a4cd" stroke="#2a7098" stroke-width="0.85"/>
<rect x="871.32" y="705.2" width="4.30" height="5.3" fill="#56a4cd" stroke="#2a7098" stroke-width="0.85"/>
<rect x="875.62" y="701.6" width="4.30" height="8.8" fill="#56a4cd" stroke="#2a7098" stroke-width="0.85"/>
<rect x="879.93" y="702.4" width="4.30" height="8.1" fill="#56a4cd" stroke="#2a7098" stroke-width="0.85"/>
<rect x="884.23" y="703.9" width="4.30" height="6.6" fill="#56a4cd" stroke="#2a7098" stroke-width="0.85"/>
<rect x="888.54" y="707.6" width="4.30" height="2.8" fill="#56a4cd" stroke="#2a7098" stroke-width="0.85"/>
<rect x="892.84" y="709.5" width="4.30" height="0.9" fill="#56a4cd" stroke="#2a7098" stroke-width="0.85"/>
<rect x="897.15" y="709.5" width="4.30" height="0.9" fill="#56a4cd" stroke="#2a7098" stroke-width="0.85"/>
<rect x="901.45" y="707.1" width="4.30" height="3.4" fill="#56a4cd" stroke="#2a7098" stroke-width="0.85"/>
<rect x="905.76" y="704.2" width="4.30" height="6.2" fill="#56a4cd" stroke="#2a7098" stroke-width="0.85"/>
<rect x="910.06" y="700.1" width="4.30" height="10.3" fill="#56a4cd" stroke="#2a7098" stroke-width="0.85"/>
<rect x="914.37" y="696.0" width="4.30" height="14.5" fill="#56a4cd" stroke="#2a7098" stroke-width="0.85"/>
<rect x="918.67" y="694.8" width="4.30" height="15.6" fill="#56a4cd" stroke="#2a7098" stroke-width="0.85"/>
<rect x="922.98" y="694.8" width="4.30" height="15.6" fill="#56a4cd" stroke="#2a7098" stroke-width="0.85"/>
<rect x="927.28" y="697.3" width="4.30" height="13.1" fill="#56a4cd" stroke="#2a7098" stroke-width="0.85"/>
<rect x="931.59" y="698.2" width="4.30" height="12.2" fill="#56a4cd" stroke="#2a7098" stroke-width="0.85"/>
<rect x="935.89" y="701.0" width="4.30" height="9.4" fill="#56a4cd" stroke="#2a7098" stroke-width="0.85"/>
<rect x="940.20" y="700.1" width="4.30" height="10.3" fill="#56a4cd" stroke="#2a7098" stroke-width="0.85"/>
<rect x="944.50" y="698.2" width="4.30" height="12.2" fill="#56a4cd" stroke="#2a7098" stroke-width="0.85"/>
<rect x="948.81" y="695.8" width="4.30" height="14.6" fill="#56a4cd" stroke="#2a7098" stroke-width="0.85"/>
<rect x="953.11" y="695.8" width="4.30" height="14.6" fill="#56a4cd" stroke="#2a7098" stroke-width="0.85"/>
<rect x="957.42" y="696.9" width="4.30" height="13.5" fill="#56a4cd" stroke="#2a7098" stroke-width="0.85"/>
<rect x="961.72" y="698.2" width="4.30" height="12.2" fill="#56a4cd" stroke="#2a7098" stroke-width="0.85"/>
<rect x="966.03" y="698.2" width="4.30" height="12.2" fill="#56a4cd" stroke="#2a7098" stroke-width="0.85"/>
<rect x="970.33" y="699.7" width="4.30" height="10.7" fill="#56a4cd" stroke="#2a7098" stroke-width="0.85"/>
<rect x="974.64" y="701.0" width="4.30" height="9.4" fill="#56a4cd" stroke="#2a7098" stroke-width="0.85"/>
<rect x="978.94" y="698.8" width="4.30" height="11.6" fill="#56a4cd" stroke="#2a7098" stroke-width="0.85"/>
<rect x="983.25" y="696.9" width="4.30" height="13.5" fill="#56a4cd" stroke="#2a7098" stroke-width="0.85"/>
<rect x="987.55" y="695.0" width="4.30" height="15.4" fill="#56a4cd" stroke="#2a7098" stroke-width="0.85"/>
<rect x="991.86" y="695.0" width="4.30" height="15.4" fill="#56a4cd" stroke="#2a7098" stroke-width="0.85"/>
<rect x="996.16" y="693.0" width="4.30" height="17.5" fill="#56a4cd" stroke="#2a7098" stroke-width="0.85"/>
<rect x="1000.47" y="693.5" width="4.30" height="16.9" fill="#56a4cd" stroke="#2a7098" stroke-width="0.85"/>
<rect x="1004.77" y="694.8" width="4.30" height="15.6" fill="#56a4cd" stroke="#2a7098" stroke-width="0.85"/>
<rect x="1009.08" y="696.7" width="4.30" height="13.7" fill="#56a4cd" stroke="#2a7098" stroke-width="0.85"/>
<rect x="1013.38" y="696.7" width="4.30" height="13.7" fill="#56a4cd" stroke="#2a7098" stroke-width="0.85"/>
<rect x="1017.69" y="696.7" width="4.30" height="13.7" fill="#56a4cd" stroke="#2a7098" stroke-width="0.85"/>
</g>
<rect x="28.4" y="631.3" width="997.0000000000001" height="153.9000000000001" fill="none" stroke="#cfcfcf" stroke-width="1"/>
<line x1="28.4" y1="631.3" x2="28.4" y2="785.2" stroke="#cdcdcd" stroke-width="1.8"/>
<path d="M28.7,718.4 L37.1,715.6 L45.6,711.8 L54.0,708.1 L61.6,705.2 L70.0,701.1 L76.6,698.3 L84.1,697.2 L92.5,697.5 L99.1,698.7 L106.6,698.3 L114.1,697.2 L121.7,696.0 L129.2,695.8 L136.7,696.4 L144.2,697.7 L151.7,698.7 L159.2,698.9 L166.7,699.2 L174.2,699.6 L179.9,699.6 L187.4,698.7 L194.9,697.4 L202.4,695.5 L211.8,693.4 L221.5,691.2 L229.0,688.3 L236.5,685.5 L244.0,683.6 L250.6,680.8 L254.4,680.3 L259.1,681.2 L263.8,684.6 L269.4,690.2 L275.0,696.8 L280.7,701.5 L286.3,704.3 L291.9,705.6 L297.6,705.2 L304.1,703.7 L311.7,700.0 L319.2,695.3 L326.7,690.6 L334.2,685.9 L341.7,679.9 L349.2,674.3 L356.7,668.6 L364.2,663.5 L371.7,658.3 L377.4,655.5 L383.0,654.5 L388.6,655.5 L394.3,656.0 L399.9,656.4 L405.5,657.4 L409.6,658.7 L417.1,659.6 L424.7,660.2 L432.2,659.6 L441.6,657.9 L450.9,656.0 L460.3,654.9 L469.7,653.6 L477.2,652.7 L482.9,653.2 L488.5,656.0 L494.1,659.2 L499.8,662.6 L505.4,664.5 L512.9,665.2 L520.4,665.4 L527.9,666.7 L535.5,669.0 L543.0,671.1 L550.5,672.4 L556.1,672.4 L563.6,671.1 L571.1,668.6 L578.6,666.4 L586.2,664.9 L593.7,663.0 L599.6,660.2 L605.3,660.2 L610.9,661.1 L616.5,663.5 L622.2,665.8 L627.8,667.7 L633.4,668.2 L639.1,667.7 L646.6,666.4 L654.1,665.8 L661.6,665.8 L669.1,666.4 L674.8,667.7 L680.4,670.5 L686.0,677.1 L691.7,684.6 L697.3,692.1 L702.9,699.6 L708.6,707.1 L714.2,714.6 L719.8,719.9 L725.5,723.1 L733.0,725.9 L738.6,728.7 L744.2,733.4 L749.9,739.0 L755.5,745.6 L761.1,751.2 L766.8,756.3 L772.4,761.6 L778.0,766.3 L783.7,769.7 L789.6,771.0 L795.3,770.6 L802.8,766.3 L810.3,757.8 L817.8,751.2 L825.3,746.6 L830.9,745.1 L836.6,746.6 L844.1,750.3 L851.6,753.7 L859.1,755.4 L864.8,755.4 L872.3,753.1 L879.8,749.4 L887.3,746.6 L894.8,745.6 L900.4,744.7 L907.9,741.5 L915.5,735.8 L923.0,729.3 L930.5,723.1 L938.0,718.4 L945.5,713.1 L953.0,707.1 L960.5,701.5 L961.9,699.6 L967.5,696.4 L973.2,693.0 L978.8,689.3 L984.4,684.6 L990.1,679.9 L995.7,675.2 L1001.3,669.6 L1007.0,663.9 L1012.6,658.9 L1019.2,652.1" fill="none" stroke="#f43a3a" stroke-width="1.35" stroke-linejoin="round" stroke-linecap="round" />
<path d="M28.7,713.7 L37.1,709.9 L45.6,705.8 L54.0,700.5 L58.7,697.7 L64.4,694.9 L70.0,692.1 L73.8,691.3 L78.5,692.5 L84.1,695.8 L88.8,698.3 L93.5,699.2 L98.2,700.0 L102.9,698.3 L110.4,696.8 L117.0,694.5 L123.5,693.4 L128.2,694.5 L134.8,697.7 L140.4,700.2 L147.9,700.2 L154.5,699.0 L159.2,699.2 L166.7,700.9 L174.2,701.1 L179.9,699.6 L185.5,697.7 L193.0,694.9 L200.5,692.5 L209.0,690.6 L215.5,688.3 L219.6,686.5 L227.1,683.1 L233.7,679.9 L239.4,679.3 L244.0,677.6 L248.7,674.6 L252.5,674.6 L256.3,678.9 L261.9,687.4 L266.6,697.7 L271.3,709.0 L275.0,715.6 L278.8,718.4 L282.5,717.4 L287.2,712.4 L291.9,708.6 L296.6,706.2 L302.3,700.5 L309.8,693.6 L317.3,686.1 L322.9,681.8 L326.7,678.6 L330.4,677.6 L335.1,672.4 L339.8,666.7 L344.5,663.9 L349.2,662.6 L355.8,657.4 L362.4,652.7 L368.0,646.6 L372.7,645.1 L376.4,647.0 L380.2,651.7 L384.0,655.5 L389.6,658.3 L395.2,657.0 L399.9,656.4 L403.7,657.7 L407.8,663.0 L408.4,663.4 L412.5,661.5 L420.0,661.5 L426.5,660.2 L433.1,657.9 L438.7,656.0 L445.3,654.5 L450.9,652.7 L454.7,654.2 L459.4,651.7 L464.1,653.2 L468.8,651.3 L472.5,649.5 L477.2,649.5 L481.0,654.5 L485.7,661.1 L491.3,665.8 L497.0,670.5 L501.7,672.0 L506.3,669.6 L512.0,666.4 L517.6,664.9 L523.2,665.8 L527.9,669.6 L533.6,674.3 L541.1,676.5 L548.6,675.6 L554.2,673.3 L558.9,669.6 L563.6,666.4 L567.4,665.4 L572.1,662.0 L578.6,660.5 L584.3,659.6 L589.0,660.2 L593.7,658.3 L597.4,657.0 L597.8,657.0 L602.5,657.9 L607.1,660.2 L610.9,663.0 L615.6,668.6 L620.3,672.4 L625.0,674.3 L627.8,674.3 L632.5,671.4 L636.3,666.7 L640.0,664.9 L644.7,660.7 L648.5,662.0 L653.2,665.8 L657.8,665.4 L661.6,668.2 L666.3,668.6 L670.1,668.6 L674.8,674.3 L679.4,679.9 L684.1,691.2 L688.8,699.6 L693.5,706.2 L698.2,714.6 L703.9,722.1 L708.6,728.7 L714.2,740.0 L718.9,737.2 L722.6,733.4 L727.3,729.7 L732.0,730.6 L736.7,734.3 L742.4,742.8 L748.0,752.2 L752.7,759.7 L757.4,767.2 L761.1,768.2 L764.9,768.2 L769.6,773.8 L773.3,779.0 L777.1,777.5 L781.8,779.4 L787.4,775.7 L789.6,775.7 L794.3,771.0 L799.0,761.6 L803.7,752.2 L808.4,742.8 L812.2,736.8 L815.9,735.7 L820.6,738.1 L825.3,736.2 L830.0,740.9 L834.7,748.4 L839.4,754.1 L844.1,757.8 L847.8,761.6 L851.6,761.2 L855.4,758.2 L860.1,760.6 L863.8,755.0 L868.5,750.3 L873.2,744.7 L877.0,740.9 L880.7,739.6 L885.4,740.5 L891.0,743.2 L896.7,744.7 L901.4,741.9 L907.0,736.2 L911.7,728.7 L916.4,720.3 L921.1,715.6 L924.8,712.4 L928.6,711.8 L932.4,709.4 L937.1,709.6 L941.7,705.2 L947.4,698.3 L953.0,692.1 L958.6,687.4 L962.4,686.8 L962.8,686.8 L967.5,684.2 L972.2,681.4 L976.0,680.5 L980.7,676.1 L985.4,669.6 L990.1,663.5 L994.8,658.3 L998.5,653.6 L1002.3,650.8 L1007.0,646.6 L1010.7,646.1 L1015.4,641.4 L1019.2,638.0" fill="none" stroke="#1c1c1c" stroke-width="2.1" stroke-linejoin="round" stroke-linecap="round" />
<text x="1045.8" y="780.2" font-size="8.5" fill="#222" text-anchor="end" font-weight="normal" textLength="17.6" lengthAdjust="spacingAndGlyphs" >-800</text>
<text x="1045.8" y="763.3" font-size="8.5" fill="#222" text-anchor="end" font-weight="normal" textLength="17.6" lengthAdjust="spacingAndGlyphs" >-600</text>
<text x="1045.8" y="746.3" font-size="8.5" fill="#222" text-anchor="end" font-weight="normal" textLength="17.6" lengthAdjust="spacingAndGlyphs" >-400</text>
<text x="1045.8" y="729.4" font-size="8.5" fill="#222" text-anchor="end" font-weight="normal" textLength="17.6" lengthAdjust="spacingAndGlyphs" >-200</text>
<text x="1045.8" y="712.5" font-size="8.5" fill="#222" text-anchor="end" font-weight="normal" textLength="4.9" lengthAdjust="spacingAndGlyphs" >0</text>
<text x="1045.8" y="695.6" font-size="8.5" fill="#222" text-anchor="end" font-weight="normal" textLength="14.8" lengthAdjust="spacingAndGlyphs" >200</text>
<text x="1045.8" y="678.7" font-size="8.5" fill="#222" text-anchor="end" font-weight="normal" textLength="14.8" lengthAdjust="spacingAndGlyphs" >400</text>
<text x="1045.8" y="661.7" font-size="8.5" fill="#222" text-anchor="end" font-weight="normal" textLength="14.8" lengthAdjust="spacingAndGlyphs" >600</text>
<text x="1045.8" y="644.8" font-size="8.5" fill="#222" text-anchor="end" font-weight="normal" textLength="14.8" lengthAdjust="spacingAndGlyphs" >800</text>
<line x1="1025.4" y1="784.8" x2="1026.7" y2="784.8" stroke="#c8c8c8" stroke-width="0.8"/>
<line x1="1025.4" y1="781.5" x2="1026.7" y2="781.5" stroke="#c8c8c8" stroke-width="0.8"/>
<line x1="1025.4" y1="778.1" x2="1027.3000000000002" y2="778.1" stroke="#c8c8c8" stroke-width="0.8"/>
<line x1="1025.4" y1="774.7" x2="1026.7" y2="774.7" stroke="#c8c8c8" stroke-width="0.8"/>
<line x1="1025.4" y1="771.3" x2="1026.7" y2="771.3" stroke="#c8c8c8" stroke-width="0.8"/>
<line x1="1025.4" y1="767.9" x2="1026.7" y2="767.9" stroke="#c8c8c8" stroke-width="0.8"/>
<line x1="1025.4" y1="764.5" x2="1026.7" y2="764.5" stroke="#c8c8c8" stroke-width="0.8"/>
<line x1="1025.4" y1="761.2" x2="1027.3000000000002" y2="761.2" stroke="#c8c8c8" stroke-width="0.8"/>
<line x1="1025.4" y1="757.8" x2="1026.7" y2="757.8" stroke="#c8c8c8" stroke-width="0.8"/>
<line x1="1025.4" y1="754.4" x2="1026.7" y2="754.4" stroke="#c8c8c8" stroke-width="0.8"/>
<line x1="1025.4" y1="751.0" x2="1026.7" y2="751.0" stroke="#c8c8c8" stroke-width="0.8"/>
<line x1="1025.4" y1="747.6" x2="1026.7" y2="747.6" stroke="#c8c8c8" stroke-width="0.8"/>
<line x1="1025.4" y1="744.2" x2="1027.3000000000002" y2="744.2" stroke="#c8c8c8" stroke-width="0.8"/>
<line x1="1025.4" y1="740.9" x2="1026.7" y2="740.9" stroke="#c8c8c8" stroke-width="0.8"/>
<line x1="1025.4" y1="737.5" x2="1026.7" y2="737.5" stroke="#c8c8c8" stroke-width="0.8"/>
<line x1="1025.4" y1="734.1" x2="1026.7" y2="734.1" stroke="#c8c8c8" stroke-width="0.8"/>
<line x1="1025.4" y1="730.7" x2="1026.7" y2="730.7" stroke="#c8c8c8" stroke-width="0.8"/>
<line x1="1025.4" y1="727.3" x2="1027.3000000000002" y2="727.3" stroke="#c8c8c8" stroke-width="0.8"/>
<line x1="1025.4" y1="723.9" x2="1026.7" y2="723.9" stroke="#c8c8c8" stroke-width="0.8"/>
<line x1="1025.4" y1="720.6" x2="1026.7" y2="720.6" stroke="#c8c8c8" stroke-width="0.8"/>
<line x1="1025.4" y1="717.2" x2="1026.7" y2="717.2" stroke="#c8c8c8" stroke-width="0.8"/>
<line x1="1025.4" y1="713.8" x2="1026.7" y2="713.8" stroke="#c8c8c8" stroke-width="0.8"/>
<line x1="1025.4" y1="710.4" x2="1027.3000000000002" y2="710.4" stroke="#c8c8c8" stroke-width="0.8"/>
<line x1="1025.4" y1="707.0" x2="1026.7" y2="707.0" stroke="#c8c8c8" stroke-width="0.8"/>
<line x1="1025.4" y1="703.6" x2="1026.7" y2="703.6" stroke="#c8c8c8" stroke-width="0.8"/>
<line x1="1025.4" y1="700.2" x2="1026.7" y2="700.2" stroke="#c8c8c8" stroke-width="0.8"/>
<line x1="1025.4" y1="696.9" x2="1026.7" y2="696.9" stroke="#c8c8c8" stroke-width="0.8"/>
<line x1="1025.4" y1="693.5" x2="1027.3000000000002" y2="693.5" stroke="#c8c8c8" stroke-width="0.8"/>
<line x1="1025.4" y1="690.1" x2="1026.7" y2="690.1" stroke="#c8c8c8" stroke-width="0.8"/>
<line x1="1025.4" y1="686.7" x2="1026.7" y2="686.7" stroke="#c8c8c8" stroke-width="0.8"/>
<line x1="1025.4" y1="683.3" x2="1026.7" y2="683.3" stroke="#c8c8c8" stroke-width="0.8"/>
<line x1="1025.4" y1="679.9" x2="1026.7" y2="679.9" stroke="#c8c8c8" stroke-width="0.8"/>
<line x1="1025.4" y1="676.6" x2="1027.3000000000002" y2="676.6" stroke="#c8c8c8" stroke-width="0.8"/>
<line x1="1025.4" y1="673.2" x2="1026.7" y2="673.2" stroke="#c8c8c8" stroke-width="0.8"/>
<line x1="1025.4" y1="669.8" x2="1026.7" y2="669.8" stroke="#c8c8c8" stroke-width="0.8"/>
<line x1="1025.4" y1="666.4" x2="1026.7" y2="666.4" stroke="#c8c8c8" stroke-width="0.8"/>
<line x1="1025.4" y1="663.0" x2="1026.7" y2="663.0" stroke="#c8c8c8" stroke-width="0.8"/>
<line x1="1025.4" y1="659.6" x2="1027.3000000000002" y2="659.6" stroke="#c8c8c8" stroke-width="0.8"/>
<line x1="1025.4" y1="656.3" x2="1026.7" y2="656.3" stroke="#c8c8c8" stroke-width="0.8"/>
<line x1="1025.4" y1="652.9" x2="1026.7" y2="652.9" stroke="#c8c8c8" stroke-width="0.8"/>
<line x1="1025.4" y1="649.5" x2="1026.7" y2="649.5" stroke="#c8c8c8" stroke-width="0.8"/>
<line x1="1025.4" y1="646.1" x2="1026.7" y2="646.1" stroke="#c8c8c8" stroke-width="0.8"/>
<line x1="1025.4" y1="642.7" x2="1027.3000000000002" y2="642.7" stroke="#c8c8c8" stroke-width="0.8"/>
<line x1="1025.4" y1="639.3" x2="1026.7" y2="639.3" stroke="#c8c8c8" stroke-width="0.8"/>
<line x1="1025.4" y1="636.0" x2="1026.7" y2="636.0" stroke="#c8c8c8" stroke-width="0.8"/>
<line x1="1025.4" y1="632.6" x2="1026.7" y2="632.6" stroke="#c8c8c8" stroke-width="0.8"/>
<path d="M1023.5,636.7 L1026.7,632.2 L1062.3,632.2 L1062.3,641.2 L1026.7,641.2 Z" fill="#fff" stroke="#111" stroke-width="1.15"/>
<text x="1027.4" y="639.5" font-size="8.4" fill="#111" text-anchor="start" font-weight="normal" textLength="33.4" lengthAdjust="spacingAndGlyphs" >859.460</text>
<path d="M1023.5,651.1 L1026.7,646.5 L1062.3,646.5 L1062.3,655.7 L1026.7,655.7 Z" fill="#fff" stroke="#f81c1c" stroke-width="1.25"/>
<text x="1027.4" y="653.9" font-size="8.4" fill="#111" text-anchor="start" font-weight="normal" textLength="33.4" lengthAdjust="spacingAndGlyphs" >685.996</text>
<path d="M1023.5,695.1 L1026.7,690.6 L1062.3,690.6 L1062.3,699.6 L1026.7,699.6 Z" fill="#fff" stroke="#5078b0" stroke-width="1.25"/>
<text x="1027.4" y="697.9" font-size="8.4" fill="#111" text-anchor="start" font-weight="normal" textLength="33.4" lengthAdjust="spacingAndGlyphs" >173.464</text>
<line x1="30.2" y1="637.5" x2="37.4" y2="637.5" stroke="#111" stroke-width="1.8"/>
<text x="40.9" y="640.8" font-size="9.3" fill="#2a2a2a" text-anchor="start" font-weight="normal" textLength="115.0" lengthAdjust="spacing" >MACD(12,26,9) 859.460</text>
<text x="156.6" y="640.8" font-size="9.3" fill="#f02020" text-anchor="start" font-weight="normal" textLength="45.8" lengthAdjust="spacing" >, 685.996</text>
<text x="203.6" y="640.8" font-size="9.3" fill="#4a9fd0" text-anchor="start" font-weight="normal" textLength="45.2" lengthAdjust="spacing" >, 173.464</text>
<text x="38.3" y="794.7" font-size="8.6" fill="#262626" text-anchor="middle" font-weight="normal" >M</text>
<text x="55.5" y="794.7" font-size="8.6" fill="#262626" text-anchor="middle" font-weight="normal" >A</text>
<text x="77.0" y="794.7" font-size="8.6" fill="#262626" text-anchor="middle" font-weight="normal" >M</text>
<text x="94.3" y="794.7" font-size="8.6" fill="#262626" text-anchor="middle" font-weight="normal" >J</text>
<text x="111.5" y="794.7" font-size="8.6" fill="#262626" text-anchor="middle" font-weight="normal" >J</text>
<text x="133.0" y="794.7" font-size="8.6" fill="#262626" text-anchor="middle" font-weight="normal" >A</text>
<text x="150.2" y="794.7" font-size="8.6" fill="#262626" text-anchor="middle" font-weight="normal" >S</text>
<text x="171.8" y="794.7" font-size="8.6" fill="#262626" text-anchor="middle" font-weight="normal" >O</text>
<text x="189.0" y="794.7" font-size="8.6" fill="#262626" text-anchor="middle" font-weight="normal" >N</text>
<text x="206.2" y="794.7" font-size="8.6" fill="#262626" text-anchor="middle" font-weight="normal" >D</text>
<text x="227.6" y="794.7" font-size="9.3" fill="#111" text-anchor="middle" font-weight="bold" >20</text>
<text x="244.9" y="794.7" font-size="8.6" fill="#262626" text-anchor="middle" font-weight="normal" >F</text>
<text x="262.2" y="794.7" font-size="8.6" fill="#262626" text-anchor="middle" font-weight="normal" >M</text>
<text x="283.7" y="794.7" font-size="8.6" fill="#262626" text-anchor="middle" font-weight="normal" >A</text>
<text x="300.9" y="794.7" font-size="8.6" fill="#262626" text-anchor="middle" font-weight="normal" >M</text>
<text x="318.1" y="794.7" font-size="8.6" fill="#262626" text-anchor="middle" font-weight="normal" >J</text>
<text x="339.7" y="794.7" font-size="8.6" fill="#262626" text-anchor="middle" font-weight="normal" >J</text>
<text x="356.9" y="794.7" font-size="8.6" fill="#262626" text-anchor="middle" font-weight="normal" >A</text>
<text x="378.4" y="794.7" font-size="8.6" fill="#262626" text-anchor="middle" font-weight="normal" >S</text>
<text x="395.6" y="794.7" font-size="8.6" fill="#262626" text-anchor="middle" font-weight="normal" >O</text>
<text x="412.8" y="794.7" font-size="8.6" fill="#262626" text-anchor="middle" font-weight="normal" >N</text>
<text x="434.4" y="794.7" font-size="8.6" fill="#262626" text-anchor="middle" font-weight="normal" >D</text>
<text x="451.5" y="794.7" font-size="9.3" fill="#111" text-anchor="middle" font-weight="bold" >21</text>
<text x="468.8" y="794.7" font-size="8.6" fill="#262626" text-anchor="middle" font-weight="normal" >F</text>
<text x="486.0" y="794.7" font-size="8.6" fill="#262626" text-anchor="middle" font-weight="normal" >M</text>
<text x="507.5" y="794.7" font-size="8.6" fill="#262626" text-anchor="middle" font-weight="normal" >A</text>
<text x="524.8" y="794.7" font-size="8.6" fill="#262626" text-anchor="middle" font-weight="normal" >M</text>
<text x="546.3" y="794.7" font-size="8.6" fill="#262626" text-anchor="middle" font-weight="normal" >J</text>
<text x="563.5" y="794.7" font-size="8.6" fill="#262626" text-anchor="middle" font-weight="normal" >J</text>
<text x="580.7" y="794.7" font-size="8.6" fill="#262626" text-anchor="middle" font-weight="normal" >A</text>
<text x="602.3" y="794.7" font-size="8.6" fill="#262626" text-anchor="middle" font-weight="normal" >S</text>
<text x="619.5" y="794.7" font-size="8.6" fill="#262626" text-anchor="middle" font-weight="normal" >O</text>
<text x="636.7" y="794.7" font-size="8.6" fill="#262626" text-anchor="middle" font-weight="normal" >N</text>
<text x="658.2" y="794.7" font-size="8.6" fill="#262626" text-anchor="middle" font-weight="normal" >D</text>
<text x="675.3" y="794.7" font-size="9.3" fill="#111" text-anchor="middle" font-weight="bold" >22</text>
<text x="697.0" y="794.7" font-size="8.6" fill="#262626" text-anchor="middle" font-weight="normal" >F</text>
<text x="714.2" y="794.7" font-size="8.6" fill="#262626" text-anchor="middle" font-weight="normal" >M</text>
<text x="731.4" y="794.7" font-size="8.6" fill="#262626" text-anchor="middle" font-weight="normal" >A</text>
<text x="748.6" y="794.7" font-size="8.6" fill="#262626" text-anchor="middle" font-weight="normal" >M</text>
<text x="770.1" y="794.7" font-size="8.6" fill="#262626" text-anchor="middle" font-weight="normal" >J</text>
<text x="787.4" y="794.7" font-size="8.6" fill="#262626" text-anchor="middle" font-weight="normal" >J</text>
<text x="804.6" y="794.7" font-size="8.6" fill="#262626" text-anchor="middle" font-weight="normal" >A</text>
<text x="826.1" y="794.7" font-size="8.6" fill="#262626" text-anchor="middle" font-weight="normal" >S</text>
<text x="843.3" y="794.7" font-size="8.6" fill="#262626" text-anchor="middle" font-weight="normal" >O</text>
<text x="864.9" y="794.7" font-size="8.6" fill="#262626" text-anchor="middle" font-weight="normal" >N</text>
<text x="882.1" y="794.7" font-size="8.6" fill="#262626" text-anchor="middle" font-weight="normal" >D</text>
<text x="899.2" y="794.7" font-size="9.3" fill="#111" text-anchor="middle" font-weight="bold" >23</text>
<text x="920.8" y="794.7" font-size="8.6" fill="#262626" text-anchor="middle" font-weight="normal" >F</text>
<text x="938.0" y="794.7" font-size="8.6" fill="#262626" text-anchor="middle" font-weight="normal" >M</text>
<text x="955.3" y="794.7" font-size="8.6" fill="#262626" text-anchor="middle" font-weight="normal" >A</text>
<text x="972.5" y="794.7" font-size="8.6" fill="#262626" text-anchor="middle" font-weight="normal" >M</text>
<text x="994.0" y="794.7" font-size="8.6" fill="#262626" text-anchor="middle" font-weight="normal" >J</text>
<text x="1011.2" y="794.7" font-size="8.6" fill="#262626" text-anchor="middle" font-weight="normal" >J</text>
<line x1="29.19" y1="786.1" x2="1025.4" y2="786.1" stroke="#c4c4c4" stroke-width="1" stroke-dasharray="0.9,3.405"/>
</svg></body></html>
